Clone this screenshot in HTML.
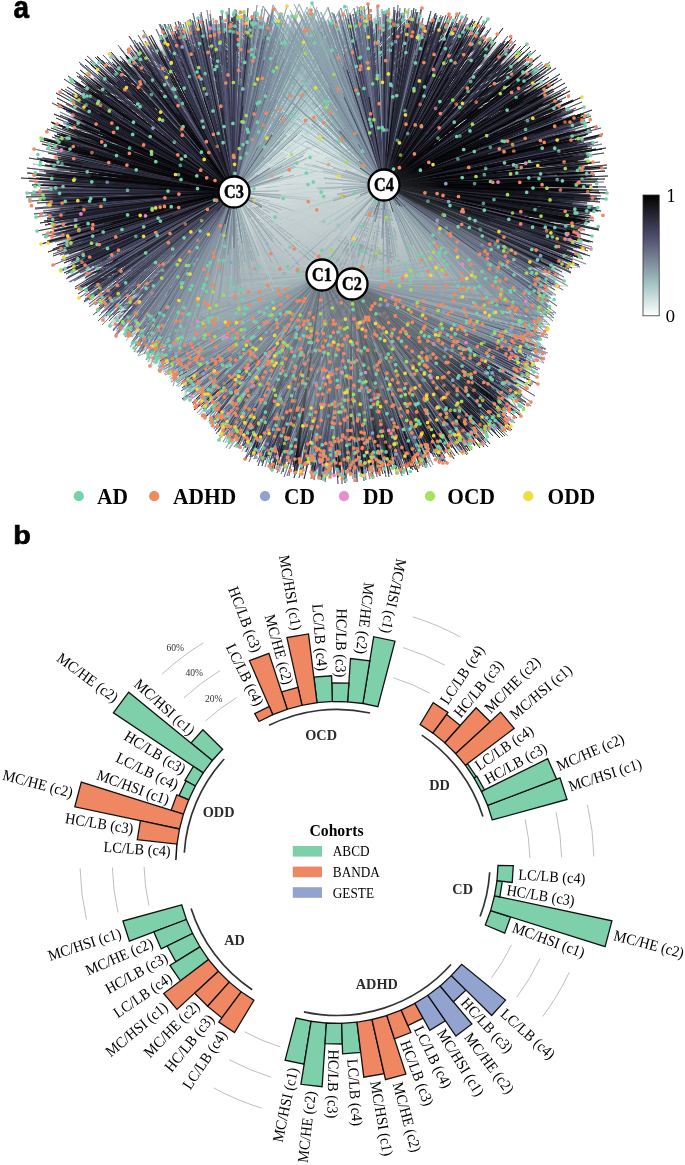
<!DOCTYPE html>
<html lang="en"><head><meta charset="utf-8"><title>Figure</title>
<style>
html,body{margin:0;padding:0;background:#fff;}
svg{display:block;}
text{font-family:"Liberation Serif",serif;fill:#000;}
.pan{font-family:"Liberation Sans",sans-serif;font-weight:bold;font-size:27px;}
.hub{font-weight:bold;font-size:18px;text-anchor:middle;}
.leg{font-weight:bold;font-size:23.2px;}
.cb{font-family:"DejaVu Serif",serif;font-size:16px;}
.gl{font-weight:bold;font-size:14.3px;text-anchor:middle;fill:#2b2b2b;}
.bl{font-size:15.4px;}
.pl{font-size:9.6px;fill:#333;text-anchor:middle;}
.lt{font-weight:bold;font-size:15.7px;text-anchor:middle;}
.li{font-size:15.6px;}
</style></head><body>
<svg width="685" height="1165" viewBox="0 0 685 1165">
<rect width="685" height="1165" fill="#fff"/>
<g id="panel-a">
<defs><path id="e0" stroke="#f6f9f9" d="M322 275l198-2zl126 113zl-77-13zl-3-4zl-188 56zl-96 150zl-182-11zl-125 85zl-185-11zl-15 146zl210 76zl-178-22zl72 14zl20 54zl16 108zl66 153zM352 284l73-17zl159 46zl-228 29zl-163 24zl-157-47zl-126 82zl-101 67zl-74-71zl92 112zl-56 102zl-208 39zl-151-6zl-30 95zl167-60zl200 11zl-108 41zl-138 54zl196 13zl-265 8zl-178 93zl-45 133zl195-35zl-218-9zM234 192l305 72zl243 18zl191-77zl22 174zl249-68zl226-71zl307 145zl14 175zl21 146zl211 42zl314-9zl313 66zl243-94zl303 148zl215-112zl279-53zl307 102zl323 11zl7 203zl201-57zl205 49zl315-27zl286 86zl235-87zl245-53zl314 105zl215 1zl11 207zl-8 256zl58 102zl21 189zl222 9zl326-118zl286 96zl12 236zl35 152zl365-1zl15 218zl282-72zl-2 163zl25 209zM384 185l-177 100zl-213 181zl-152 110zl-168-10zl-116 100zl-163 76zl-148 107zl-110 108zl-172 126zl67 118zl-76 97zl-98 103zl-216 94zl-169 97zl-170 137zl-231 168zl-221 119zl-196 207zl-241 153zl-306-6zl-194 72zl-229 152zl93 171zl-173 90zl-206 198zl-245 116zl-253-102zl-210 83zl-244 157zl-258 146zl-249 131zl-190-34zl-260 123zl-212-38zl-270 116zl-240 154zl-265 144zl-196 79zl-211 201zl-190 141zl-272 118zl-243 114zl-197 187zl-225 173zl-283 25zl-228 144zl-288 128zl-180 138zl-207 173zl-201 90z"/><path id="e1" stroke="#e5eeee" d="M322 275l-176-34zl-110-12zl90 141zl-3-52zl-74 51zl-101-14zl-203 42zl24 85zl6-17zl-66-56zl-44 97zl167 56zl110-23zl-62 140zl133 147zl201 96zl108 90zl221 45zl-15 75zl5 164zl12-43zl-220-20zl-15 139zl18 194zl164 111zl-26 74zl113 100zl91 172zl-128 101zl-15 73zl164 30zl13-54zl115 110zl-37 159zl-66 19zl62 150zl149 100zl6 109zl181 74zl160 66zl-140 35zl207 56zl143-2zl-202 4zl211 79zl-68-32zl-5 194zl-35-48zl73 66zl-9-38zl-71 120zl16 134zl13 134zl-120 118zl-4 61zl-94 154zl-226 26zl207 28zl-2 54zl74-18zl-100 140zl79 141zl38 69zl193 148zl-174 73zl-38 146zl75 135zl226 26zl34 29zl61 54zl164 148zl-219 43zl-212 27zl-203 41zl-127 98zl-215 14zl-65 44zl-80-32zl-75 138zl169 3zl183 18zl-56 53zl44 111zl-48 60zl33 83zl-94 135zl-63 126zl-97 108zl190 14zM352 284l-102 51zl177 41zl160 127zl180 62zl30-46zl74-15zl7 94zl80 104zl56-3zl-152 79zl11 96zl-43 39zl-43 96zl139 94zl-234-24zl73-29zl-53 164zl-185 32zl16-28zl-110 155zl-100 95zl-74 174zl142-15zl-167 56zl19 55zl-233 34zl202 31zl-90 121zl-115 80zl-165 79zl54-36zl-209 36zl8 18zl-125 126zl-181 74zl-143 105zl10 89zl-169 17zl-129 158zl87-20zl41 51zl-133 85zl-141 85zl-249 34zl59 79zl-158 98zl-215 61zl58 42zl207-10zl-58-36zl-186-34zl-62 98zl-226 38zl196-37zl187 71zl-83 32zl-171 64zl219-11zl-116 95zl108 8zl-178 83zl-23 47zl-112 45zl13 33zl-169-9zl-164 24zl64-44zl-77 68zM234 192l-6 247zl212-104zl182-90zl1 176zl228-168zl225-122zl94 66zl223-178zl213-139zl248-91zl-11 219zl89 68zl337-52zl-7 162zl298-123zl1 191zl52 96zl212-110zl158-70zl98-130zl24 137zl234-104zl-7 170zl169-117zl28 227zl162-84zl29 138zl82 75zl10 123zl7 185zl205-152zl185-76zl-5 242zl-5 204zl188-94zl-22 225zl185-67zl0 142zl7 210zl126-58zl21 180zl217-112zl293-128zl79 45zl142-47zl-11 238zl-12 234zl-7 218zl-23 210zl213-87zl-3 151zl136-67zl-12 223zl298 81zl245-142zl-23 222zl-6 168zl0 131zl52 103zl263-112zl309 43zl336-60zl213-92zl170-72zl2 229zl20 161zl263-2zl207-142zl178-111zl-23 184zl247 47zl163 13zl-14 192zl30 114zl150-36zl-5 209zl90-14zl350 19zl11 260zl182-137zM384 185l-164-33zl-155 79zl-206 76zl-261-74zl108 144zl-104 13zl-153-84zl-206-105zl99 156zl-216-97zl-253-59zl-128 34zl-162 93zl-146 99zl-61 75zl-132 76zl78 147zl-111 54zl-316 80zl126 168zl-191-96zl-206-32zl-233-123zl-212 160zl-180-44zl-244 164zl-197 162zl-288-31zl-235-109zl-246-95zl-192-73zl-117-90zl-173-89zl-153-122zl-188 130zl142 200zl-84 83zl-174 103zl-151-27zl-177 129zl-272-67zl-214-161zl-338-36zl-50 78zl20 75zl50 93zl-284 43zl-180 135zl-268-111zl-215 166zl-122-61zl105 146zl-121 89zl-265-33zl-115 61zl-106 77zl-236-103zl-182-91zl-127 80zl-190-133zl-320-62zl20 92zl-163 48zl-265-33zl-219-92zl-135 6zl-233 169zl-248 150zl-246 135zl-199 102zl-216-96zl-90 26zl117 187z"/><path id="e2" stroke="#d3e3e3" d="M322 275l-197 59zl103-8zl-93-11zl-73 75zl-43 92zl-182 8zl-20-8zl-181 44zl184 3zl-190 21zl176 59zl-60 127zl-9 103zl-60-17zl158 75zl144 29zl-64 27zl186 134zl-72-15zl-185 70zl204 100zl-68 65zl-135 97zl87 179zl-67 117zl220 10zl116 113zl-15 2zM352 284l95 179zl6 90zl-14 93zl-34 155zl-40 136zl-214 59zl189 1zl-125 46zl179-10zl-125 104zl-141 143zl-136 98zl-227 8zl42 34zl-78 55zM234 192l-11 143zl-16 181zl129-118zl26 109zl17 111zl188-162zl-11 140zl96 50zl94-111zl-43 199zl129-146zl25-98zl73 34zl162-97zl127-137zl112-116zM384 185l147 173zl22 86zl-156-138zl78 128zl43 104zl-123-156zl-145-90zl142 190zl-138-62z"/><path id="e3" stroke="#c2d8d8" d="M322 275l-2 25zl-90 20zl99 169zl207 50zl-2 83zl-12 26zl-106 53zl189 57zl-78 149zl-36 13zl129 58zl-3 57zl-46 132zl-1 31zl167-21zl-144 92zl-106 63zl21 32zl-177 33zl-12 42zl-62-1zl44 125zl5 37zl-138 107zM352 284l228-17zl-102 90zl8-5zl76-14zl195-26zl-200 70zl103-1zl-77 142zl-69 167zl-82 83zl38 70zl-93 131zl-16 17zl53 47zl-195 55zl-135 110zl129-45zM234 192l-20 159zl99-166zl-111 109zl-21 161zl-34 196zl-47 166zl130-177zl100-97zl90-125zl110-67zl91-34zl-40 184zl116-166zl178-182zl-23 195zl148-183zl175-151zl-17 131zl127-99zl164-181zl-37 200zl115-167zl111-113zl-41 164zl25 85zl137-157zl119-117zl125-165zM384 185l-136-113zl-102-48zl123 207zl-130-98zl-141-139zl-87-50zl-108-25zl-168-154zl20 84zl-152-119zl-131-93zl124 217z"/><path id="e4" stroke="#b1cdcd" d="M322 275l-61 5zl-204 56zl42 65zl209 69zl-84 15zl-29 192zl216 86zl-9 190zl126 51zl-94 148zl-137 102zl-146 75zl41 54zl-32 47zl-7 75zl225 53zl-123 38zM352 284l-163 103zl-7 186zl-45 172zl-84 112zl113-11zl-145 30zl-117 82zl11 97zl38 189zl65 91zl70 140zl169 130zl-77 148zl124 48zM234 192l114-160zl96-133zl107-112zl88-84zl-20 129zl-58 190zl132-131zl126-139zl145-132zl-31 176zl120-175zl-43 185zl-38 167zl104-163zl81-148zl-39 154zl106-127zl117-161zM384 185l-143-168zl127 147zl-114-101zl110 162zl-154-129zl-100-70zl-65 41zl73 85zl-143-151zl-149-159z"/><path id="e5" stroke="#a2c0c2" d="M322 275l103 27zl-199 48zl-169 41zl-110 36zl179 61zl-167 62zl105 14zl-183 70zl-73 139zl70 188zl-184 77zl150 116zM352 284l-108 128zl100 62zl1 168zl119 6zl-45 64zl38 98zl-186 39zl-139 89zl120-5zl112 6zl-42 151zM234 192l-63 174zl-10 119zl76-106zl145-147zl-64 173zl109-91zl-69 164zl-41 183zl89-171zl125-176zl74-138zl74-155zl89-175zl91-171zl88-116zl-30 149zl127-149zl84-96zM384 185l141 163zl-81-151zl-135-105zl-102-162zl-95-139zl-114-156zl-120-125zl-152-157zl-115-97zl-83-124zl-92-122zl-78-81zl-112-146zl-127-159z"/><path id="e6" stroke="#97b1b6" d="M322 275l-149 66zl-16 66zl-68 171zl-21 105zl20 93zl-128 43zl162 35zl-43 46zl-187 71zM352 284l105 15zl-10 96zl61 9zl87 163zl-175 48zl46 148zl89 141zl-85 160zl42 8zM234 192l-27 93zl-119 121zl53 35zl70-32zl-3-172zl93-124zl69-105zl77-68zM384 185l-96-170zl27-142zl-84-75zl148 149zl129 132zl-74-161zl-100-141z"/><path id="e7" stroke="#8ba1ab" d="M322 275l-84 158zl-177 75zl-66 155zl160 24zl186 161zl-97 168zl171 106zl-148 58zl-123 98zl-175 59zl-53 62zl-184 71zM352 284l-128 124zl170 87zl99 49zl54 67zl84 166zl29 114zl-121 78zl-70 108zl-152 30zl-141 99zl193 16zl-30 173zl-128 91zM234 192l-50 180zl47-150zl-54 143zl-6 237zl145 275zl21-68zl-48 162zl-60 182zM384 185l138 154zl-65-57zl-106 157zl-77-119zl-105-144zl-103-170zl141 141zl159 121zl-109 167z"/><path id="e8" stroke="#8092a0" d="M322 275l-164 96zl162 66zl146 53zl127 124zl-6 81zl207 33zM352 284l-134 89zl93 60zl93 159zl-155 104zl101 146zl104-2zl37 109zl-17 157zM234 192l-89 158zl-90 128zl40-156zl-27 117zl67-76zl38 167zl-51 45zl62-19zl-93 159zl43-132zl32-89zM384 185l-48-148z"/><path id="e9" stroke="#758395" d="M322 275l13 187zl-171 78zl196 110zl177 88zM352 284l43 101zl-140 134zM234 192l-83 132zl14 144zl17 34zM384 185l19-171zl139 117zl-55-135z"/><path id="e10" stroke="#6a738a" d="M234 192l-15 212zl174 115zM384 185l25 228z"/><path id="e11" stroke="#5f647f" d="M234 192l19 228zl4 146zM384 185l19 164z"/><path id="e12" stroke="#f6f9f9" d="M322 275l217-1zl-69 44zl-3 116zl-119 121zl8 168zl-180 69zl49 158zl-6 183zl160-45zl-215-17zl-242 13zl-180-43zl-141-29zl9-35zl207 110zl-128 51zl148 23zl-101-42zl13 69zl190 32zl144-22zM352 284l-181 82zl-120 11zl76-54zl50 12zl-134 49zl-50 92zl130-49zl-212 65zl-6 61zl5 51zl-230-2zl139 79zl91-47zl-19-83zl-37 131zl-23 42zl-75 28zl-186 71zl-61 129zl-62 38zM234 192l-6 196zl13 255zl90 77zl286-65zl251-37zl271-5zl282 62zl195 63zl8 243zl184 43zl351-34zl309 107zl305 96zl210-99zl277 53zl264-16zl276 73zl189-52zl15 163zl96 77zl12 248zl19 147zl17 187zl15 241zl52 212zl-11 193zl9 169zl41 128zl314 106zl247 58zl237-35zl19 153zl185-63zl251 78zl29 204zl358-60zl336-42zl273-38zl22 219zl149 32zM384 185l51 108zl-183 132zl-191 93zl-220 189zl-238-1zl-153 144zl-169 40zl-236 132zl111 147zl-207 133zl-258 156zl-146 105zl-153 64zl-290 68zl-154 122zl-138 90zl-209-40zl-185 198zl-177 169zl-12 84zl-229-55zl-267 121zl-189 91zl-211 73zl-194 153zl-255-73zl-318 89zl-226 155zl-235 148zl-203 160zl-258 149zl-160 36zl-306 86zl-229 106zl-176 86zl-204 181zl-314-14zl-156 19zl-289-2zl-248-46zl-183 129zl-255-42zl-252 9zl-274 117zl-182 98zl-244 126zl-240 169zl-218-13zl-278 31zl-256-98zl-296 102zl-201 70z"/><path id="e13" stroke="#e5eeee" d="M322 275l-104 65zl-103 129zl-1 169zl193 67zl-176 85zl-104 98zl84-4zl-31 159zl145 164zl-192 72zl-29 1zl-50 184zl-22 140zl-91-26zl68 116zl221 83zl-5 116zl148 108zl-124 56zl-32 18zl-166 56zl51-18zl-41 134zl-159 29zl154 145zl-119-16zl-172 11zl96 124zl-218 1zl-27 93zl97-42zl-5 68zl-69-2zl-148 31zl-197 47zl6-7zl-206 61zl62 145zl120 17zl181 42zl177 15zl-179 45zl-4 192zl-110 47zl-50-12zl-136 28zl161 9zl111 40zl-88 48zl-101 107zl6 170zl-177 64zl-134-11zl-149-20zl192 109zl-14 159zl142 158zl69 38zl-137-21zl-49 187zl-101-25zl181 157zl114-39zl-136 116zl-200-1zl-161 69zl32-42zl-139 0zl37 96zl-188 77zM352 284l-107 153zl60-23zl-35 42zl188 85zl-124 104zl-248 20zl-5 59zl37 19zl132 19zl-47 54zl13-7zl-118-36zl-269 1zl-78 9zl-72 60zl-67 102zl12 56zl-144 2zl58-46zl-28 121zl61 105zl-144 63zl157-62zl-80 181zl14 158zl-16-8zl-224 33zl67 49zl10 57zl-63 150zl-168 34zl-234 42zl17 163zl-165 47zl136 65zl-138 90zl-68 84zl112-27zl-198 71zl-31 114zl-15 63zl-82 153zl-166 19zl-242 20zl-260-6zl-76 137zl-87 183zl-182 57zl-209 53zl92 55zl9 75zl-126 61zl-152-28zl-126 164zl-45-58zl-149 3zl186 14zl-151 30zl-134 133zl-119 52zl-15 112zl9 125zl39 21zl-137-5zl-195 21zl-71 163zl115 156zl-88 32zl-20-25zl49 161zl-153-9zl124 155zl3 154zl-88 22zl181 34zl192 79zM234 192l-29 170zl-10 216zl6 172zl19 127zl-12 185zl-28 190zl72 83zl-6 250zl319 7zl-16 184zl261-119zl-11 232zl-7 148zl57 94zl19 264zl171-77zl170-37zl150 27zl0 176zl300-131zl-26 174zl-19 219zl218-128zl181-142zl-18 204zl290 14zl245-132zl-11 235zl-24 167zl323-113zl218-10zl-6 218zl107-37zl18 153zl23 130zl-37 196zl-1 157zl66 76zl158-100zl2 162zl-30 182zl178 9zl116-29zl-12 231zl-6 221zl-4 210zl101 48zl100 71zl3 172zl351-69zl7 140zl13 119zl-30 188zl-2 165zl218-129zl-13 196zl203-177zl209-74zl206-90zl-3 170zl-11 222zl-6 224zl232-128zl323-32zl-22 210zl-1 190zl108-2zl286-14zl153-114zl13 133zl196-171zl277-126zl117 28zl200-141zl356-70zl63 75zl-19 228zl218-115zl207-89zl170-166zl11 130zl275-147zl-23 157zl67 60zl331-82zl21 170zl-3 142zl153-42zl-20 228zM384 185l24 98zl-183-98zl112 241zl-220-78zl-163-42zl-230-97zl140 182zl97 137zl-182-44zl-197 130zl105 146zl-113 33zl-139-2zl-160-31zl159 173zl-128-55zl-154-16zl114 149zl-275 129zl-262-75zl-279-82zl-179-78zl-120-28zl-180 101zl-158-55zl-59 76zl-182 91zl-212 179zl-271 57zl142 173zl132 208zl11 79zl-310 96zl-71 52zl-174-73zl-287-42zl-123 4zl-184 219zl-131-50zl-303 28zl-210 148zl-102 25zl-137 114zl128 183zl-268-126zl-248 141zl-271 116zl76 149zl-180-87zl-208 108zl-255-123zl47 113zl93 175zl-203 164zl-219 146zl-204 74z"/><path id="e14" stroke="#d3e3e3" d="M322 275l-23 141zl-196 45zl34 101zl123 69zl-193 49zl-165 18zl17 67zl136 40zl-204 30zl180 135zl45 152zl158 40zl-128 50zl208 64zl-53 63zl-34-5zl-152-7zl-172 68zM352 284l41 107zl-143 67zl-63 120zl-53 116zl-181 80zl5 10zl-114 61zl-44 174zl186 77zl-121 57zl-157-8zl-33 115zl158-19zl153-16zl-134 138zl179 26zl69-34zl-172 52zl61 0zl5 30zl189 10zl-16 178zl-194 56zl8 33zl92 54zl-17 4zl-90 82zM234 192l-56 195zl-16 182zl27 88zl-28 149zl77 46zl-34 171zl-48 172zl147-137zl123-113zl54 62zl178-146zl-21 190zl-41 212zl95-142zl136-170zl0 130zl143-149zl100-98zl84-3zl-7 138zl-18 215zl-23 145zl103-81zl111 16zl181-130zl144-143zl144-161zl13 120zM384 185l127 187zl-125-79zl-169-132zl-120-87zl58 97zl-154-158zl-156-113zl-116-13zl-139-103zl118 141zl155 189zl-133-59z"/><path id="e15" stroke="#c2d8d8" d="M322 275l-160 89zl8 62zl98 142zl-24 29zl-94 25zl-91 66zl-159 38zl121-23zl152 32zl-64 94zl-136 28zl29 83zl77 12zl168-8zl67 8zl6 24zl28 183zl200 41zl83 56zl-101 113zl28 193zl141 176zl5-4zl-63 2zl-161 45zl67 92zl14 185zl-94 10zl-48 64zM352 284l-10 21zl97 13zl149-22zl-196 47zl16 38zl132 57zl-161 41zl-112 24zl-124 105zl127-23zl-113 1zl7 188zl-24 42zl-147 110zl-176 66zl82 73zl-139 108zl129 64zl-115 129zl-171-3zl-159 38zl-217 27zl-32 49zl-142 55zM234 192l-37 207zl125-112zl-44 195zl107-15zl119-97zl146-175zl-7 139zl-4 132zl154-172zl92-12zl95-139zl-24 146zl-35 181zl93-67zl-49 171zl134-178zl-47 179zl145-152zl113-164zl119-103zl88 14zM384 185l-133-141zl131 157zl-171-167zl90 122zl52 92zl-144-100zl-82-99zl-56 55zl-134-148zl-160-122zl-152-166zl-126-110zl-130-74zl134 200zl-144-97zl-150-172zl-131-124zl140 212zl-83 1z"/><path id="e16" stroke="#b1cdcd" d="M322 275l179 155zl209 83zl88 164zl-35 21zl-12 128zl98 68zl86 134zl-52 122zl-55 120zl25 68zl-58 130zl113 99zl161-13zl28 40zl-79 155zl-60 188zl82-15zl159 44zl-136 18zl-12 134zl-86 151zl-36 20zl-84 29zl-110 143zl-75 24zl-202 47zl67 135zl166-9zl-107 145zl-75 163zl-37 22zl-152 92zl216 39zl-197 43zM352 284l-170 106zl-133 23zl113 138zl135 19zl-20 124zl-104 42zl-190 44zl-118 24zl-58 70zl60 99zl-114 3zl-204 15zl-181 71zl14-5zl116 25zl118 32zl-74 58zl56 91zl203-5zl-144 128zl168 4zl27 3zl-198 53zl10 124zl133-14zl42 5zl-200 62zl-73 56zl74 177zl80 76zl-150 112zM234 192l100-178zl-50 209zl83-182zl131-122zl124-131zl84-110zl95-105zl-36 141zl-52 187zl130-162zl134-144zl95-116zl82-121zl125-151zl82-164zl-48 178zl-50 197zl4 112zl-75 167zl-72 173zl-51 180zl133-165zl-26 155zl162-172zl82-138zM384 185l-108-85zl-106-50zl137 142zl-92-82zl-120-144zl-170-148zl144 184zl-140-166zl-176-132zl148 178zl-49 55zl-120-151zl162 164zl-117-93zl-96-49zl140 135zl164 150zl101 116zl-145-138z"/><path id="e17" stroke="#a2c0c2" d="M322 275l-104 95zl126 15zl-29 56zl-109 65zl159 47zl-114 72zl-133 126zl-133 87zl58 96zl-43 150zl24 65zl74 124zl213 45zl-13 51zl41 106zl-142 26zl-121 121zl107 44zl-4 54zl-73 101zl105 4zl202 122zM352 284l-196 78zl-58 133zl6 48zl-73 83zl-146 63zl207-8zl-205 59zl-208 57zl127 20zl128 4zl26 22zl188 23zl144-15zl155 15zl114 20zl96 42zl-31 49zl-80 94zl-132 143zl-102 57zl-18 139zl-208 55zl16 47zl92 91zl106 2zl161 33zl157 0zl-163 68zl55 151zM234 192l-25 146zl-53 181zl-39 144zl135-174zl131-166zl-36 139zl110-170zl85-64zl149-181zl-27 122zl-53 177zl136-175zl-67 151zl96-69zl106-116zl-67 164zl-39 181zl83-74zl128-175zl107-139zl108-102zl-30 131zl85-142zl-131 128zl131-171zl87-133zM384 185l-126-165zl150 163zl-147-138zl175 91zl-5-140zl42 84zl142 147zl-104-143zl-79-100zl89 110zl-129-174zl-93-126zl-90-126zl-87-39zl-103-72zl-53 55zl-101-73zl-82-55zl-125-91zl-131-169zl-73 13zl-112-120z"/><path id="e18" stroke="#97b1b6" d="M322 275l166-13zl-28 142zl-89 74zl205 41zl-142 53zl8 61zl-133 32zl-76 76zl-126 122zl139 106zl-157 81zl21 74zl199 66zl-24 184zl-20 54zl-63 30zl-54 121zl47 174zl-176 40zl27 144zl-8 171zl-172 65zl-11 204zl-28 64zl141 71zl-53 69zl-186 51zl84 188zl-39 53zl-187 66zl-60 91zl49 121zM352 284l106-7zl-148 70zl175 37zl135 138zl191 36zl-20 58zl-6 53zl14 163zl81 10zl-150 79zl-137 65zl-156 31zl37 85zl4 153zl-122 70zl-150 41zl113 158zl159 34zl0 186zl160 114zM234 192l95-167zl80-141zl119-178zl87-145zl67-57zl66-82zl-71 121zl70-28zl-79 141zl54-154zl19 81zl73-180zl33 71zl70-161zl-49 151zl-65 174zl-44 157zl-65 159zl91-160zl-68 154zl-55 167zl-62 161zl-73 63zM384 185l-123-152zl151 177zl-12-131zl-76-108zl-85-95zl-101-157zl48 72zl129 133zl118 113zl143 179zl136 157zl81 88zl-10 63zl-63-75zl36 72zl98 100zl136 123zl-114-158zl-96-97zl-93-153zl-39-106zl-75-38zl-87-80zl-75-108z"/><path id="e19" stroke="#8ba1ab" d="M322 275l-78 99zl-78 137zl-138 115zl-108 119zl-77 68zl-113 99zl-12 66zl40 195zl184 151zl-108 101zl194 118zl-20 128zl135 67zl-53 183zl-173 70zl-54 80zl-110 123zl-151 83zl-114 45zl-38 70zl27 83zl88 51zl-109 117zl87 171zl195 27zl172 47zl-165 79zl-67 65zl-160 84zl-133 62zM352 284l197 18zl158 52zl190 56zl192 14zl-50 69zl-37 98zl186 34zl-89 46zl-159 96zl-59 161zl-57 84zl186 34zl-17 178zl-132 103zl-105 95zl143 105zl-22 184zl-141 118zl44 62zl-100 134zl-124 76zl-6 160zl21 60zl-67 47zl146 111zl-67 65zl35 62zl156 47zl-178 90zl116 131zl159 59zl119 159zl149 88zM234 192l69-119zl64-48zl-28 155zl-54 140zl25-80zl67-156zl-6 108zl145 173zl-38 123zl-11 109zl-15 113zl-41 126zl11-164zl-67 163zl62-176zl70-71zl59-7zl15-1zl197 163zM384 185l-110-170zl-70-134zl-77-174zl98 114zl-68-60zl139 155zl-66-103zl-130 261zl161 142zl10 281zl-74-26zl-77-87zl-74-136zl-87-132zl66 83zl-65-74zl115 105zl109 66zl-97-156zl-133 260zl-60-111zl-58-5zl127 133zl-77 189zl-63-147zl-127-157zl-131 247zl-65-135zl149 76zl-68-131zl127 158z"/><path id="e20" stroke="#8092a0" d="M322 275l164 84zl-122 80zl-91 54zl30 191zl-32 67zl115 126zl-164 92zl-17 179zl-39 175zl-142 60zl-156 76zl-33 189zl-61 100zl95 69zl0 104zl219 83zl-30 101zl-46 87zl-103 94zl-111 152zl-90 136zl-136 79zl-37 88zl149 108zl124 95zl-32 107zl122 63zl-76 56zl-87 159zl-71 91zl-96 129zl-103 125zl-67 87zl149 168zM352 284l69 160zl175 102zl-96 82zl24 167zl-131 33zl-46 122zl29 68zl61 84zl79 6zl-121 68zl109 166zl-129 143zl-53 119zl77 119zl-152 120zl51 186zl164 109zl188 50zl-35 86zl-15 185zl89 12zl-131 104zl71 156zl151 126zl91 107zl-123 61zl-29 143zl-48 181zl-103 130zl37 126zl-19 160zl118 55zl-1 140zM234 192l40-177zl47-172zl-61 130zl58-89zl-74 179zl49-164zl-57 140zl64-66zl-40 11zl261 120zl-37-170zl50-138zl40-155zl23 37zl-4-130zl-51 125zl-33 86zl56 3zl-74 176zl-102 123zl54-74zl-33 122zl54-58zl-124 110zl3 44zl-66 90zl-99 149zl7-158zl70 181zM384 185l146 160zl120 126zl143 136zl-24-93zl-3-130zl153 155zl112 84zl-64-103zl142 139zl188 78zl139 150zl35 48zl-36-144zl-72-72zl39-128zl-34-146zl-146 199zl108 103zl176 94zl-71-131zl83 102zl154 128zl149 89zl14-174zl-52-173zl-114 181zl154 129zl155 100zl32 55z"/><path id="e21" stroke="#758395" d="M322 275l-60 85zl27 113zl-109 102zl108 160zl-16 183zl-126 78zl137 46zl26 150zl-70 129zl-73 99zl24 189zl169 145zl79 169zl59 94zl57 90zl113 83zl194 26zl-50 117zl-103 79zl-78 164zl-118 119zl61 114zl-100 148zl-39 176zl-137 68zl-129 96zl10 171zl-157 97zl14 187zl-103 84zl166 47zl-99 167zl172 41zl54 183zl-94 141zl-89 107zl75 97zl32 165zl121 162zl-53 70zl-45 157zl-65 64zl167 142zl168 137zl178 39zl16 203zl-140 84zl109 192zM352 284l147 12zl85 122zl-8 82zl137 69zl-171 89zl9 149zl-129 136zl-66 99zl-84 163zl-125 70zl-160 80zl111 152zl145 7zl56 125zl-98 162zl47 67zl31 68zl-14 187zl-54 175zl168 67zl-81 72zl-67 150zl-37 169zl177 60zl61 29zl87 88zl121 57zl-180 80zl16 92zl-30 93zl-124 146zl20 68zl13 72zl180 36zl-80 75zl49 57zl-114 156zl-116 142zl57 162zl15 157zl179 82zl126 28zl-82 82zl46 110zl41 166zl50 192zl-123 117zl34 84zl-130 128zl192 33zl-58 190zM234 192l-81 124zl-72 136zl-87 151zl29-134zl-40 109zl52-130zl12 83zl-78 139zl34-162zl-69 71zl-87 146zl-68 131zl-69 98zl19-160zl-16-97zl-34 168zl-92 156zl-76 148zl-119 110zl-96 164zl20 51zl-22 112zl24-42zl49-99zl-41 108zl-147 100zl-75 136zl-122 129zl-127 93zl32-46zl-80 145zl26-174zl-80 153zl28-183zl14-162zl27-174zl48-119zl-126 134zM384 185l155 89zl-156 254zl-43 219zl31 67zl138 135zl140 45zl97 71zl153 130zl124 84zl-42-10zl113 57zl144 97zl-53-135zl180 82zl44 49zl-50-102zl-15-126zl-41-116zl-45-96zl133 105zl-42-95zl162 109zl130 88zl-20-175zl138 141zl149 133zl157 123z"/><path id="e22" stroke="#6a738a" d="M322 275l186 145zl-80 177zl125 188zl3 135zl-88 93zl-10 152zl-49 174zl189 149zl185 69zl-41 153zl145 164zl-74 115zl-102 88zl-109 109zl30 195zM352 284l96 104zl-129 127zl191 74zl42 182zl-30 131zl93 111zl-132 129zl-99 136zl-55 180zl196 51zl55 121zl122 27zl-124 126zl-117 132zM234 192l-45 116zl192 276zl97 182zl30-151zl34-175zl4-67zl-2-163zl-6-64zl-56 77zl86 267zl27-3zl62 253zl-3-171zl-70-121zl-92 128zl-151 111zl22-179zl-36-54zM384 185l27 275zl-36-153zl144 111zl87 64zl184 101zl-17 20zl144-113zl-20-142zl78-133zl-118 214z"/><path id="e23" stroke="#5f647f" d="M322 275l182 102zl150 93zl0 104zl-8 155zl116 162zl-50 190zl-84 146zl173 156zl-16 158zl-2 163zl-125 100zl72 136zl189 156zl-28 145zl-76 142zl-20 155zM352 284l59 176zl-44 102zl110 48zl141 62zl83 91zl-55 141zl-41 119zl10 186zl135 58zl-62 169zl56 141zl-35 174zl5 173zl21 114zM234 192l27-158zl-20-155zl-94 136zl-25-164zl-104 131zl-62 86zl-41-145zl26-12zl-72-167zl-156-13zl-85 141zl-25-154zl30-158zl26-152zl-151 94zl-73-110zl-70-130zl-28 85zl15-125zl-85 64zl37 276zl-65 101zl-104 144zl-104 13zM384 185l136-138zl-21 195zl220-3zl105 69zl-42-148zl146-132zl-7-142zl-97 253zl0-172zl125 53zl164 104z"/><path id="e24" stroke="#545574" d="M322 275l-16 173zl-103 138zl-98 157zl-36 181zl-21 113zl-47 186zl-127 132zl-108 93zM352 284l-171 107zl94 70zl-25 171zl-59 183zl-105 132zl-85 163zl188 74zl-110 128zl32 77zl150 61zl130 57zl115 68zl68 83zl159 64zl-79 178zl86 104zM234 192l0-161zl-56-112zl-142 63zl4-166zl-72-86zl-23 69zl-192-53zl-96-121zl-89 116zl11-171zl-69-109zl-148-88zl-16-94zl-86-147zl-100 150zl-122-108zl-115-40zl17-66zl5-145zl-89-39zl-23-171zl-100 83zl-35-135zM384 185l179 105zl0-67zl-17-53zl0-104zl27-166zl-2-88zl21-124zl-8-40zl172 102zl-2-129zl29-10zl158 116zl175-39zl0-29zl131 71zl144 97zl161 126z"/><path id="e25" stroke="#494965" d="M322 275l37 198zl-92 102zl-62 165zl-133 123zl-28 170zl-15 123zl-36 150zl136 81zl-15 142zM352 284l-37 147zl100 52zl-35 162zl-88 167zl-25 178zl1 116zl-54 179zl105 131zl-109 139zl29 145zl40 168zl191 65zl164 108zl151 118zM234 192l-82-127zl-118-105zl11-55zl-72-61zl-53 54zl-9-125zl-146-38zl-59-129zl-140 42zl-116 121zl-119 40zl2-179zl4-175zl-162-40zl-9-133zl-45 10zl31-119zl-80-148zM384 185l92-149zl-20-125zl-27-46zl23-159zl118 72zl17-170zl-1-111zl53-135z"/><path id="e26" stroke="#3d3d55" d="M322 275l5 185zl22 186zl50 166zl-11 190zl50 160zl29 191zl58 190zl-86 129zl116 181zM352 284l-96 122zl125 76zl97 148zl105 43zl156 114zl132 92zl35 175zl19 169zl104 132zl-165 104zl-24 190zM234 192l-155 106zl-42-172zl-1-58zl-81-142zl-111 125zl-177-52zl-150-52zl-63-43zl-58-133zl-133 18zl-170-69zl-201-28zM384 185l-9-103zl117 77zl88-155zl99-150zl-43-27zl21-95zl167-42zl112 8zl110-93zl-12-163zl53-82zl104-155zl106-137zl-19-2zl30-113zl99-111zl144 69zl115-128zl139-124zl91-148z"/><path id="e27" stroke="#323246" d="M322 275l63 193zl153 161zl104 172zl-61 172zl44 114zl-59 121zM352 284l94 150zl-75 176zl93 162zl-21 165zl147 114zl-102 171zM234 192l-143 30zl-140 104zl-61-81zl-141-112zl-21-156zl-145 34zl17-114zl-160-28zl-36-94zl-101-90zl-178-26zl-146 95zM384 185l4-158zl212-47zl47-138zl197 52zl-22-112zl181 46zl138-11zl17-148zl53-116zl66 5zl189 14zl7 4zl180-91zl124-125z"/><path id="e28" stroke="#272736" d="M322 275l188 92zl-25 151zl140 158zl-67 178zM352 284l60 132zl94 169zl134 159zl-36 170zl155 130zl122 149zl49 188zM234 192l-110 17zl-71-134zl-134-99zl-136-71zl-108-50zl-4-23zl-149 101zl-7-135zl-158-109zl-51-104zl-148-100zl-33-102zl-122-116zl-164-43zl-32-160zM384 185l144-40zl133-28zl94-126zl96 37zl146 92zl31-123zl170-44zl-27-119z"/><path id="e29" stroke="#1c1c27" d="M352 284l116 164zl-47 179zl152 130zl107 133zl161 106zM234 192l-159 97zl-109-49zl-161-77zM384 185l10-92zl134 28zl167-117zl189 17zl216 8zl60-68zl21-66zl204-31zl45-113zl74-81zl144-104zl112-94zl56-75z"/><path id="e30" stroke="#111117" d="M352 284l-58 194zl114 141zM234 192l-77-8zl-100-134zl-198-14zM384 185l206-30zl80-153zl35-60zl103-141zl-14-97z"/><path id="e31" stroke="#060608" d="M322 275l171 106zM384 185l96-113z"/><path id="e32" stroke="#f6f9f9" d="M322 275l-125 95zl195 96zl132 98zl-71 28zl-96 120zl-64 134zl-161 77zl24 147zl-51-11zl-138-30zl-114 57zl110 79zl-51 93zl-107 4zl-68 78zl-44 70zl7 93zl11 49zM352 284l96 6zl-110 122zl-158 17zl-121 154zl-141-23zl-50 84zl93-50zl-122 23zl-249-52zl-180-27zl178 62zl74 91zl201-16zl87-43zl-141 29zl146 1zl-52 93zl94 86zl-106 133zl113 158zl19 112zl-138 136zM234 192l26 175zl316-87zl17 242zl302 56zl-19 189zl277-70zl8 249zl260-46zl-5 224zl191 62zl284 36zl223-24zl245 32zl256 26zl223-77zl-15 248zl19 228zl274 28zl299 113zl9 238zl23 237zl187 58zl217-58zl277 40zl18 226zl19 236zl24 189zl43 120zl20 157zl58 100zl255 78zl166-44zl313-4zl316-39zl204 59zl39 269zl10 243zl16 170zl294 99zl262-23zl-4 239zl28 169zM384 185l-217 147zl-195 123zl-305 83zl-281 85zl-130 104zl-327-51zl-240 157zl-189 151zl-145 108zl-193-44zl-276-2zl94 160zl-275 133zl-94 108zl84 124zl-227 108zl-221 128zl-220 128zl-144 123zl-203 174zl-196 82zl-193 24zl-290 39zl-127 44zl-265 133zl-311 83zl-198 118zl-54 84zl-169-25zl-218 127zl-209-14zl123 203zl-302 77zl-191 132zl-190 140zl-95 83zl-171 75zl-220 84zl-239 154zl-230 135zl-199 117zl-306 37zl-184 80zl-164-27zl-153 96zl-285 131zl-295 24zl-212 111zl95 171zl-199 143zl-218 177zl-301 118zl-296 27zl-232 141zl-161 48zl22 98zl-246 157z"/><path id="e33" stroke="#e5eeee" d="M322 275l-49-11zl165 28zl87-4zl-35 118zl43 2zl-33 169zl-116-38zl-74 92zl81 74zl-48 18zl181 92zl-94-20zl119-5zl1-15zl196 85zl211-11zl-49-36zl-174 79zl-90 103zl-117-37zl135-16zl-52 87zl79 184zl107 77zl4 75zl-170 79zl-205 54zl-157-12zl185 129zl-218 7zl188 63zl-99 57zl192 119zl175-33zl206 18zl-11-1zl52 18zl-120 1zl-22-7zl-201-5zl47 123zl-167 16zl165 67zl225 39zl38 27zl33 203zl14 138zl10 53zl-20-22zl35 39zl-63-19zl219 52zl-135-13zl145 131zl34 65zl209-1zl-121 39zl-96 82zl112 124zl-155 20zl157 13zl-174-17zl-122-10zl-213 46zl-197 4zl227-12zl-209 26zl62 86zl149 17zl-146 12zl30 53zl132 45zl234 0zl-129 47zl106 101zl200 51zl60 77zl200 16zl123 125zM352 284l87-22zl73 18zl7 189zl-33 8zl-167 103zl-190 80zl-17 153zl-199 36zl80-25zl158-29zl-245-1zl-139 56zl-32 74zl138 99zl37 136zl-238 32zl-222 63zl-196-47zl-231-13zl-100 120zl-124 40zl-220 53zl31 20zl-220 58zl-126 82zl70-36zl17 48zl-235 45zl-37 7zl-19 172zl-136 112zl173 80zl-138 110zl46 90zl-22 193zl198 41zl129-57zl156-15zl192-4zl62 22zl158-9zl-108 59zl167 11zl-75-4zl-119 65zl-47 68zl69 29zl192 1zl-108 39zl199-25zl30-45zl-148 110zl22-36zl-130-13zl-144-13zl47 3zl-103 127zl-240 37zl5-38zl25 130zl-215 69zl129 86zl-46 53zl-132 80zl-156 108zl-203-28zl94-13zl-88 68zl-182 83zl194 10zl-59 127zl-245 2zl-30 93zl-167 114zl-107 154zl-186-27zl-4 48zl43-20zM234 192l-16 178zl-17 217zl4 214zl7 175zl168-136zl252-113zl-19 190zl126 3zl12 162zl-3 218zl68 78zl-25 220zl2 151zl194-30zl148 46zl352-1zl15 182zl130-90zl364-56zl242-115zl-21 187zl209-152zl160-100zl-16 224zl47 96zl98 49zl117 45zl-31 202zl-3 149zl255-129zl102 41zl-20 202zl-15 217zl-18 234zl1 235zl232-120zl-12 175zl151-41zl250-78zl-1 184zl-14 221zl77 82zl-6 197zl10 151zl13 200zl176-103zl272-138zl-23 182zl1 185zl148 47zl221-71zl-9 179zl137-86zl-16 230zl97 48zl-6 231zl83 47zl115 43zl211-96zl9 133zl197-75zl-15 196zl3 158zl39 118zl-15 177zl223-113zl182 55zl8 218zl-6 148zl-24 189zl-5 196zl303 48zl12 139zl137-40zl197-125zl234-174zl22 155zl-11 244zl315 53zl19 119zl120 41zl87 54zl232 52zl98-98zl-10 159zl213-155zl73 85zM384 185l73 114zl-161-38zl-123 95zl113 175zl27 93zl-265-117zl-215 115zl-253 138zl-295 119zl-175 106zl-211-114zl-185-82zl-240 135zl36 100zl-263 86zl95 119zl-268-98zl-325 61zl-260-86zl-260-69zl59 117zl-243 134zl-65 86zl-251-124zl-199-38zl-142-42zl-222-160zl136 182zl-181 74zl-198-91zl-189-102zl-206 98zl82 136zl-73 89zl-205-91zl-208 182zl-203-64zl69 150zl-173 128zl49 109zl-133 5zl-240 138zl-283-54zl-267 125zl-161 12zl-163 55zl-212-119zl-124 81zl-264-124zl157 173zl-286 71zl-261-67zl-82 68zl51 120zl-207-54zl-129 35zl-146-37zl-122 20zl-290-107zl-236 163zl-291-72zl93 126zl87 135zl-205-119zl-226 155zl-41 66zl84 116zl-265 131zl-142 82zl-239-150zl-126-10zl90 126zl-133 41zl-270-51zl-255-82zl-160-133zl123 173zl-215 108zl-283 119zl-150-88zl-227-60zl121 157z"/><path id="e34" stroke="#d3e3e3" d="M322 275l21 45zl110-16zl199 52zl50 56zl-172 91zl205 87zl0 205zl-25 27zl-73 101zl-155 41zl54 57zl18 91zl-90 123zl-29 32zl-47 21zl-31 64zl0 171zl80 124zl-102 0zl-135 107zl71 159zl196 44zl-152 61zl158 72zl115-25zl72 43zl-97 143zl214 26zM352 284l159 25zl159 88zl-148 116zl-17 90zl73-18zl-204 78zl-134 92zl-206 76zl-71 173zl-96 94zl154-6zl1 30zl-40 44zl30 136zl156 101zl183 36zl76-50zl116 167zl-34 52zl-140 114zl181 33zl-140 107zl-60 10zl-204 64zl137-14zl181 54zl-104 52zl-240 19zl-78 95zl-129 94zl160 3zl-80 3zl196 26zl35 152zl153 9zl51 36zl114-31zl-33 165zl-74 37zM234 192l144-171zl145-128zl-14 177zl-1 127zl154-130zl174-126zl-32 201zl-51 208zl-43 187zl137-130zl55 76zl-1 144zl194-148zl119-138zl-17 135zM384 185l-156-133zl-150-107zl-127-34zl-181-164zl121 188zl-148-134zl82 119zl-128-80zl-166-87zl-56 55zl-129-74zl-186-156zl-102-19zl-136-149zl-85 45zl-123-78z"/><path id="e35" stroke="#c2d8d8" d="M322 275l-98 36zl33 190zl-12 119zl-174 42zl-128 26zl-31 11zl17-13zl-48 61zl44 172zl56 33zl76-25zl-143 3zl-78 163zl-173 58zl45 189zl-121 54zl208 71zl118 135zl-160 31zl-144 74zl-16 62zl210 89zl-178 79zl-116 2zl145 144zl197 95zl-17 126zl142-18zM352 284l-199 79zl156 136zl-162 48zl60 79zl-85 13zl-75 155zl-69 5zl-10 24zl-67 60zl172 17zl-24 11zl11 34zl70 37zl160 46zl-177 81zl167-17zl140 11zl166 35zl-115 66zl51 59zl39 29zl-88 42zl-47 82zM234 192l34 93zl-45 195zl56 58zl78-27zl118-137zl-31 204zl-50 195zl131-94zl157-160zl120-65zl-27 162zl114-162zl142-152zl107-56zl128-168zl107-114zl9 119zl109-99zl122-112zl-4 124zl-44 202zl-16 112zl78-189zM384 185l127 124zl92 127zl-122-76zl-129-108zl-156-57zl-143-122zl-108-90zl-77 41zl-134-112zl-119-112zl84 119z"/><path id="e36" stroke="#b1cdcd" d="M322 275l13 99zl198 77zl-174 87zl-99 145zl-199 26zl-146 59zl-7 166zl-165 39zl30 74zl90 108zl-2 50zl210 88zl-136 97zl213 87zl219 30zl-186 60zl-62 157zl-72 124zl1 152zl101 66zl80 135zl-192 61zl-33 79zl148 64zl40 40zl-98 154zM352 284l100 111zl44 170zl59-6zl-91 52zl-28 38zl141 123zl-47 40zl-26 38zl12 28zl109 97zl-67-3zl-168 106zl10 34zl-42 135zl-174 83zl-66 121zl-126 18zl-121 135zl-109 22zl148 64zl-63 130zl-174 65zl108 86zl-17 185zl-92 15zl127-8zl-134 148zl-17 60zl37 83zl-47 42zM234 192l-63 190zl132-157zl104-114zl87-101zl120-172zl101-62zl-23 142zl129-110zl84-120zl-24 165zl-24-182zl-72 170zl-41 179zl94-150zl116-177zl119-80zl178-170zl137-162zl90-141zl93-140zM384 185l-75 15zl136 167zl-86 5zl-156-171zl-116-157zl-95-55zl-77-27zl17 84zl-109-114zl-81-90zl-105 6zl-171-161zl-96-51zl-124-70zl-76-141zl20-65zl-91 0zl83 121zl-121-156z"/><path id="e37" stroke="#a2c0c2" d="M322 275l-113 76zl80 21zl232 10zl157 29zl133 95zl124 99zl187 129zl-170 62zl228 50zl-138 43zl24 70zl197 20zl-51 177zl-100 10zl176 10zl-91 79zl-75 50zl-112 106zl47 53zl-39 187zl118 116zl-66 72zl135 60zl-90 80zl-186 60zl-70 172zM352 284l164-6zl-99 35zl-124 155zl13 148zl38 29zl-61 150zl182 9zl1 51zl-154 47zl-117 143zl-129 48zl10 116zl-1 46zl-109 158zl20 88zl25 62zl19 117zl178-4zl177 19zl154 121zl-185 48zl115 84zl-92 12zl-156 58zl-2 95zl-105 154zl-78 51zl109 149zl-21 46zl145 151zM234 192l77-178zl94-184zl81-96zl69 27zl127-182zl76-175zl-96 91zl91-9zl74-138zl9 114zl82-86zl84-160zl87-101zl98-180zl75-45zM384 185l-121-125zl-123-151zl-116-168zl-48 48zl-60 40zl142 141zl133 160zl162 169zl-135-147zl-123-150zl-139-157zl137 139zl75 95zl-67-14zl-153-164zl33 78zl-62 21z"/><path id="e38" stroke="#97b1b6" d="M322 275l-99 133zl184 148zl-131 99zl91 42zl71 99zl-69 181zl36 99zl4 60zl-66 79zl-162 79zl224 22zl-18 180zl-10 131zl-65 47zl-65 97zl-67 108zl-64 39zl86 100zl-31 84zl222 78zl95 162zl-96 70zl-75 108zl-19 148zl-48 104zl122 59zl56 181zl-168 70zl-56 124zl156 32zl9 64zl94 82zl-108 149zM352 284l-147 78zl173 64zl91 130zl40 103zl-42 110zl-42 119zl159 48zl13 51zl-102 74zl-99 144zl-28 169zl-103 92zl164 25zl111 116zl-23 163zl-164 108zl-43 158zl183 44zl79-5zl165 61zl-50 66zl-14 125zl52 95zl-99 48zl-139 108zl-47 60zl35 29zl103 151zl-107 153zl-105 96zl64 51zM234 192l73-185zl8-133zl56-171zl-50 162zl-14 103zl28 66zl-6 93zl61-151zl76-53zl59-4zl54-156zl-30 128zl-92 160zl72-88zl76-168zl3 87zM384 185l-63-105zl147 159zl-133-156zl-110-176zl-111-168zl132 124zl-27-106zl-116-138zl77 123zl171 94zl149 153zl-108-153zl-81-98zl147 181zl94 122zl-123-167zl-68-59zl-63 21z"/><path id="e39" stroke="#8ba1ab" d="M322 275l-63 43zl-107 107zl38 72zl-147 86zl142 74zl-178 67zl66 188zl-39 59zl90 108zl-125 60zl101 192zl72 191zl97 58zl-169 78zl-106 121zl-72 48zl-87 152zl-4 203zl-62 42zl-67 163zl-75 117zl217 69zl165 127zl-133 71zl-129 49zl-101 133zl-99 69zl12 148zl-16 151zl142 111zl14 100zl-45 103zl33 81zl-111 90zl45 166zl185 83zl-69 36zl104 186zl-181 76zM352 284l-37 81zl199 14zl-200 41zl179 74zl27 177zl14 54zl-74 88zl-93 84zl-35 143zl-76 60zl-8 186zl159 45zl-79 127zl57 114zl42 180zl32 136zl4 185zl-104 124zl34 76zl-102 115zl54 71zl174 57zl18 108zl118 14zl182 88zl116 8zl2 57zl32 77zl-67 51zl-160 101zl63-9zl-134 142zM234 192l83-146zl-35 134zl-26 112zl-68 152zl65-102zl56-125zl71-107zl2 168zl5 88zl-50 126zl11 151zl-116 113zl82-152zl63-46zl87-167zl-94 150zl107-184zl58-129zl234 109zl24-117zl65-104zl-84 156zl-57 166zl-63 165zl29-186zl-81 166zl67-6zl-69 139zl76-83zM384 185l-106 235zl132 93zl28 178zl-65-94zl142 151zl-68-150zl-67-143zl-64-108zl80 109zl-73-151zl145 127zl-96-147zl-85-120zl-109 276zl130 125zl144 98zl-75-140zl164 153zl16 54zl-194 195zl-146-163zl142 142zl-54-62zl136 103zl-67-155zl138 106zl-62-109zl74 101zl-39 23zl120 122zl-53-144zl103 65zl-72-114z"/><path id="e40" stroke="#8092a0" d="M322 275l-132 71zl-146 111zl-109 53zl-87 108zl-39 71zl-69 153zl-19 117zl-100 105zl-140 73zl63 162zl75 148zl122 112zl-131 98zl-16 175zl-81 57zl-113 104zl-60 70zl-79 50zl15 194zl-96 173zl160 100zl-111 139zl-106 107zl-120 27zl145 107zl41 158zl-41 172zl-126 117zl50 75zl-100 79zl-141 73zl-114 72zl196 47zl218 58zl-127 74zl-35 185zl0 182zM352 284l-53 132zl3 171zl-158 108zl-156 72zl82 129zl-120 94zl148 84zl-101 132zl157 120zl70 68zl47 39zl-187 91zl188 67zl61 163zl-158 92zl74 174zl-136 142zl-88 121zl41 68zl101 133zl-162 116zl-16 74zl-72 142zl4 71zl6 78zl49 189zl177 63zl65 153zl-181 71zl-101 162zl63 165zl-131 98zl49 99zl184 45zl-120 120zl72 174zl9 76zl119 134zl-189 49zl-127 99zM234 192l44-156zl-155 76zl-115 125zl13-164zl-57 126zl14-120zl-19 90zl-125 119zl10-173zl45-96zl27-86zl-59 173zl55-62zl-36 110zl63 233zl53-186zl62 201zl-68 166zl-90 131zl57-99zl-153 21zl-54 109zl-31 95zl-36-163zl36-165zl56-38zl74-148zl-40 203zl59-143zl-45 160zl-51 83zl-35 121zl-84 151zM384 185l25-177zl124 103zl-50 18zl-7-88zl150 137zl-73-98zl89 85zl-60-118zl120 149zl-48-160zl156 130zl145 118zl-68-157zl32 62zl-28-105zl-55-124zl-243 163zl-72-182zl108 102z"/><path id="e41" stroke="#758395" d="M322 275l24 103zl-151 91zl-93 136zl-107 106zl218 63zl36 132zl-111 93zl-1 97zl54 199zl182 101zl-88 162zl109 116zl76 157zl-132 90zl-64 147zl-26 131zl20 209zl-141 84zl173 37zl-123 71zl50 82zl-70 70zl-31 96zl-47 119zl102 57zl64 83zl-126 115zl-119 93zl-5 91zl79 198zl8 193zl-155 68zl-143 83zl-104 74zl42 153zl176 120zl-132 119zl210 40zl-93 73zl-49 135zl-32 97zl141 180zM352 284l-183 93zl105 78zl30 117zl-38 92zl129 16zl84 43zl-170 86zl51 88zl126 61zl170 55zl130 112zl169 68zl69 72zl142 63zl-144 138zl-130 100zl-55 92zl91 11zl-119 92zl-123 150zl-85 120zl131 50zl-13 89zl168 58zl54 178zl-127 87zl128 31zl-90 179zl-141 127zl145 144zl119 123zl182 16zl102 81zl-63 83zl-3 93zl-52 102zl185 35zl123 46zl134 139zl116 17zl169 40zl-102 137zl160 20zl-15 82zl-136 89zl54 179zl-123 155zl46 127zl-116 142zl-157 84zl48 71zl110 26zM234 192l-3 68zl24-55zl-13 69zl-40-147zl138 122zl-81 126zl-106 144zl-102 145zl-175 54zl-92 152zl39-170zl39-134zl-166 73zl48-55zl-76 142zl-62 153zl-74 162zl13-152zl-90 161zl36-163zl-39 84zl-8-154zl43-129zl42-32zl-12 79zl-34 98zl-85 153zl41-121zl-91 128zl27-157zl-36 104zl-77 147zl-141 112zl35-104zl-80 134zl-90 147zl-93 148zl2-160zl-65-88zl-123 120zl-58 135zl-92-118zl-11 81zl-9 75zl-65 121zl51-87zl-83 162zM384 185l165 117zl-15-163zl-37-31zl158 155zl-14-153zl-52-134zl-48-126zl146 111zl38 63zl-40-163zl163 119zl99 77zl-8-145zl201 69zl138 114zl-55 279zl133 118zl-141 126zl169 108zl152 114zl-132 214zl101 85zl104 81zl30 53zl78 125z"/><path id="e42" stroke="#6a738a" d="M322 275l73 151zl189 55zl-70 144zl-135 83zl-104 141zl100 66zl-36 129zl-46 118zl-114 126zl143 167zl147 60zl99 142zM352 284l3 181zl140 83zl83 126zl111 92zl-123 135zl-90 162zl64 106zl-17 161zl95 110zl156 125zl68 140zl27 183zl-110 120zl-93 137zl-69 178zl-167 63zl169 112zM234 192l121 204zl261 215zl20-180zl-78 114zl9-147zl-97 107zl-42-80zl-63 91zl19-3zl-23 83zl-128 63zl-114 87zl21-137zl-37 32zl-94 97zl-115 124zl14-156zl-121 109zl-129-125zl238 100zl-64 76zM384 185l-20-170zl163 73zl55-145zl119 69zl-34-22zl-86 241zl-136 223zl-88 161zl197 16zl-18-107zl-10-155zl-125 92zl-31-110z"/><path id="e43" stroke="#5f647f" d="M322 275l173 57zl-95 119zl-137 113zl-33 159zl202 75zl-145 108zM352 284l80 170zl131 57zl-160 100zl115 56zl-22 159zl-55 179zl93 170zl168 110zl19 105zl146 50zl6 134zl50 97zl166 63zl66 115zl-6 138zl35 141zl41 109zl-49 181zl30 88zl63 171zl11 106zl114 139zl-81 184zl127 72zl76 92zM234 192l24-172zl-64-145zl-59 169zl-86 107zl-43 78zl-73-141zl-29-146zl-112-110zl72 241zl-94 72zl-40-144zl-43 73zl-42-148zl16-114zl-25 187zl-70 77zl-116 69zl-64-157zl9-125zl-127 90zl27-85zl10-178zl-145 104zM384 185l190 70zl34 50zl46 28zl-10-114zl95 42zl30-173zl24-155zl153 143zl97 40zl101 74zl-38-131zl42-148zl-19-169zl165 87zl123-117z"/><path id="e44" stroke="#545574" d="M322 275l103 140zl-94 107zl56 161zl12 182zl-117 143zl-87 129zl-81 155zl-99 151zl-4 165zl-122 85zl-108 103zl-49 189zl-98 122zM352 284l91 153zl-49 155zl-18 175zl93 144zl-30 196zl-136 80zl-115 161zl53 176zl96 71zl133 147zl92 64zl-49 124zl25 193zl-1 173zl78 110zl156 146zl-44 135zM234 192l-27-34zl-49 76zl23-81zl3-145zl-100 111zl-178-9zl23-174zl-2-175zl-117 119zl-46-169zl-77 122zl-59 114zl-69-168zl-76 85zl-63 121zl-15 36zl-141-80zl-172-40zl-188-43zl-103-109zl-8 77zl-13-115zl-21-168zl-144-25zl13-52zl29-99zl19-100zl-158-8zl14-51zl-2-173zl16-119zl-74 135zl-135 124zl-127 55zl12-140zl-18-1zl-169 62zl-107 136zl-7-129zl-103 135zl5-136zM384 185l202 70zl150 58zl126 70zl21-70zl16-177zl46-149zl152 39zl218-41zl125-3zl-3-148zl-4-168zl20-105zl-25 23zl-8-165zl180 92zl37-161zl53-169zl-16-134zl155 96zl92-132zl-28-159zl76-139zl178 76zl5-177z"/><path id="e45" stroke="#494965" d="M322 275l138 84zl-83 157zl-91 135zl34 192zl-71 151zl-81 122zl-107 153zl-98 131zl-115 121zl96 68zl-83 127zl51 204zl-43 120zl-45 184zM352 284l132 144zl154 43zl75 181zl41 94zl4 123zl-91 178zl142 86zl119 141zl155 79zl180 73zl153 73zl47 156zl45 126zl77 131zl99 145zl6 178zl-143 137zM234 192l-7-94zl-156-34zl-191 19zl-75-117zl-172 26zl-109 117zl-138-87zl-135-113zl-140 90zl-44 53zl-125-80zl-12-181zl-117 142zl-114 109zl-41-98zl31-153zl31-85zl-128-130zl-72-76zl-18-167zl20-81zl-192 43zl-108 59zl-181 73zl-105 43zl-158-110zM384 185l123 96zl16-126zl207 14zl152 63zl78-4zl122 66zl107-80zl-4-123zl106 63zl-15-141zl54 40zl127 87zl156 74zl48-161zl1-141zl-39-6zl145-40zl62-150zl-42-78zl28-23zl6-164zl-7-101zl-14-132zl21-177zl140-133zl96-156zl197 56zl190-84zl8-18zl214 45zl149 112zl3-35z"/><path id="e46" stroke="#3d3d55" d="M322 275l8 155zl-91 163zl-120 126zl-8 198zl5 182zl128 181zl-51 134zl74 105zl196 37zl16 164zl-26 190zl190 49zl-69 181zM352 284l-76 133zl-53 160zl68 132zl-4 157zl176 91zl173 71zl-25 129zl150 126zl20 170zl81 95zl148 144zl-23 180zl110 74zl-57 150zl97 78zl-4 158zl-38 196zl76 85zl56 115zl-32 175zl130 65zl-64 162zl180 98zM234 192l-32-24zl-84-146zl-41 86zl-162 2zl-74-168zl-56-144zl-25 99zl-9-89zl-176 35zl-158-120zl-72-134zl-67-32zl-14-65zl-94 75zl-70-168zl-105-80zl-135-97zl-194-51zl-82-138zl11-178zl-127 82zl-88 105zl-132 70zl-41 31zl-156 26zl-167-4zl-52 15zl10-154zl-122-130zl-55 7zl-91-131zl-154 60zM384 185l79-156zl173 47zl170 100zl167 37zl83-147zl27-80zl12-77zl118-128zl60-5zl156 22zl66 39zl-21-81zl-9-153zl91 46zl104-166zl-11-69zl176-31zl106-135zl15-159zl127-119zl-42-146zl42 59zl142-74zl57-135zl-4-131zl113-71zl39-146zl153 1z"/><path id="e47" stroke="#323246" d="M322 275l113 129zl183 121zl111 100zl66 161zl174 147zl3 200zl29 194zl3 177zl-170 72zM352 284l-60 126zl112 103zl115 155zl24 176zl91 179zl166 88zl59 134zl-129 101zl126 89zl94 108zl117 62zl-36 163zl117 61zl109 164zl-63 161zl136 133zM234 192l-34 16zl-115-124zl-9-137zl-159-10zl-34-35zl-126 93zl-160-111zl-19-141zl-194-27zl15-30zl-117-72zl-161 76zl-80-50zl-166 62zl-130-46zl-69 37zl-55 108zl-36 18zl2-143zl-109 35zl-124 117zl-125 129zl-23-117zl-59-170zl-132-41zl-147 75zl-110-108zM384 185l198 72zl55-166zl32-83zl9-146zl-33-50zl30-104zl110-39zl75-159zl78 50zl-29-14zl60-133zl-10-137zl68-159zl158-62zl193 63zl179-72zl143-49zl189 65zl195 50zl89-81zl163 13zl14-174zl210-41zl45-66zl59-67zl171-82zl144-94zl106 51zl144 101zl162 13z"/><path id="e48" stroke="#272736" d="M322 275l-17 182zl-118 141zl-102 130zl-73 168zl-59 151zl-125 132zl-73 136zM352 284l4 148zl88 176zl-2 177zl-153 97zl129 119zl90 123zl8 164zl153 147zl90 113zl108 97zl67 169zl-140 97zl-97 151zl-116 152zl102 117zM234 192l-43 28zl-152-67zl-8-105zl-203 3zl-125 103zl-83-92zl-156 28zl-197-34zl-82-90zl-79-136zl-16-64zl-39-109zl-80-116zl-53-71zl-110-113zl-94-144zl-69-48zl-57-159zl-28 4zl-174 17zl-40-148zl-81 40zl-69-20zl-35-27zl-183-21zl-145 83zl-126-51zl-27-79zl-79-141zM384 185l169-10zl206 71zl37-176zl148-30zl38-144zl104-72zl112 18zl52-172zl57-145zl-17 22zl-16-150zl150 47zl212 25zl35-139zl95 39zl188 39zl67-168zl113 81zl5-99zl182-17zl206 28zl16-118zl118 4zl143 4zl123-117zl211 15zl26-147zl171 105zl182-71zl-28-102zl130 84zl61-162z"/><path id="e49" stroke="#1c1c27" d="M322 275l33 199zl150 123zl40 167zl-7 198zl150 147zl-106 134zl152 153zl189 151zl124 161zM352 284l100 147zl67 163zl-107 157zl162 127zl62 173zl-44 181zl123 162zl-124 137zl129 86zl75 163zl74 179zl-40 158zl128 119zl46 160zM234 192l-90-109zl-56-171zl-68-17zl-73 3zl-158-106zl-87-14zl-174-77zl-108-135zl-170 26zl-20 30zl-147-87zl-94-14zl-167-45zl-55 21zl-98-53zl-146-79zl-36 74zl-70-88zl-6 2zl-124 20zl-150 33zM384 185l207-13zl78-161zl135 7zl171-40zl101-30zl29-56zl173-10zl174-107zl69-2zl119 77zl1-34zl112-112zl115 20zl90-82zl161-90zl42-138zl151-41zl30-177zl193-21z"/><path id="e50" stroke="#111117" d="M322 275l47 159zl94 161zl101 183zl104 184zl144 148zM352 284l135 145zl-13 173zl48 146zl160 137zl61 163zl-29 189zl131 160zM234 192l-117-110zl-53-7zl-84-99zl-18 50zl-125-49zl-9 24zl-111-133zl-119-100zl-47-52zl-106-103zl-136-67zl-70-93zl-182 23zl-78-70zl-137-102zl-105-87zl-122-112zl-85-15zl-33-86zl-144-106zl-89-123zl-141-18zl-23-71zl-157 24zl-15-14zl-106 42zl-182 6zl-124-97zM384 185l181-95zl137-111zl92-108zl49-157zl146 5zl65-171zl156-48zl178-84zl125-62zl208-12zl148-48zl208 0zl204-21zl197-69zl73 43zl121-144zl157-57zl72-112zl58-16zl186-20zl26-166zl179-54zl157-61zl59-115z"/><path id="e51" stroke="#060608" d="M322 275l-60 183zl-29 190zl185 76zl32 160zl54 175zl-4 189zl107 179zl170 147zl75 191zl177 110zM352 284l137 146zl173 121zl99 127zl144 80zl165 105zl123 161zl112 145zl92 159zl98 139zl120 141zl99 142zl77 152zl51 162zl73 160zl28 186zl41 162zl118 167zM234 192l-46-152zl-69-100zl-91 64zl-107-136zl-144-1zl-122-4zl-158-8zl-1-34zl-169 58zl-175-50zl-27-13zl-186 32zl-180 26zl-185 49zl-93-117zl-118-133zl-11-72zl-160-1zl-114-6zl-96-115zl-121-128zl-155-92zl-36-40zM384 185l47-158zl77-155zl158-96zl159-82zl113-33zl127-63zl115-84zl166-28zl51-62zl209 57zl203-29zl73-162zl154-2zl-10-44zl91 26zl130-92zl103-82zl76 9zl152-53zl101-158zl135-131zl133-76zl49-18zl140-90zl39-95zl108-143zl71 54zl198-65zl57-40zl106-44zl176-84zl139 26zl149-121zl199 64zl190-29zl153-12zl113-105zl215 6zl30-97zl28-104zl112-16zl139-86zl143-24zl70-152zl213-4z"/><path id="e52" stroke="#f6f9f9" d="M322 275l-7 90zl33 121zl89 3zl44 145zl21 61zl205 46zl-127 65zl99 81zl-14 130zl-148 75zl-131 102zl-229 2zl-158-6zl-113-65zl-139 97zl122 65zM352 284l-155-35zl-156-25zl31 105zl6 44zl89 27zl-142 121zl-69 126zl194-27zl7 28zl67 120zl-162 103zl-95-55zl-97 88zl-159 34zl-258-17zl-132 78zl-16 91zl-170 91zl-107 74zM234 192l282 86zl297 31zl20 186zl368-43zl229-95zl-11 228zl347-72zl38 144zl176 46zl51 89zl89 76zl306-55zl193-14zl18 187zl269 70zl296 118zl111 66zl306 15zl317-49zl166 14zl222 6zl24 161zl17 159zl295-88zl94 76zl224 44zl17 254zl188-14zl259-56zl321-68zl315 71zl309 73zl312 3zl40 120zl301-58zl271 101zl32 155zl32 136zl309 114zl172-38zl-9 226zl285 46zM384 185l-206 202zl-289 36zl-182-17zl-145 107zl-251 142zl-78 90zl-178 162zl-228 121zl-239 165zl-222 143zl-192 157zl-248 97zl-204 143zl-190 116zl-183 38zl-240 156zl-202 188zl-166 42zl-270 119zl-257-4zl-189 52zl-82 82zl-276 100zl-336 48zl-299 108zl-226 182zl-232 152zl-323-59zl103 163zl-143 115zl-168 153zl-261 127zl-243-80zl-167 26zl-171 197zl-199 155zl-131 88zl-209 143zl-340-14zl-144 17zl-246 171zl-290-37zl-331 43zl-241 56zl-213-36zl-234-104zl-198 98zl-191 38zl-215 181zl-204 151zl-191 115zl-157 122zl-217 158zl-213 24zl-263 5zl-195 6zl-107 97zl-244 104zl-291 92zl-221 182zl-173 242zl-243 155zl-182 117zl-254 61zl-264 137zl-207 91zl-217 22zl-266-51zl-215 179zl-320 70zl-209 192zl-208 102zl-154 89zl-184 45zl-221 138zl-209 72zl-210 182zl-249 161zl-234 158zl-219 148z"/><path id="e53" stroke="#e5eeee" d="M322 275l135 24zl-13-75zl-13 35zl-189 52zl83 36zl-32-25zl-39 125zl-126 90zl-113 63zl-217 36zl-13-29zl-233 29zl-238 26zl114 52zl-17 40zl145 65zl143-31zl-7 152zl-44 102zl201 65zl194-21zl-35 67zl199 30zl-15 22zl-13 48zl-247 12zl-7 107zl189 54zl151-5zl218 32zl-137-16zl-161-22zl100 77zl-20 45zl-111 134zl-107 74zl-82 33zl-170 70zl186-6zl-109 98zl-53 174zl-23 128zl-86 157zl4 158zl-103-47zl-216 38zl-123 8zl-55-12zl-132-18zl-44 67zl-104 85zl222-27zl40 82zl-110 110zl-174-23zl-65 161zl-3 125zl55 71zl-180 57zl98 149zl153 17zl98-44zl219 19zl75 100zl-208 26zl83 164zl21-24zl157 72zl-168 62zl-132 67zl-31 128zl52 131zl42 45zl-155-37zl-14 144zl-2 58zl-196 9zl61-51zl124-19zl189 68zl37 143zM352 284l38 75zl-198 32zl-112 68zl-110 168zl-16-48zl-48 143zl-77 122zl-188 90zl-41-46zl82 7zl9-55zl-133-47zl-221 39zl120 100zl-207 26zl-114 0zl-238 20zl-8 177zl166 26zl-49 108zl-195 75zl-97 87zl-138 38zl-33-13zl140 79zl-158 17zl173 32zl26 24zl-189 20zl-107 59zl-88 48zl-161 89zl-197-9zl176 9zl22 9zl31 33zl-148 90zl159 140zl97 33zl-18 24zl65 60zl49 65zl116-27zl-252 4zl-71 71zl-235 26zl-202 13zl-61 75zl-128-27zl-156 106zl-94 18zl41 142zl-120 123zl-93-28zl-7 46zl-141 130zl4 20zl-119 98zl2 156zl-193 75zl137-14zl187-3zl218-12zl-87 137zl-86 115zl-92 57zl62-46zl149 33zl-101 82zl63 171zl147 101zl-221-26zl19 44zl-162 56zl-96 63zl165 46zl-37 66zl-107 38zl-68 1zl105 103zl-29-3zl-31-38zl194-6zl-244 42zl165-37zl-172-25zl-216 40zl-74 133zM234 192l-16 148zl-11 216zl9 142zl242-162zl4 169zl154-165zl102 44zl194 38zl49 97zl-21 136zl-4 185zl228-105zl10 120zl28 111zl17 234zl245-101zl190-139zl294-47zl34 128zl-37 221zl201-80zl162-115zl234-164zl266-136zl2 157zl250-141zl302-71zl126-10zl-21 221zl-2 186zl-8 191zl22 186zl-26 219zl300-72zl134-78zl210-140zl24 139zl101 29zl47 109zl12 201zl30 140zl205-129zl-8 233zl5 184zl249 19zl-1 151zl37 260zl181-83zl25 142zl-2 242zl24 122zl41 104zl40 104zl241-131zl253-76zl-10 189zl-17 225zl-47 190zl228-140zl-35 164zl229-125zl17 173zl249-144zl-29 202zl125 20zl5 178zl253-148zl21 128zl-9 241zl-9 177zl-23 235zl94 48zl-18 190zl171 43zl231-133zl-16 157zl-26 209zl265-144zl-21 192zl30 124zl37 106zl-10 222zl103 47zl44 121zl-3 174zl17 143zl-2 212zl50 107zl6 137zl24 164zl293-31zl1 224zl248-123zl304-117zM384 185l-231 178zl-169 74zl-137-3zl-223 141zl-260 128zl-192-97zl-94 65zl-237 108zl-154 64zl122 142zl-187 64zl-178 52zl-159 56zl-238-92zl-30 57zl-156 70zl-250-145zl-126-38zl-291 85zl-193 85zl-140-56zl63 133zl-179 53zl-48 91zl-226-39zl-223 68zl-90 91zl-266 75zl-275 126zl-256-60zl-180-95zl-246-127zl-306-9zl-211-129zl-204-29zl-210 121zl47 94zl-158-22zl87 122zl127 239zl-147 104zl-228-107zl-113 79zl-130 58zl90 124zl73 157zl-221-38zl-209 122zl-214 156zl-285-65zl-267 149zl-257-80zl-230-99zl-271 146zl-107 18zl-219-41zl-119-34zl-221 85zl122 191zl-222-86zl-134 75zl125 161zl-281 133zl-297-129zl103 195zl-87 87zl-208 97zl-125 48zl-272 59zl-299-120zl-202 22zl128 213zl31 93zl94 127zl-275-133zl-159 82zl-82 72zl-176-89zl-213-101zl-63 61zl-227 169zl-211-133zl57 104z"/><path id="e54" stroke="#d3e3e3" d="M322 275l-144 16zl-155 57zl-54 10zl-151 107zl-56 110zl-76 79zl-86 17zl2-6zl-37 69zl-151 80zl29 184zl-6-8zl-102 150zl-144 8zl-32-8zl-183 26zl-4 134zl-97 0zl-33-7zl155 62zl46 117zl59 30zl-153 76zl41-9zl-165 30zl151-6zl191 42zl-220 26zl-99-2zM352 284l78 151zl89-14zl-187 72zl165-30zl-132 103zl-187 6zl177-2zl11 16zl119-23zl42-24zl-89-10zl-207 55zl-83 112zl-184-2zl-126-12zl-180 12zl163-28zl-40 125zl9 30zM234 192l233-175zl165-115zl93 33zl-35 202zl147-156zl-19 157zl6 116zl155-140zl167-177zl-26 198zl-21 174zl-30 130zl1 147zl137-110zl-47 171zl-38 198zl-3 162zl43 90zl-13 190zl-14 172zl-38 200zl38 95zl62 59zM384 185l89 142zl-92-1zl75 95zl-125-73zl-132-86zl-101-9zl-168-137zl123 146zl-31 69zl-97 42zl-94 10zl-163-108zl145 162zl-112 29zl-109-62zl-176-85zl-190-141zl-178-131z"/><path id="e55" stroke="#c2d8d8" d="M322 275l-117 142zl211 11zl25 68zl96 109zl-145 28zl188 58zl49 104zl0 24zl47 57zl31 44zl37 65zl-58 57zl183 82zl43 36zl67 94zl-94 155zl153 114zl58 70zl-87 91zl-33 106zl-85 75zl-39 51zl0 55zl-157 75zl-30 17zl-70 124zl-115 106zl-53 41zl-112 64zl113 42zM352 284l159-17zl170-11zl-161 90zl194 18zl-129 140zl-92 121zl-97 54zl216 2zl72 30zl187 39zl-152 5zl-205 54zl-58 110zl149 52zl-124 1zl-71 14zl-139 82zl-105 99zl170 32zl84-23zl143 10zl-99 144zl-186 0zl11 149zl-16 23zl-20 61zl-161 18zl135-24zl-138 145zM234 192l-40 200zl120-184zl-41 173zl-12 121zl152-173zl80-103zl131-145zl-38 200zl-44 146zl124-148zl37 72zl110-138zl-37 168zl107-64zl100-109zl-8 153zl-33 204zl-23 177zl136-139zl148-136zl109-123zl11 121zl-56 178zl-12 162zl-59 183zl119-133zM384 185l-121-139zl-169-161zl138 186zl-188-156zl-184-141zl122 136zl-110-17zl-89-139zl-109-31zl-102-142zl135 185zl-155-123z"/><path id="e56" stroke="#b1cdcd" d="M322 275l183 121zl-135 40zl-149 105zl56-9zl201 27zl208 35zl35 60zl135 172zl128-7zl201 129zl5 127zl61 42zl-109 91zl15 72zl-100 151zl-165 59zl-134 122zl37 88zl-26 170zl-172 46zl-36 101zl-35 168zl-137 27zl-58 41zl89 45zl17 130zl-146 52zl-206 56zl-175 56zl-33 89zl-184 45zl-137 12zl-85 4zM352 284l96 155zl-113 8zl148 102zl-134 37zl169 75zl178 12zl139 9zl-174 27zl-181 29zl-131 106zl-166 88zl-111 131zl-105 80zl-88 66zl-226 47zl-147 88zl19 28zl-14 18zl-47 80zl89 81zl-191 60zl5 134zl-218 68zl195 44zl116 97zl142 112zM234 192l39 72zl92-154zl113-38zl-23 176zl98-141zl-26 155zl79-132zl99-24zl-52 156zl73-94zl82-4zl-31 100zl116-173zl-63 166zl77-182zl85-127zl116-175zl-50 190zl94-172zl65 38zl127-172zl77-33zM384 185l64 105zl121 163zl160 174zl-137-157zl-82-166zl-108-130zl-155-161zl-143-137zl154 166zl-94-118zl-138-133z"/><path id="e57" stroke="#a2c0c2" d="M322 275l39 158zl-151 89zl16 103zl118 179zl-96 108zl183 98zl-45 30zl-78 50zl-75 89zl-72 57zl211 63zl-142 50zl152 122zl65 128zl-71 110zl-38 37zl222 88zl-157 56zl85 160zM352 284l-129 124zl39 21zl-6 76zl20 30zl-109 120zl-79 125zl-153 131zl-87 124zl134 21zl202 34zl-200 61zl106 31zl-189 88zl-62 39zl151-30zl-26 66zl-111 118zl180 79zl-172 82zl50 19zl-142 97zl-168 98zl115 3zl52-7zl-128 147zl30 68zl83 33zM234 192l-108 128zl149-152zl-18 136zl-108 149zl81-158zl73-169zl132-150zl77-158zl83-182zl80-133zl-54 157zl-57 180zl85-81zl-58 158zl104-161zl-31 137zl87-154zl107-158zl-52 183zl96-126zM384 185l-89-73zl131 99zl-83-149zl-112-101zl-114-125zl14 65zl117 151zl-98-27zl-92-142zl53 88zl-80-25zl110 131zl-103-99zl-149-173zl-85-97zl148 179zl-135-118zl116 129zl-88-23zl-128-172z"/><path id="e58" stroke="#97b1b6" d="M322 275l86 8zl92 185zl-41 150zl191 16zl-36 145zl86 127zl-141 80zl226 32zl-13 105zl-41 136zl-135 72zl8 62zl-33 73zl80 184zl72 189zl104 153zl-67 140zl-126 117zl-74 25zl-38 117zl211 53zl-71 90zl49 126zl-80 135zl-139 80zl-48 37zl-77 38zl-64 170zl-164 53zl-170 54zl36 187zl0 102zM352 284l-94 21zl-175 57zl46 87zl-31 173zl14 91zl-94 47zl169 67zl-94 85zl45 139zl-85 111zl-97 131zl180 34zl-103 37zl-161 107zl-127 132zl-125 23zl-6 127zl115 155zl-78 158zl86 84zl-117 150zl-14 194zl-99 148zl35 119zl-74 61zl105 51zl7 87zl116 20zl54-1zl-93 123zM234 192l112-183zl68-85zl65-181zl74-115zl-4 115zl79-154zl3 97zl-65 174zl-64 149zl54-131zl-124 134zl-55 166zl42-97zl-60 185zl-38 150zl47-99zl80-86zl65-188zl-41 142zl82-149zl116-179zl74-158zl-82 134zl-64 150zM384 185l-130-173zl-82-78zl105 96zl102 120zl-40-155zl-68-145zl-49 42zl151 177zl-100-113zl-70-105zl-103-165zl-119-160zl-83-156zl156 124zl-86-67zl-146-113zl-73-61zl160 132z"/><path id="e59" stroke="#8ba1ab" d="M322 275l-140 115zl-37 87zl74 179zl-104 101zl-104 58zl-10 199zl199 84zl-97 152zl-122 113zl212 47zl-140 73zl160 121zl-112 45zl-25 154zl-158 38zl-12 144zl-78 40zl82 106zl-5 136zl-92 54zl57 190zl-41 80zl34 194zl175 153zl114 175zl-111 152zl-156 80zl169 148zl-15 99zl-71 141zl65 161zl32 158zl21 81zl45 105zl-82 48zl154 57zM352 284l95 22zl169 43zl154 83zl-133 120zl-99 73zl174 41zl-118 62zl181 38zl-204 70zl151 46zl47 38zl185 31zl-67 84zl144 123zl17 157zl131 37zl-154 63zl-178 66zl-165 54zl201 9zl-89 174zl115 98zl-98 69zl22 122zl63-6zl152 23zl-42 106zl114 90zM234 192l61-80zl54-177zl-63 163zl-53 163zl40-34zl11-167zl69-125zl114-151zl-29 110zl-73 160zl-52 118zl-48 111zl-71 170zl80-112zl7 80zl87-167zl58-82zl-89 147zl-58 101zl10-182zM384 185l74 92zl-190 207zl-94-164zl156 153zl-56-177zl160 113zl-119-176zl-103-143zl127 144zl-66-113zl-109-129zl-131-153zl105 140zl-70-126zl144 108zl132 116zl126 122zl-76-131zl-79-112zl-63-94zl82 99zl34-168zl153 134zl-69-112zl-124-167zl36-159zl26 70zl-58-107zl-132-166zl-33-154zl-52-91z"/><path id="e60" stroke="#8092a0" d="M322 275l89 185zl129 95zl-142 57zl46 74zl171 132zl-145 72zl-80 160zl-1 182zl-93 108zl-53 93zl-80 164zl65 144zl-83 101zl-75 153zl-71 76zl85 54zl39 85zl-6 155zl187 32zl-7 140zl-76 165zl-105 48zl-95 135zl107 147zl74 164zl195 133zl112 82zl-22 102zl15 141zl-106 132zl55 139zl-155 80zl-97 96zl-104 87zl179 42zl49 123zl-69 157zl-44 79zl71 175zl-173 80zl-64 81zl144 99zl-130 89zM352 284l79 40zl192 75zl-86 101zl-10 73zl33 108zl51 65zl175 7zl24 190zl174 48zl-22 110zl-147 120zl37 86zl-38 162zl-81 168zl-63 180zl148 126zl-150 109zl-34 125zl77 138zl178 55zl88 107zl-192 55zM234 192l58-8zl44 228zl-84 66zl29-148zl-45 115zl22-162zl-70 121zl27-22zl60-133zl-115 126zl-25-168zl-71 132zl51-115zl47-172zl54-56zl42-160zl-77 149zl-85 163zM384 185l-27-179zl-58-147zl-67-175zl-71-125zl137 156zl-67-97zl194 81zl-30-58zl13 55zl29-100zl-65-50zl95 76zl-61-168zl83 87zl-63-56zl52 76zl52 65zl21 50zl-79 179zl-60-134zl133 117zl126 108zl82 59zl172 110z"/><path id="e61" stroke="#758395" d="M322 275l21 104zl23 195zl-129 90zl-15 181zl-157 91zl-37 111zl-3 106zl61 80zl-80 166zl140 58zl16 94zl203 133zl139 175zl204 51zl-47 151zl150 175zl41 94zl76 159zl88 117zl20 97zl-141 94zl28 201zl-118 47zl-159 87zl148 158zl136 130zl-90 82zl-132 74zl-102 87zl-97 94zl93 174zl43 161zl-56 130zl-19 162zl-112 63zl92 69zl-165 84zl201 80zl-107 119zl206 99zl-38 147zl66 172zl-91 91zl-49 186zl-56 72zl-86 104zl80 201zl183 67zM352 284l-60 90zl183 78zl3 92zl-124 158zl-21 85zl175 95zl48 68zl-11 169zl138 112zl-83 78zl-159 65zl27 68zl41 82zl-170 89zl137 47zl-52 131zl-22 93zl-179 68zl-123 132zl-90 148zl-37 157zl-144 82zl176 34zl177 91zl-10 200zl175 80zl160 53zl61 46zl-99 136zl-7 122zl174 101zl3 189zl154 142zl-172 65zl-42 163zl-77 137zl-117 55zl-122 118zl11 131zl-165 98zl-61 88zl-192 69zl-92 148zl-161 93zl-124 145zl174 43zl-176 72zl139 67zl40 120zl-134 66zl66 93zl81 181zl-118 107zl137 133zl-179 77zl82 76zl-5 157zl93 155zl58 118zl156 68zl-93 117zl-94 120zl-100 163zl65 137zl89 29zl-21 179zl-144 110zM234 192l29-146zl-127 91zl22 27zl-12 86zl-90 149zl-93 138zl41-157zl-26 94zl31-183zl189 267zl32-127zl-132 63zl-106 125zl-81 161zl-82 145zl22-176zl-30 94zl68 266zl-109 74zl-24 96zl35-176zl-108 142zl-48 91zl-72 114zl-92 140zl4-170zl38 22zl-28 93zl43 11zl-1-169zl-71 78zl-58 124zl-76 148zl28-173zl25 41zl31 229zl23-164zl-47 124zl-87 142zl15-129zl-43 110zM384 185l-36-145zl-22-147zl-38-176zl167 113zl-55-114zl115 61zl-41-84zl-29-138zl158 124zl154 133zl-48-136zl59 67zl146 125zl129 96zl152 141zl156 127zl-15-149zl148 133zl-37-160zl-56-104zl69 83zl-21-139zl106 82zl105 85zl-13-155zl-34-168zl-152 169zl-43-151zl-43-132zl157 102zl80 72zl-54-162zl82 68z"/><path id="e62" stroke="#6a738a" d="M322 275l13 162zl103 169zl19 148zl-94 164zl-52 162zl-90 132zl-15 176zl151 93zl12 166zl139 158zM352 284l109 58zl140 45zl-45 151zl102 89zl73 119zl171 120zl151 65zl117 100zl26 158zl-42 116zl55 128zl99 33zl129 60zl-65 159zl113 154zl-129 152zM234 192l131 240zl-3-91zl33-109zl-5-169zl7 121zl33-97zl-54 86zl-95 109zl-84 105zl22-157zl-91 145zl19-57zl-152-26zl-135 114zl-35 62zl-122 111zl-101-103zl-8 80zl-132 109zl20-55zl19-131zl-97 126zl27-134zM384 185l-166 189zl151 129zl129 52zl-19-138zl140 21zl-31-90zl-22 159zl-32-68zl67-51zl154 113zl-12-92zl90 82zl-9-68zl162 93zl208 62z"/><path id="e63" stroke="#5f647f" d="M322 275l-55 132zl64 106zl40 183zl-93 82zl-63 114zl4 180zl-10 153zl-127 85zl71 151zl-110 98zl34 188zl-35 161zl-98 76zM352 284l179 118zl-17 167zl38 107zl-114 86zl-57 178zl-50 174zl-35 139zl179 68zl-169 116zl-75 155zl-148 131zl-139 134zl80 116zl22 176zl-118 163zl159 61zM234 192l-14-74zl-129 119zl-19 33zl156 121zl-113 79zl-126-9zl21-115zl18-51zl8-49zl-111 120zl-103 99zl-6-145zl-114 122zl-105 0zl-118-118zl-34 73zl-116-58zl-95 145zl6-33zl-80 136zl1-166zl-152 71zl154 236zM384 185l145 59zl1-172zl-4-157zl95-94zl34-173zl-33-153zl157 100zl-43-117zl26 53zl-10-110zl164 102zl-107 215zl-14-163zl26 274zl168 101zl7-83zl-17-158zl118 92zl173 79z"/><path id="e64" stroke="#545574" d="M322 275l130 120zl-42 130zl73 130zl-63 166zl-18 166zl96 173zl-67 88zl-72 157zl-93 121zl37 154zl-98 68zl-149 101zl-45 190zl23 200zl42 165zl198 115zl-86 167zM352 284l-153 115zl43 129zl-78 182zl-74 171zl75 104zl-95 168zl126 55zl119 36zl-149 115zl57 106zl-38 183zl111 148zl108 50zl26 189zl64 79zM234 192l-61 74zl-136 80zl-120 124zl-191-8zl18-93zl-186 41zl7-153zl-194 7zl-176 41zl-26-156zl-24-169zl-103 28zl1-64zl-103 83zl-157 18zl41-69zl-70-101zl-23 27zl-43-148zl-57 50zl-91 144zl-157 96zM384 185l18-129zl180 29zl-19-115zl20-159zl132-145zl173 90zl-18-124zl149 120zl42-137zl120-114zl11-36zl127 45zl166-123zl164 113zl83-171zl189-15zl168 131zl189 41zl-6-136z"/><path id="e65" stroke="#494965" d="M322 275l-98 133zl72 179zl-18 179zl129 179zl-9 167zl54 196zl-22 186zl-26 170zl56 140zl13 173zl78 190zl178 98zl50 190zl81 164zl7 140zl30 194zM352 284l-18 192zl102 82zl190 67zl94 79zl155 79zl8 133zl116 170zl15 180zl133 132zl-167 100zl-125 146zl170 91zl67 58zl83 148zl112 84zl85 167zl17 164zM234 192l-33-151zl-178 56zl-15 45zl-96-157zl-33 31zl9-52zl-177-23zl-142-89zl-126-76zl-66 88zl-84-57zl-163-10zl-22-113zl-173 78zl-160 89zl-56-131zl-140 112zl-34-150zl-3-114zl-170 63zl-1-56zl-112 82zl-136-118zl-184 27zl-173-87zl-33 25zM384 185l78-98zl28-133zl167-118zl26-169zl-14-108zl196 8zl76-173zl28-139zl117-97zl179-76zl9-150zl85 34zl74 51zl161-76zl155-59zl172 60zl70 64zl164 62zl167-100z"/><path id="e66" stroke="#3d3d55" d="M322 275l15 125zl150 109zl112 140zl-30 187zl-81 128zl186 64zl-75 164zl142 117zl89 155zl-2 201zM352 284l-40 174zl65 127zl77 175zl-83 179zl164 73zl101 51zl-48 181zl184 83zl-114 145zl149 90zl172 83zl61 161zM234 192l-82-129zl-6-151zl-82-117zl-155-130zl-127-98zl-87-33zl-153 47zl-91-117zl-54 2zl-148 88zl-77-119zl-103-96zl-131 40zl-78 40zl-71-160zl-189 33zl-128 121zl-169-103zl-28-70zl-129 114zl-5-184zl-19 51zl-180 38zl-87-132zl21-81zl-62-98zl-47 8zl-142 106zl-183 10zl-97 73zl-99-98zl20-84zl-52-142zl-122 19zl-145-26zM384 185l-14-92zl17-131zl174-71zl113-65zl20-30zl16-172zl10-161zl83-138zl-31-171zl173 121zl161 74zl62-170zl119-34zl181-45zl102 37zl21-166zl57-81zl6-82zl16-160zl148 88zl23-153zl76-162zl205-56zl156 120zl173 101zl57-142z"/><path id="e67" stroke="#323246" d="M322 275l10 192zl-94 143zl-11 188zl160 142zl-77 153zl-77 173zl144 170zl-117 125zl-23 182zM352 284l28 120zl-8 166zl-131 118zl-75 130zl76 149zl-93 170zl-56 190zl148 118zl156 122zl107 65zl124 73zM234 192l-149 86zl-91 110zl-128 121zl-165 43zl-44 54zl-80-104zl-32-51zl-105 135zl-142 11zl-30-51zl-176-88zl-84-144zl-33-158zl-22 0zl-97-125zl-21-75zl-30-133zl15-156zl-204 9zl11-6zl-31 20zl-154 81zl-128 124zl-36-45zl-83 61zl-200 0zl-128 24zl-110 120zl-190 21zl-36-147zl-69 82zl-56-74zl-85-150zl-66-103zM384 185l182-14zl75-132zl207 64zl189 75zl202 24zl223 5zl-14-166zl-16-69zl151-26zl113-89zl100 13zl127-143zl117-84zl117-51zl197 43zl49-125zl66-158zl48 6zl201 45zl95-116zl206-39zl118-123z"/><path id="e68" stroke="#272736" d="M322 275l61 199zl120 146zl-39 191zl18 173zl-40 175zl113 140zl169 142zl-3 190zl-14 181zM352 284l119 137zl144 142zl-1 175zl165 87zl4 181zl169 109zl132 127zl70 157zl155 114zl73 146zl73 151zl32 161zl128 127zM234 192l-174 3zl-38-164zl-60-112zl-166-31zl-33-105zl-131 78zl-43-11zl-115 71zl-106-67zl-54-68zl-63 18zl-124-34zl-171-84zl-152-16zl-16-46zl-172-9zl-10-7zl-58-22zl21 28zl-72-93zl-73-54zl-62-96zl-73-38zl-5-8zl-71 7zl-172 25zl-200 22zl-9-169zl-178-50zM384 185l209-23zl166-49zl64-164zl72 15zl152-135zl66-135zl100 47zl149-31zl188 77zl82-113zl130-138zl93-152zl205 33zl106-139zl210-42zl133-78zl131 34zl54 23zl71-159zl127 47zl201-65zl156-111zl71-128zl73-162zl147 55zl163-67zl143 75zl17-135zl79-153zl155-91zl161 86z"/><path id="e69" stroke="#1c1c27" d="M322 275l17 198zl143 159zl-60 191zl109 136zl15 171zl-62 166zM352 284l169 113zl-74 136zl28 158zl-4 162zl113 95zl33 171zl27 186zl9 189zl-40 189zM234 192l-157-54zl-205-34zl-167-43zl-159-91zl-197 11zl-156-40zl-27-60zl-138-100zl-180-57zl-72-38zl-31-102zl-60-20zl-96-134zl-139 111zl-44-55zl7-129zl-28-98zl-105-49zl-67-3zl-59-10zl-106-135zl-148-87zl-63-108zl-67 50zM384 185l142-108zl150-11zl139-84zl10-93zl165 31zl201-27zl178-84zl125-42zl96-125zl189-73zl-2-12zl91-92zl95 14zl49-148zl111-92zl202-32zl104-132zl162-76zl187-5zl140-4zl63-80zl83-63zl145-111zl208-12zl217-50zl92-68zl178 53zl-14-31z"/><path id="e70" stroke="#111117" d="M322 275l-39 197zM352 284l142 141zl-7 199zl149 128zl68 175zl40 170zM234 192l-27-28zl-135-67zl-71 72zl-77-19zl-136-113zl-51 56zl-24-80zl-117-30zl-121 2zl-48 10zl-52 1zl-102 2zl-136 86zl-109-111zl-95-68zl-176-52zM384 185l160-8zl12-112zl54-149zl104-94zl123-31zl173 18zl163-59zl24 2zl184-27zl139-107zl144-58zl165 4zl163 3zl101-25zl127-119zl73-27z"/><path id="e71" stroke="#060608" d="M322 275l93 177zl60 176zl47 195zl18 194zl33 182zM352 284l-17 183zl99 144zl3 183zl12 182zl144 99zl61 175zl-8 196zl97 157zl-79 172zl109 131zl60 183zl-14 190zl102 175zl147 138zl72 172zl-48 195zl40 185zM234 192l-116-52zl-148 37zl-59-27zl-161-18zl-149 66zl-162 44zl-193-32zl-2-174zl-143 40zl-80 53zl-173-103zl-119-35zl-116-111zl-137 13zl-134 96zl-140-44zl-91 49zl-114-144zl-142 82zl-62-126zl-103-92zl-175-44zl-182-69zl-80 51zl-105-143zl-129-17zl-14-34zl-68-20zl-176-33zl-159 6zM384 185l40-12zl99-61zl96-110zl145-111zl196-69zl207 1zl109-58zl185-27zl182-27zl91-95zl135-12zl104 27zl187 72zl51-50zl189-3zl51-118zl198 35zl78-14zl37-83zl90-59zl103-107zl205 12zl179 6zl117-120zl82-121zl73 8zl215-18zl163-65zl84-40zl10-64zl106-82zl198-15zl200 22z"/><path id="e72" stroke="#f6f9f9" d="M322 275l-106-33zl205 104zl-160 53zl-131 53zl153 47zl172 72zl-93 144zl-256-1zl93 55zl-100-4zl-202 39zl10 80zl-242-6zl-166-14zl173 19zl-24 88zl-43 37zl-155-68zl10-16zl-222-23zl1 24zl-110 131zl-163-39zM352 284l-22 146zl116-18zl-208 36zl-69 152zl-284-19zl-81 88zl-153 99zl-63 64zl-11 131zl176-18zl-84 71zl-3-49zl-116 42zl-174-51zl43-20zl196 14zl-226-33zl-4-27zl-133 116zl-97 78zl-214 58zM234 192l244-100zl288 7zl297 1zl313 27zl303-62zl9 212zl364-5zl26 223zl323-17zl74 90zl259-65zl15 162zl-5 245zl283 62zl321-17zl241 19zl12 238zl258-72zl224-56zl90 74zl249 70zl265-68zl24 203zl21 191zl207-88zl314 113zl30 158zl230 47zl43 110zl297-75zl365-25zl346 66zl125 52zl17 174zl294 62zl280-75zl324-32zl205-8zl244 85zl348-22zM384 185l-211 81zl-258 135zl-180 169zl-159 31zl-211 156zl-236 177zl-261 138zl-318-41zl-147 88zl-241-30zl-187 66zl-252 151zl-150 123zl-162 128zl-201 182zl-213-106zl-193 143zl-151 101zl-176 101zl-236 114zl-221 168zl-254 138zl-172 140zl-241 75zl-256 132zl139 189zl-190 116zl-219 78zl-167 138zl-145 95zl-277 73zl-276-69zl-221 79zl-171 188zl-246 98zl-181 107zl-170 136zl-243-43zl-179 117zl-299 14zl-165 169zl65 132zl-185 98zl-166-39zl34 113zl-126 117zl-155-22zl-201 52zl-245 160zl-159 90zl-227 154zl-176 12zl-229 122zl-267-23zl-334 20zl-208 131zl-146 107zl-218 99zl-198 169zl-188 157zl-259 107zl-247 160zl-208 172zl-203 140zl-218 170zl-277 100zl-133 134zl-223 115zl-184 118zl-235 71zl60 132zl-190 156zl-276-33zl-268 146zl-186 126zl120 224zl-351-21zl-184 129zl-246 167zl70 135zl-257 38zl-232 144zl-187 133zl-191 164zl-235 170zl-189 183zl-261-10zl-185 128zl92 147z"/><path id="e73" stroke="#e5eeee" d="M322 275l113 18zl-118 79zl205 111zl198 84zl-69 82zl-2 187zl-28 79zl-216 12zl-88 71zl-63 93zl-114 11zl-135 116zl158 6zl-77 102zl-52 55zl46 47zl5-50zl-60 171zl2-50zl-174-38zl-10 53zl-129 105zl82 150zl-68 103zl207 69zl176-15zl34 66zl185 24zl-20 183zl67 95zl-89 44zl-25 150zl-45 5zl-116 88zl100 164zl140 38zl-79 148zl-134 70zl56 167zl157-14zl-111 112zl77 37zl131-7zl-104-64zl-236 26zl191 120zl-103-26zl-148-7zl-165 64zl-173 11zl124 117zl177 21zl89 186zl19 164zl153 162zl13 98zl190 12zl-211 37zl96 150zl63 18zl-63 134zl83 121zl124-4zl-12 115zl-75 95zl-125 113zl144 60zl-146 1zl-99-42zl-119-12zl-152 67zl-15 19zl73-11zM352 284l168-11zl182 64zl-3 104zl-185 48zl58-26zl112 66zl201 37zl54-13zl-11-8zl-59-8zl-211 46zl119-35zl-106 67zl-156 113zl-150 91zl-22 85zl-95 171zl-28 41zl132-52zl161 34zl-20-43zl-209-24zl-194 50zl169 57zl-165 98zl-167 104zl110 96zl-118 94zl-78 2zl187 4zl0 65zl36 152zl-40 122zl-97 154zl-79 165zl59 165zl-80 108zl-93 50zl-162-27zl-68 144zl-183 82zl-18-21zl-23 129zl234-20zl-125 47zl115 171zl-47 75zl48-45zl-145 113zl-71 144zl-71-6zl-17 93zl147 12zl-101 35zl60-39zl-81 14zl-56-33zl79 38zl-55-17zl117 97zl0 44zl114-40zl-51-32zl-57 100zl-45 10zl-58-73zM234 192l-29 225zl-3 161zl8 235zl25 126zl14 134zl268-133zl13 138zl108-34zl-15 228zl11 216zl0 154zl244-123zl208-167zl265-91zl32 109zl19 157zl250 40zl4 178zl22 162zl-8 216zl-5 165zl-12 188zl3 144zl-26 230zl-8 174zl149-59zl-12 192zl23 129zl133 13zl39 144zl8 247zl2 212zl255-161zl91 69zl223-164zl-18 169zl166-40zl270-82zl197-89zl283-83zl-18 225zl-17 231zl-20 184zl-6 238zl-19 232zl177-102zl226-137zl1 174zl170-112zl19 140zl3 254zl-2 215zl313-50zl351 34zl132 17zl140-58zl-30 223zl316 33zl166-125zl63 88zl-14 170zl-17 237zl46 103zl16 140zl-14 171zl9 193zl221-123zl208-175zl32 97zl271-151zl161-51zl39 112zl-11 186zl206 39zl-23 173zl157-90zl1 242zl-9 235zl242-75zl-16 211zl42 85zl2 187zl62 80zl-8 212zl28 123zl-18 195zl-6 210zl-20 237zl-10 239zl-23 191zl9 209zl172-96zl274-132zM384 185l-283 80zl-111 79zl-199-95zl-188-105zl-275-42zl-234 73zl-248-32zl-75 61zl50 106zl-187 214zl-232-120zl-184 134zl-225-101zl-257-136zl-195 216zl-242 159zl-291 73zl-282 70zl-308-99zl-110-27zl-217 131zl-209 180zl-179-61zl-217-25zl-201-97zl-230-109zl-185 161zl-150 64zl-197 146zl-131 4zl118 160zl-299-29zl-339 29zl-271-66zl-193 93zl-22 73zl-291-73zl-160 72zl-241-49zl-248-133zl-175-2zl83 147zl-201-102zl-176-91zl-103 93zl-186 111zl-198 118zl-222-69zl-219 174zl-131 93zl-281-78zl-166 118zl-253 71zl-223-103zl-90 63zl-220-81zl-162 51zl-151-49zl55 106zl-88 66zl-279-118zl-177 139zl-223 70zl-227-107zl-249 126zl-170 75zl-193 117zl-163-134zl27 80zl-276 141zl111 186zl-60 84z"/><path id="e74" stroke="#d3e3e3" d="M322 275l-5 51zl-54 16zl-76 0zl-93 162zl-182 74zl189-30zl37 37zl46 135zl-92 127zl-16 134zl145 77zl-25 5zl-127 53zl-17 89zl143 163zl-44-13zl142 125zl-14 148zl162 94zl9 134zl26 5zl-97-8zl76 119zl7 56zl-130 110zM352 284l153 64zl-133 136zl-202 82zl-44-2zl121 67zl-139-10zl-29-16zl-7-26zl-184-4zl-124 78zl-148 2zl-172-6zl-22-15zl-20 44zl129 35zl14 156zl-109 101zl-55-12zl138 128zl122-17zl190 1zl-19 40zM234 192l141-110zl-43 182zl-3 137zl-4 159zl-36 180zl-10 167zl-52 178zl18 110zl136-115zl100 11zl-45 170zl38 79zl135-95zl-32 171zl22 102zl150-111zl14 108zl-34 173zl-34 212zl127-71zl-30 202zl111-22zl-25 197zl85-125zl-23 235zl12 95zM384 185l143 194zl52 79zl-140-114zl-163-79zl109 161zl-132-87zl-191-151zl-146-60zl116 163zl-135-99zl116 217zl123 213zl131 238zl97 159zl110 137zl-184-159z"/><path id="e75" stroke="#c2d8d8" d="M322 275l103 162zl113-7zl147 163zl-77 133zl13 176zl201 127zl-138 97zl28 151zl-131 50zl172 145zl131 74zl-69 145zl-7 134zl49 64zl-48 21zl-122 15zl12 127zl-45 7zl114-25zl-28 12zl48 117zl146 151zl90 120zl49 53zM352 284l203-2zl-110 157zl179 60zl-154 119zl-41 142zl121 11zl20-15zl-218 47zl114 37zl45-15zl46 150zl-141-9zl185 44zl-68 108zl-21 44zl-81 146zl-97 36zl-176 32zl-124 132zl-134 19zl-95 35zl-128 130zl-36 61zl173 42zl121 44zl-10 45zl142 38zl153 58zl47 89zM234 192l135-170zl-30 162zl175-184zl-13 125zl92-73zl-38 164zl106-37zl107-124zl-22 133zl-27 165zl-41 170zl-57 182zl90-87zl97-142zl-19 128zl156-131zl130-186zl117-173zl126-158zl40 65zl2 134zl-50 146zl141-90zl162-123zl60 56zl-18 181zl-49 155zl-32 173zl106-61zM384 185l-129-91zl-155-162zl-52 56zl-167-137zl83 104zl144 148zl-153-164zl108 110zl-133-66zl-140-131zl102 120zl-99-80zl111 100zl-145-129z"/><path id="e76" stroke="#b1cdcd" d="M322 275l-145 64zl196-13zl54 176zl92 153zl-107 7zl203 41zl-3 50zl161 46zl-159 97zl173 56zl68 79zl211 42zl-87-1zl-42 20zl-56 14zl-59 183zl-161 25zl-62 66zl78 177zl89 152zl69 79zl11 169zl-93 164zl-111 74zl-100 137zl-17 91zl179 97zM352 284l0 99zl14 91zl68-20zl153-3zl-90 147zl50 33zl-51 173zl-9 52zl38 17zl-82 46zl124-1zl23-5zl52 97zl-41 188zl91-2zl22 28zl-18 100zl188 55zl-12 82zl-13 16zl10 73zl-131 124zl68-27zl-48 32zl82 9zl110 33zl-77 36zl133-25zl80 87zl-183 67zl96 158zl129 146zl119 8zl-145 40zl-188 52zl162-11zl170 42zl-86 50zM234 192l4 98zl102-133zl76-143zl-22 121zl-25 165zl89-137zl-12 141zl-23 121zl-54 174zl-7 115zl123-132zl75-75zl-41 157zM384 185l55 77zl-173-154zl148 161zl57 85zl-118-120zl-98-123zl-123-79zl-145-70zl-104-44zl152 181zl-99-108zl-101-92zl158 174zl-93-119zl-149-176zl86 113zl-121-146zl-113-84zl-125-95z"/><path id="e77" stroke="#a2c0c2" d="M322 275l30 108zl-105 123zl85 110zl-32 35zl-81 25zl40 125zl-7 178zl228 32zl11 67zl-7 177zl-137 65zl214 91zl136 100zl-86 51zl-171 49zl-109 117zl146 129zl-28 57zl170 13zl53 85zl-75 30zl-153 89zl-90 138zM352 284l99 86zl42-15zl53 27zl-103 66zl-155 129zl-113 9zl-223 49zl171 56zl19 95zl-93 175zl-26 66zl34 142zl161-3zl92 103zl-159 91zl-25 118zl-108 155zl0 172zl111 62zl-98 56zl-165 32zl73 51zl32 17zl52-14zM234 192l84-134zl128-154zl-2 103zl-44 154zl92-128zl-2 113zl-42 150zl5 101zl-61 188zl58-176zl72-118zl-53 167zl130-149zl-50 142zl-56 191zl75-147zl-41 132zl104-178zl26 82zl83-162zl-40 134zl94-185zl87-180zl130-182zl-39 157zl72-51zM384 185l164 107zl-106-149zl48 74zl140 143zl-19-159zl44 85zl-134-142zl-100-131zl-81-147zl-43-49zl-128-150zl162 105zl-126-162zl-68-120zl163 144zl-131-160zl84 107zl-106-160zl-102-112zl-96-112z"/><path id="e78" stroke="#97b1b6" d="M322 275l-82 77zl102 81zl19 178zl189 124zl104 178zl8 94zl-162 81zl191 43zl-66 103zl97 129zl-17 77zl-149 64zl-66 106zl-184 81zl-69 24zl-61 38zl-17 166zl13 102zl-49 35zl-99 34zl-4 91zl-32 166zl-156 87zl-28 199zM352 284l154 139zl4 92zl-165 48zl130-8zl-90 19zl129 38zl-86 17zl-110 151zl193 43zl190 27zl158 69zl91 18zl-183 75zl-118 151zl163-5zl150 107zl71 61zl43 57zl2 159zl-89 51zl-124 151zl-79 46zl45-19zl-164 113zl-42 125zl161 28zl-51 60zl-65 142zl-94 156zl7 51zl-162 58zl26 132zl-79 177zl-167 44zl59-19zl49 93zM234 192l-43 158zl-102 144zl64-2zl-37 143zl-86 162zl79-109zl-24 128zl66-151zl25-171zl-44 173zl67-146zl-44 134zl70-158zl64-74zl-34 122zl82-66zl-66 179zl72-69zl72-40zl-85 159zM384 185l-109-78zl-37-179zl59 65zl36 79zl155 146zl117 124zl115 101zl152 142zl-67-163zl-122-154zl-84-122zl-71-102zl-71-147zl-61-169zl110 84zl-34-166zl-74-46zl-80-154zl-35 50zl-82-50zl122 136zl-123-165zl-71-66zl-136-155zl-37-157zl-30 48zl163 143z"/><path id="e79" stroke="#8ba1ab" d="M322 275l52 172zl-117 62zl-169 43zl-50 61zl-156 69zl-24 70zl112 138zl37 103zl11 181zl-57 133zl-81 38zl93 36zl-22 80zl20 166zl-64 142zl177 115zl12 71zl79 74zl-38 153zl-92 49zl-26 71zl-126 84zl225 40zl-21 173zl122 100zl-12 114zl-123 55zl144 148zl110 85zM352 284l57-6zl141 4zl10 88zl-192 87zl10 153zl166 76zl-127 143zl45 29zl56 118zl154 38zl128 123zl-112 149zl94 112zl-94 69zl10 60zl177 47zl119 23zl57 129zl-141 103zl66 14zl150 32zl30 112zl179 19zl-27 71zl130 1zl106 42zl-168 72zl-71 54zl55 30zl-2 65zl112 116zl167 86zl-159 50zl155 74zl189 3zl-23 84zl-120 129zl36 50zM234 192l-15 115zl-44 140zl-56 69zl-86 170zl67-161zl-47 140zl-71 161zl-40 109zl-76 175zl89-176zl63-82zl-83 161zl53-163zl24-169zl-40 133zl67-131zl-97 153zl47-177zl67-163zl-27 132zl-41 106zl-74 147zl159 258zl60-72zl97-151zl24-113zl-6 93zl75-115zl-55 130zM384 185l-119-158zl51 83zl-72-20zl-24 162zl134 125zl126 148zl-18-143zl41 70zl145 190zl-134-159zl-66-164zl86 131zl59 97zl-56-144zl-94-175zl163 137zl146 63zl-96-124zl151 135zl-68-79zl-66-153zl-59-160zl-59-153zl-35-160zl155 170zl-66-89zl-73-26z"/><path id="e80" stroke="#8092a0" d="M322 275l-131 75zl-99 60zl104 191zl168 121zl42 92zl-159 78zl234 38zl-107 136zl-123 108zl-85 61zl-102 112zl97 26zl-78 162zl-31 78zl-105 142zl-85 89zl-153 76zl-55 169zl51 146zl-48 167zl-128 103zl24 169zl-99 139zl30 98zl89 88zl-32 121zl39 200zl-12 160zl-118 66zl-137 88zl-2 116zl57 122zl-44 68zl-10 134zl-77 83zl5 85zl-94 144zl-66 136zl133 153zM352 284l-54 143zl191 40zl149 25zl178 61zl150 84zl46 75zl-107 124zl-40 190zl-84 165zl152 92zl61 166zl-142 75zl184 61zl30 64zl-41 73zl195 38zl82-6zl-154 84zl115 48zl-155 76zl63 176zl-67 159zl-185 72zl176-1zl-14 115zl45 44zl-62 157zl-159 72zl187 1zl-123 165zl-140 122zl44 47zM234 192l41-85zl-78 170zl63-73zl3 81zl-22 119zl40-183zl-93 127zl185 141zl47-178zl55-146zl-12 90zl-43 86zl-74 140zl-98 143zl-71 166zl44-48zl-69 171zl-108 139zl50-77zl41-38zl-68 155zl48 18zl52 184zl15 222zl-73 152zl-46 116zl54-119zl-76 150zM384 185l-17-168zl159 139zl136 172zl-18-150zl-188 168zl-1-145zl162 117zl119 109zl-63-94zl-89-166zl-149 198zl-70-96zl147 139zl-70-133zl172 128zl-70-135zl-59-27zl160 95zl-60-80zl114 100zl88 94zl-71-155zl10 226zl134 134zl-18 24zl-70-130zl55 79zl163 123zl152 144zl150 187zl53 65zl95 91zl115 126zl121 108zl128 122zl27-158z"/><path id="e81" stroke="#758395" d="M322 275l-21 145zl-79 59zl-17 121zl226 78zl-45 164zl154 37zl36 110zl-95 65zl91 175zl119 36zl-71 146zl18 153zl-52 92zl76 99zl-155 86zl19 95zl208 71zl-11 197zl-60 105zl-138 59zl131 155zl-137 93zl51 169zl-71 170zl-113 114zl-110 116zl2 172zl-117 119zl-134 88zl145 93zl-83 75zl101 165zl-136 95zl93 185zl-128 107zl39 196zl147 106zl-140 100zl-44 79zl-135 96zl149 143zl-111 101zl-83 56zl-29 136zl-6 92zM352 284l59 48zl-92 83zl-33 107zl168 75zl-44 167zl-31 160zl-155 115zl135 40zl112 135zl-131 99zl-25 155zl-43 144zl103 90zl-75 92zl49 62zl32 141zl-14 95zl162 26zl-120 114zl-109 146zl135 118zl50 115zl-62 95zl-17 125zl196 54zl51 66zl125 89zl154 37zl-13 90zl-155 108zl24 171zl-81 84zl91 153zl-69 169zl-193 74zl-145 97zl188 25zl-9 98zl-61 119zl-93 125zl-166 107zl133 17zl2 78zl14 102zl-54 82zl-14 99zl40 71zl91 18zM234 192l31-165zl36-148zl44-57zl-82 133zl25-86zl-78 161zl16-162zl-9 102zl-130 90zl-82 153zl-96 151zl38-149zl253 210zl48-55zl-13 48zl-26 79zl-95 153zl39-123zl-77 142zl38-158zl8 75zl-77 113zl-34 111zl38-153zl-10-140zl18-173zl-71 131zl-98 143zl-77 162zl-49 95zM384 185l143 131zl140 116zl-43-105zl150 108zl45 70zl96 96zl3-73zl-34-159zl160 100zl149 143zl27-95zl147 125zl22 63zl161 165zl-43-107zl-45 161zl4-165zl163 112zl11 188zl-51-172zl-18-151zl-20-94zl149 135zl126 87zl-42-165zl-44-122zl-32-146z"/><path id="e82" stroke="#6a738a" d="M322 275l56 131zl-39 161zl-109 112zl-106 111zl-104 147zl-98 106zl37 197zl26 153zl123 170zl184 130zl86 186zl-97 152zl-94 127zl67 130zM352 284l120 84zl169 66zl145 43zl95 34zl148 79zl155 53zl-24 161zl107 57zl160 84zl115 135zl109 30zl175 49zM234 192l-56 99zl-103-142zl19 165zl-75-108zl-106 71zl24 129zl-101 129zl-61 66zl-195-21zl-189 22zl-20 186zl184 206zl-56 84zl-59-98zl-101 132zl16 229zl-105 140zl-1-68zl8-175zM384 185l155 79zl73 59zl136 73zl-42-27zl-30-165zl181-63zl155 103zl5-133zl-26-141zl-25-169zl-14-168zl-41-72zl72 124zl-39-144zl175 89zl131-115zl-25-158z"/><path id="e83" stroke="#5f647f" d="M322 275l-44 145zl107 121zl-133 89zl-80 131zl76 167zl6 163zl-39 150zl-121 99zl-110 142zl-38 126zl4 195zl62 160zl-3 167zl209 131zl-45 177zl-126 103zM352 284l-40 178zl-29 147zl32 103zl180 54zl138 76zl1 195zl125 72zl86 138zl-35 177zl3 136zl145 65zl-140 138zl-101 81zl163 48zl144 149zl26 172zl55 176zl-177 91zl23 90zl176 36zM234 192l-81 128zl-17-141zl-19-168zl-107 122zl-59-140zl-170 78zl-153 97zl-78-114zl-44 65zl-126 87zl-110 116zl-88 119zl-33-160zl-103 64zl11-164zl-73 108zl-57 84zl-64-67zl-62 104zl-127 94zl-16-168zl-124 106zl227 205zM384 185l26-119zl-45-172zl163 113zl68-121zl46-170zl115 40zl30-144zl-31 0zl3-148zl-7-113zl162 96zl157 86zl46-164zl51-147z"/><path id="e84" stroke="#545574" d="M322 275l39 147zl-21 182zl91 114zl-45 137zl180 116zl-38 189zl-39 106zl-4 191zl200 78zl167 56zl63 181zl6 185zl13 169zl-111 129zl-83 142zl150 155zl120 103zM352 284l-107 79zl68 133zl-28 135zl162 110zl164 68zl-57 174zl178 94zl18 97zl28 130zl-11 134zl95 72zl-102 138zl-1 140zl-21 100zl120 97zl-2 174zl116 120zl10 154zM234 192l12-113zl-66-104zl-42-168zl-18-171zl1-140zl-17-144zl-32-120zl-4-136zl1-119zl-126 118zl-18-161zl-60-87zl-124 112zl-14-25zl-48 101zl-38-151zl-125-98zl-132-44zl-125 108zl-46 72zl-6 72zl-138 121zl-67 46zl-14-176zl-80 103zl-132 74zM384 185l-4-90zl159 103zl59-145zl208-34zl174 89zl194 55zl127 60zl14-180zl-1-174zl-23-64zl144 107zl-13-79zl-23-179zl61-89zl28-163zl53-170zl197-71zl166 17zl-27-125zl107 93zl142 81zl80 29zl174-25zl-31-126zl178 79zl135 53z"/><path id="e85" stroke="#494965" d="M322 275l-98 127zl-116 107zl6 188zl-93 162zl-70 166zl-17 187zl-84 162zl205 82zl124 155zl-131 104zl-5 179zl24 105zl-110 93zM352 284l-30 169zl-23 172zl-149 125zl20 192zl99 19zl-119 152zl-41 181zl-57 166zl34 193zl105 139zl70 155zl66 114zl-34 183zl-123 152zl-98 169zl-14 103zl-128 152zl-137 118zl79 71zM234 192l-160 1zl-33-164zl-29 43zl-31-149zl-193-53zl-145 115zl-103 80zl-92 139zl-156 98zl-133 121zl-103 122zl-95 37zl-162-110zl-123 27zl-113 78zl-113 18zl-16-59zl-51 57zl21-17zl-134-80zl-110 58zl16-145zl-139 68zl-21 68zl-4-170zl0-164zl-54-170zl-19 87zl-3-78zl-91-162zl-141 123zl-58-158zl-78 124zl-75 44zl-130-80zM384 185l136 88zl181 55zl39-144zl41-154zl69-164zl67-133zl54-145zl35-151zl19-110zl165 50zl106-137zl1-94zl99 26zl167 84zl30-165zl135 39zl159-121z"/><path id="e86" stroke="#3d3d55" d="M322 275l26 183zl143 147zl-106 159zl124 118zl-50 176zl153 144zl-106 112zl-113 126zl-48 188zl-40 178zl51 175zl-78 161zl-24 182zl-123 81zM352 284l160 91zl18 146zl131 65zl67 139zl-73 182zl4 161zl94 93zl185 48zl80 126zl156 119zl1 157zl-33 151zl97 56zl165 67zl162 100zl66 108zl-84 110zl79 113zl-57 187zl114 51zl162 95zl-7 120zl-90 93zM234 192l-32-70zl-199 17zl-91-146zl37 26zl-107-11zl-69-131zl-76-135zl-83-130zl20-85zl-136 99zl-69 42zl20 7zl-86 57zl-132-55zl-20-106zl-54-36zl-107 104zl-6-120zl28-138zl-168 68zl-78-163zl-173 79zl7-43zl-137 95zl-130 90zl-136 64zl-34 64zl-47 70zl-61 63zl-140-25zl-184 40zl-150 110zl-16-90zl-37-65zM384 185l159 79zl142-98zl162-4zl150-58zl153 111zl46 7zl95-95zl163 78zl10-178zl61 34zl60-161zl9-118zl39-161zl89-166zl149-56zl194-9zl145 40zl193-10zl165-100zl-7-98zl68-122zl-30-147zl153 35zl3-169zl199-66zl47-118zl151 99zl-40-57zl63-148z"/><path id="e87" stroke="#323246" d="M322 275l-28 138zl-125 114zl-70 166zl5 150zl-14 130zl123 148zl141 121zl-56 176zl167 154zl205 80zl16 202zM352 284l37 193zl-40 184zl95 79zl55 128zl24 150zl73 156zl107 128zl162 99zl-81 155zl44 136zl32 179zM234 192l-38-33zl-160 40zl-162-98zl-27-143zl-169-12zl-123-8zl-146-27zl-8 15zl-36-161zl-102-66zl-162-44zl-54 47zl-57-153zl-144 83zl-66-157zl38-179zl-109 130zl-54-31zl-148 98zl14-184zl-193-54zl-26-105zl-113-2zl-177 59zl-183-44zl-61-65zl19-167zl-60-2zl-94-45zl-91-106zl-142 39zl-154-78zl-107 31zl-145-103zl-32-9zM384 185l75-115zl158-97zl216-23zl217-57zl173-56zl62-103zl132-57zl-3 13zl183-7zl70 61zl14 38zl187 87zl150 41zl210 26zl16-92zl222 14zl51-171zl133-89zl64 38zl-16-100zl76-88zl185 14zl163 93zl-22-62zl54-139zl208 5zl181 42zl207 57zl153-77zl114-76zl13-172zl84-167zl166-32zl214-3zl67-150zl154-84zl133 62z"/><path id="e88" stroke="#272736" d="M322 275l-24 186zl28 186zl-53 170zl131 159zl187 153zl-16 188zl-67 153zM352 284l-124 130zl-41 189zl91 153zl53 148zl145 138zl100 141zl111 151zl17 178zl-43 130zl-6 196zl-35 157zl138 143zl3 194zl2 183zl95 103zl120 112zl-4 163zl-4 167zM234 192l-22-137zl16-172zl-125-104zl-101 74zl-170-113zl-46 75zl-98-145zl-132-36zl-13-50zl-35 22zl-97 44zl-182-89zl1-67zl-51-109zl-90-14zl-206-14zl2-158zl-177-68zl-135-90zl-164-56zl-13-139zl-77-135zl-106-105zl-114 36zl-77-114zl-143 106zM384 185l41-70zl28-148zl73-171zl12-108zl-41-1zl18-47zl178-106zl6-11zl118 32zl131-141zl124-144zl186 19zl19-114zl187 50zl100-71zl142-121zl111-78zl74-49zl116-114zl124 35zl25-59zl180 18zl154-13zl164 112zl201 41zl152 13zl165-78zl177 23zl41-157zl198-83zl162-8zl67-116zl188 60z"/><path id="e89" stroke="#1c1c27" d="M322 275l126 164zl56 197zl45 187zl87 192zl123 187zM352 284l106 152zl63 154zl50 140zl9 185zl64 119zl137 136zl132 91zl90 156zl141 115zl141 97zl123 153zl113 149zl109 113zM234 192l-181 64zl-190 6zl3-22zl-192-1zl-57-121zl-105-51zl-140 61zl-133 77zl-112-8zl-113-16zl-37-114zl-58-28zl-45-12zl-81-73zl-52-131zl-207-24zl-142-86zl-29 11zl-137 80zl-134 20zl-172 58zl28-68zl-122 27zl-179 20zl-194-14zl-77-116zl-17-51zl-72-69zl-93-66zM384 185l141-93zl99-158zl105-42zl92-39zl163 34zl27-27zl87-61zl159 21zl43-93zl181-63zl98-124zl130-69zl31 22zl-3-149zl195 55zl207-69zl200-78zl172 0zl215 23zl182-88zl108-144zl218-17zl165-101zl47-163zl134-13zl126-72zl118-84zl157-14zl173 18zl160-86zl32-146zl97 65zl11-44zl-10-49zl108-32zl35-56zl15-51zl105-8zl199 37z"/><path id="e90" stroke="#111117" d="M322 275l175 95zl104 170zl91 195zl12 202zM352 284l123 59zl106 136zl17 157zl4 141zl-42 154zl21 153zM234 192l-35-161zl-31-171zl-56-85zl-151-97zl-123-93zl-177 13zl-138 63zl-176-51zl-158-96zl-195-7zl-166-116zl-167-105zl-112 59zl-181 57zl-152-32zM384 185l43-64zl147 38zl84-112zl-27-165zl181-40zl148-116zl141-107zl87 25zl206 10zl219-51zl108-65zl144-105zl165-20zl154 42zl164 3zl47-68zl198-62zl119-99zl53-105zl113-4zl117-118zl146-132z"/><path id="e91" stroke="#060608" d="M322 275l75 198zl145 160zl61 189zl134 144zl-48 194zM352 284l27 173zl38 182zl132 98zl138 160zl95 134zl17 174zl68 182zl-24 187zl91 129zl19 183zl69 174zl-11 168zl161 111zl-4 172zl117 149zl27 161zl63 161zl144 117zl10 192zl94 132zl125 153zM234 192l-135 37zl-133-46zl-7-60zl-123-140zl-182 13zl-96-102zl-149 42zl-92 57zl-115 64zl-181 9zl-71 2zl-169 61zl-150-40zl-165-83zl-77 37zl-171-84zl-207-19zl-80-106zl-81-106zl-166-71zl-146 20zM384 185l164-64zl31-75zl118-29zl168 25zl198-88zl79-88zl154-128zl65-24zl142-88zl44 18zl104-123zl91-102zl204-24zl217 26zl146-91zl100-134zl168-40zl143-141zl194 62zl203 15zl76-36zl201-18zl122-80zl79-118zl191 48zl204-37zl206 37zl183-46zl170 54zl20-39zl43 22zl128-147zl195-3zl16-37zl219-18zl92 35zl113 5zl170-101zl160 14zl87-24zl128-116zl169-96zl200 15z"/><path id="e92" stroke="#f6f9f9" d="M322 275l-15 160zl-93 141zl147 109zl156 37zM352 284l-166 86zl-114 20zl-46 179zl-191 36zl-79-42zM234 192l6 180zl214-5zl177-34zl164 31zl0 186zl44 263zl319-57zM384 185l-232 140zl-228 134zl-332 2zl-227 174zl-190 133zl-329-58zl-253 90zl-259 42zl-215 166zl-306-102zl-175 25zl-249 156zl-258 66zl-264 43zl-230 110zl-199-9zl-171 123z"/><path id="e93" stroke="#e5eeee" d="M322 275l-153 102zl67 28zl180 93zl193 9zl91 139zl86 6zl202-45zl208 47zl-154 4zl-97-36zl208 42zl103 128zl-108 46zl23 131zl2-9zl117 75zl-107 45zl-172 22zl178 135zl-69 64zl189 43zl35 182zl-90 129zl-60 40zl-239 28zl43 42zl143 85zl10 62zM352 284l-46-9zl-94 45zl38 47zl-96 10zl30 140zl-119 59zl159-12zl-236 52zl-124 139zl24 9zl29 21zl33 9zl-127 143zl-176 43zl12 36zl98 33zl-50-27zl-201 70zM234 192l276-114zl75 54zl-10 227zl7 147zl233 10zl176-176zl273-96zl60 84zl234-91zl43 88zl203-89zl-10 151zl256-98zl-12 177zl4 192zl-7 196zl-17 202zl23 127zl-5 247zl354-28zl281-122zl2 212zl68 65zl50 93zl141-75zl144-58zl-22 214zM384 185l-207 154zl120 192zl-318 94zl113 142zl134 175zl-338 14zl-132-44zl71 98zl-244 82zl-182-113zl-186 162zl-219-102zl-165 64zl-207-152zl-104 86zl-294-124z"/><path id="e94" stroke="#d3e3e3" d="M322 275l-153 25zl-28 1zl-18-4zl-7 29zl-100 92zl200 24zl-5 10zl-46 2zl-38 24zl-58 31zM352 284l11 44zl168-26zl22 50zl94 90zl33 153zl-42 170zl-1 74zl-101 81zl28 61zl52-15zl-28-15zM234 192l-38 173zl-45 206zl-45 209zl94 48zl109-79zl102-45zl-22 206zl108-85zl13 113zl-47 180zl-24 147zM384 185l-176-123zl-134-87zl91 145zl-103 10z"/><path id="e95" stroke="#c2d8d8" d="M322 275l146 168zl-157 27zl36 53zl2 29zl76 96zl-100 7zl23 26zl-85 14zl102 175zl-46 110zl-151 61zl2 157zl-161-20zl-92-1zM352 284l196 8zl41 90zl-168 88zl154 37zl121 46zl47 28zl36 5zl-157 44zl20 181zl-4 51zl44-15zl-180 69zl-9 34zM234 192l133-175zl136-160zl91-120zl-39 138zl176-168zl83-104zl-33 175zl129-117zl95-80zl31 88zl26 74zl153-155zl-32 176zl-25 156zl165-164zl-41 200zl105-61zl160-148zM384 185l-132-86zl141 179zl-162-116zl-65 37zl141 179zl-137-145zl145 177zl139 170zl43 94zl124 167z"/><path id="e96" stroke="#b1cdcd" d="M322 275l175 85zl-184 58zl-135 56zl17-11zl99 38zl-78 48zl135 148zl25 65zl-41 62zl-212 51zl-116 10zl-84 165zl81 68zl187 71zl-54 141zl194 96zl8 192zl-82 54zl-60 86zM352 284l187 47zl-82 87zl-4 141zl-152 35zl-71 87zl90-2zl-85 167zl107 171zl-35 59zl-49 26zl-18 162zl8 34zl5 139zl3 121zl-114 100zl-10 54zl-23 41zl65-21zl174-18zl-141 65zl-19 37zM234 192l-38 161zl-21 148zl-69 174zl114-145zl-47 199zl121-145zl-20 130zl-44 173zl50 62zl135-156zl87-170zl-36 176zl107-116zl135-133zl-49 197zl95-131zl101-172zl-49 206zM384 185l-126-127zl-109-140zl128 145zl-88-18zl137 166zl128 152zl154 88zl13 93zl128 119zl117 132zl-25 59zl128 139zl152 167zl-137-96zl-108-162z"/><path id="e97" stroke="#a2c0c2" d="M322 275l-72 60zl40 168zl112 16zl-102 20zl-5 152zl-125 80zl-108 47zl-41 26zl25 105zl92 31zl144 46zl-8 92zl-99 26zl204 110zl24 58zl13 60zl-62 73zl-182 51zl-6 63zl96-8zl71 60zl-189 49zl141 157zl31 133zl-25 73zM352 284l187-10zl-135 114zl-196 22zl16 39zl145-7zl62 177zl66 164zl-45 66zl-82 134zl-162 103zl-56 65zl15 68zl-76 101zl173 29zl151 33zl-167 93zl-140 38zl21 137zl13 152zl-37 177zl170 7zl-72 136zl-86 44zl111 171zM234 192l74-155zl-29 145zl82-157zl4 95zl96-170zl-39 148zl141-174zl113-167zl131-168zl3 111zl-58 164zl83-21zl77 6zM384 185l28 76zl-116-155zl-100-152zl-115-169zl119 132zl-89-62zl-111-116zl36 46zl-74-76z"/><path id="e98" stroke="#97b1b6" d="M322 275l10 133zl-42 69zl1 157zl196 35zl-73 79zl-99 152zl-132 63zl107 128zl-13 61zl6 86zl-17 84zl-50 147zl-84 109zl-163 53zl225 33zl-181 65zl24 66zl-91 6zl-57 146zl-104 29zl-93 174zl-47 77zl-184 67zM352 284l-134 56zl-98 94zl14 48zl183 30zl74 169zl36 179zl-130 29zl178 38zl-144 127zl77 41zl-124 126zl37 27zl-152 81zl-20 71zl-58 41zl109 24zl-105 27zl-114 18zl-78 172zl-118 39zl-158 42zl-157 89zl-29 70zl165 17zl-47 117zl135 29zl204 11zl117 69zM234 192l114-152zl57-160zl134-185zl87-112zl70-37zl-52 181zl-36-175zl66-62zl64-126zl-40 126zl68-112zl73-126zl10-138zl-39 136zl-21-168zl-77 167zl-93 156zl-72 167zM384 185l-16-178zl-83-154zl-83-50zl-84-144zl-64-158zl-80-21zl-9-167zl163 129zl-115-170zl144 189zl144 135z"/><path id="e99" stroke="#8ba1ab" d="M322 275l-7 85zl-27 164zl-82 89zl44 90zl122 55zl-23 125zl-42 136zl178 93zl188 78zl-52 143zl190 55zl-29 170zl184 46zl-87 55zl-101 115zl-152 104zl-139 52zl33 130zl-114 137zl-79 110zl-45 109zl-141 50zl-131 62zl196 12zl40 133zl52 189zl-124 36zl-58 77zl101 90zl77 98zM352 284l44 26zl-27 71zl149 33zl-76 74zl-30 65zl-23 159zl-118 144zl14 196zl-48 59zl30 37zl176-2zl53 34zl-52 67zl33 189zl-30 162zl-134 76zl-47 67zl178 62zl78 178zl-47 157zl177 101zl-133 104zl188 15zl81 31zl-54 79zl132 12zl119 99zl-8 61zl195 13zl57 148zl92 56zl-13 121zl147 27zl176 7zl-141 89zl103 144zl-121 50zM234 192l72-92zl-54 136zl-57 149zl-21-174zl62-25zl56-74zl69-154zl-46 153zl60-126zl-154 77zl-9 83zl-2-164zl-69 167zl82-127zl39-187zl23 73zl-28-138zl-53 89zl60 19zM384 185l-55-160zl-66-127zl1-158zl-93-153zl-66-141zl-74-99zl27 72zl-63-138zl-62-77zl154 176zl-104-172zl156 166zl-67-175zl-68 3zl64 170zl-82-105zl-84-171zl36-150zl-2-176zl37 65zl34 82zl80 105zl-111-180zl77 101zl-122-166zl-97-170zl-67-67zl87 107zl-90-181zl-119-126zl-76-151zl128 104zl71-132z"/><path id="e100" stroke="#8092a0" d="M322 275l-71 76zl-38 102zl219 62zl-130 67zl67 145zl-14 86zl-54 75zl179 151zl-136 89zl203 89zl188 156zl-70 104zl-76 118zl33 198zl88 184zl34 162zl118 138zl64 122zl85 47zl97 75zl-21 103zl-135 116zl-111 94zl88 100zl-164 62zl-9 119zl200 102zl-102 89zl-116 106zl-172 73zl151 53zl-141 74zl-120 121zl-173 76zl119 117zM352 284l81 51zl-135 125zl68 155zl-114 149zl137 42zl-105 163zl23 101zl152 75zl46 170zl118 12zl-50 185zl-92 131zl-107 93zl26 72zl135 64zl-123 117zl79 63zl137 74zl137 41zl125 97zl62 21zl-162 42zl39 110zl3 184zl44 155zl61 23zl-84 132zl16 108zl170 93zl-21 125zl156 118zl-102 78zl102 36zl101 159zl44 99zl-48 89zl114 10zl-138 140zl49 152zl-73 188zM234 192l31-167zl-84 174zl-76 179zl46-150zl-41-158zl-44 98zl74-155zl58-149zl19-167zl40-24zl-60 125zl57-126zl61-146zl-29 106zl-120 109zl16 68zl-48-129zl56-125zl-65 172zl-78 137zl-118 139zl-76 136zl52-74zl-34 38zM384 185l109 103zl41 81zl141 136zl143 106zl-44-30zl146 137zl-52-123zl159 135zl155 138zl156 122zl41 69zl141 131zl-41-157zl135 82zl-61-130zl157 100zl-68-114zl133 223zl-54-159zl12-116zl-77-172zl144 106zl133 145zl103 128zl-54-119z"/><path id="e101" stroke="#758395" d="M322 275l-104 99zl177 119zl94 58zl-41 182zl141 161zl113 171zl-127 121zl16 196zl-64 68zl93 194zl164 112zl-53 145zl-67 96zl-126 62zl170 149zl-115 79zl-10 145zl98 44zl-36 162zl-121 92zl-109 107zl-23 181zl52 80zl-67 97zl32 168zl-51 155zl7 138zl-153 91zl33 193zl-5 185zl-100 94zl134 34zl-91 68zl-53 104zl-67 106zl2 96zl-64 165zl-137 114zl4 136zl159 73zl150 166zl13 194zl128 42zl-129 74zl-108 54zl-105 94zM352 284l22 163zl73 153zl10 159zl58 155zl-122 67zl-3 77zl99 154zl174 52zl-13 83zl175 78zl123 12zl-49 92zl-2 142zl-45 130zl171 90zl-13 136zl-132 141zl-2 163zl-34 194zl-83 165zl-6 94zl120 166zl87 66zl-116 70zl-4 134zl16 126zl17 114zl-139 89zl141 97zl70 163zl177 78zl-43 179zl36 152zl-97 97zl174 91zl80 1zl88 134zl187 56zl70 42zl93 12zl-150 81zl-94 135zl146 42zl109 57zl-16 176zl-127 134zl-128 122zM234 192l-5 72zl-22 71zl52-57zl11 70zl-88 168zl-104 155zl41-147zl15-112zl46-14zl-67 124zl-163 59zl36-132zl34-164zl-88 123zl-130 84zl2 240zl-25 182zl-29 105zl-84 148zl35-177zl-41 125zl-67 140zl-141 85zl-86 156zl-141-79zl27-172zl-98 134zl-41 130zl-5-130zM384 185l-48-118zl121 96zl-50-171zl111-112zl11 195zl-58-66zl-15-167zl2-166zl-30-100zl107 108zl-47 10zl-50-38zl62 178zl126 80zl161 82zl174 81zl-12 40zl-52-162zl157 120zl-50-91zl31-168zl134 114zl-25-144zl157 142zl-43-109zl111 109zl-53-118zl-47 9zl-44-109zl159 50zl128 102zl52 51zl-44-120zl-49-165zl-58-95zl-13-150zl94 92zl161 115zl-6-154zl-45-165z"/><path id="e102" stroke="#6a738a" d="M322 275l-117 96zl-116 66zl19 129zl-17 126zl165 147zl-109 104zl137 180zl-132 112zl-22 188zl-105 154zl158 36zl146 106zM352 284l2 152zl186 63zl42 183zl-128 135zl62 143zl145 111zl32 89zl71 183zl-97 111zl-123 137zl105 163zl74 144zl186 67zl-116 148zl106 35zl-137 140zl88 126zl-13 175zl138 62zl22 180zl-51 125zl-27 111zM234 192l-87 101zl23-41zl-65 108zl-86 125zl36-108zl-117 137zl-72 59zl-135 105zl33-100zl15-106zl-114 130zl-86-110zl-98 132zM384 185l-161 223zl92-155zl147 70zl-22-152zl0 34zl-8-149zl73 74zl-29 14zl146 132zl126 90zl59 52zl-2 211zl-30-168zl3-161zl-33-137zl22-89z"/><path id="e103" stroke="#5f647f" d="M322 275l137 141zl48 204zl46 191zl-120 121zl73 119zl-41 152zl-108 114zl-40 175zl33 163zM352 284l-91 156zl100 129zl-28 173zl-66 141zl-81 167zl-133 152zl-66 169zl26 172zl-11 143zl-26 149zl-94 111zl115 122zl106 96zl-66 86zl50 100zl124 53zl127 63zl-31 121zl116 150zl3 125zM234 192l-25-171zl21-98zl-112 133zl10-121zl-168 87zl-3 57zl-37-153zl-12-123zl-125 126zl-111 111zl-56-166zl-75-168zl-62 65zl30-35zl-8-62zl35-162zl-133-13zl21-162zl-49-170zl1-180zl-109 100zl-55-126zl-86 66zl-89-157zl24-17zl-67 15zl-38 186zM384 185l44 45zl26-161zl157 109zl85-161zl138-94zl-25-178zl-13-123zl-29-173zl78 46z"/><path id="e104" stroke="#545574" d="M322 275l-84 173zl-13 188zl-55 162zl-116 120zl-91 153zl-96 160zl141 125zl-145 99zl19 140zl122 121zl197 110zl-102 163zl-96 129zl-1 145zl-5 188zl79 170zl150 116zl-52 117zl155 85zM352 284l-44 168zl-164 96zl118 63zl156 113zl47 186zl70 176zl155 120zl-65 192zl83 106zl123 105zl169 82zl38 147zl44 90zl-56 138zl-96 161zl86 71zl125 27zl105 92zl-68 193zl24 171zl168 107zl57 170zl39 131zl-13 167zM234 192l29-132zl24-134zl-28 45zl16-94zl-4-71zl-41-103zl-1-147zl4-77zl-49 67zl-158-84zl-175 30zl-41-171zl-137-80zl6 10zl-90-116zl22-87zl-25 84zl-20-163zl-71 17zl-89 144zl-51 109zl27-163zl-164-26zl8 51zl28-138zl-137-135zM384 185l-41-14zl60-162zl94-116zl37-142zl28-175zl143-121zl167 124zl168 110zl1-138zl-42 5z"/><path id="e105" stroke="#494965" d="M322 275l35 165zl-14 154zl-5 143zl-70 179zl197 81zl-47 146zl-61 116zl126 121zl-107 105zl205 50zl63 170zM352 284l31 164zl111 109zl75 109zl-27 198zl87 166zl41 173zl-33 100zl-137 136zl50 117zl133 96zl-64 159zl12 187zl133 99zl-25 167zl-107 115zl-97 106zl92 47zl-108 151zl90 107zl-70 165zM234 192l-109 142zl-67 14zl-132-55zl-88-8zl-138 91zl-89 99zl9-21zl-78 45zl-182-5zl-141 78zl-119 143zl-181 42zl-139 113zl-163 51zl-147-75zl-169-69zl-192-34zl-148 18zl-117-10zl-60 76zl-166 80zl-140 75zl-2-126zl-206-19zl-136-97zl18-163zl-33-180zl-86 21zl-18-31zl-24-178zl-70 44zl-133 112zl4-120zl-169-75zM384 185l53-132zl147-59zl-13-159zl153 84zl23-165zl33-144zl58-160zl27-127zl138-115zl65-4zl181 72zl132 132zl115-61zl-18-164zl204 66zl209 21zl124 27zl101-159zl10-148zl147-1z"/><path id="e106" stroke="#3d3d55" d="M322 275l-37 187zl-95 137zl-107 156zl98 186zl-89 153zl166 74zl189 103zl75 165zl93 180zl155 143zl-104 157zl-104 138zl99 164zl110 174zl-3 203zM352 284l21 154zl97 40zl155 89zl-32 141zl108 157zl-82 92zl12 197zl-17 164zl-124 125zl-65 178zl111 74zl-5 144zl183 112zl138 70zl84 123zM234 192l-18-17zl-111-95zl-110-119zl-121 138zl30-94zl-171 44zl-107-101zl-79-132zl-92 80zl-68-157zl-120 117zl-116 98zl-163 70zl-8-29zl-64-168zl-35-165zl-44-159zl-128-127zl32-156zl-160-62zl-112 87zl-188 12zl-168 68zl-109-112zl-207 1zl-173-35zl-181 62zl-146-107zl-179-17zl0-20zl11-78zM384 185l33-153zl153 36zl10-47zl138 14zl-6-91zl-19-87zl121 2zl84-97zl142 36zl88 78zl98-40zl165 129zl24-119zl-40-131zl24-82zl184 76zl71-13zl86-162zl81 2zl91 34zl171-61zl148-30zl149 48zl25-61zl88-115zl208-53zl113 17z"/><path id="e107" stroke="#323246" d="M322 275l96 173zl105 99zl147 145zl16 209zl-53 191zl145 180zl-49 141zl-71 144zM352 284l12 144zl16 182zl124 138zl-64 180zl12 185zl75 168zl-68 156zl-13 151zl83 146zl-46 185zl102 108zl-120 156zl76 79zl-20 166zM234 192l-186-13zl-94 91zl-90 94zl-66-3zl-127-28zl-64-14zl-41-51zl-6-142zl-46-52zl-127-35zl22-62zl-135 67zl-159 95zl-133 78zl-108 75zl-3-2zl3-153zl-60-11zl-167-54zl-146 76zl-97-122zl-179 3zl-140 57zl-187 30zl-140-51zl-115 7zl18-169zl-152-96zl-152 50zl-141-86zl-126-130zl-3-164zl-10-46zl-72-89zl-38-134zl-163 55zl-157 56zl30-118zl-153 41zM384 185l118-126zl199 36zl164-119zl-8 24zl199 74zl56-67zl80 51zl29-162zl218-49zl103 12zl77-129zl184-33zl163 105zl48-47zl210 36zl162-113zl15-143zl72-116zl48-130zl138-134zl172 79zl151 87zl88-114zl79-158zl73-109zl15-156zl161-63zl157-81zl74-149zl-39-55zl29-149z"/><path id="e108" stroke="#272736" d="M322 275l70 200zl97 163zl-112 120zl90 164zl159 145zl158 127zl120 114zl45 183zl-44 142zM352 284l131 156zl93 174zl-12 192zl147 117zl84 114zl43 167zl158 119zl6 157zl66 171zl47 139zl68 126zl16 178zM234 192l-23-161zl-38-112zl-64-110zl-128-9zl-157 68zl-118 76zl-141 66zl-101 25zl-151-51zl-95-150zl-101-123zl-181-47zl-198-10zl10-55zl-173 79zl-127 48zl-135-72zl-160-13zl-149-81zl-86 29zl-61-152zl-32-98zl29-153zl-82 59zl-121-120zM384 185l181-77zl38-80zl137 33zl131 40zl158-123zl166 65zl-36-138zl50-155zl105-111zl125 37zl72 9zl81-161zl26-96zl38-7zl163-5zl97-88zl171-69zl95-135zl222 2zl56-142zl114 77zl18-172zl205 29zl125-136zl162 10zl187 16zl22-31zl163 93z"/><path id="e109" stroke="#1c1c27" d="M322 275l193 95zl102 173zl-73 158zl120 179zl155 112zl36 155zl165 142zM352 284l-36 160zl119 151zl-56 185zl150 137zl174 118zl144 115zl-23 174zl105 160zl-56 179zl126 129zM234 192l-168-47zl-30-115zl-177-58zl-6-178zl-161-75zl-188 7zl-128-125zl-20-19zl-79-62zl-30-102zl-108 124zl-122-74zl-38 2zl1-15zl-174-53zl-107-24zl-71-164zl-157-35zl-108 92zM384 185l57-31zl64 2zl93 27zl196 49zl183 65zl7-26zl198 61zl139 44zl117-142zl71-64zl189-42zl208-43zl23-66zl207-6zl34-108zl164-38zl77-145zl73-106zl56-83zl12-89zl2-174zl136 2zl58-57zl66-31zl26-94zl104-61z"/><path id="e110" stroke="#111117" d="M322 275l-55 169zl166 112zl49 181zM352 284l97 117zl124 148zl19 186zl98 101zl45 186zl58 138zl-170 115zl173 89zl59 177zM234 192l-197 39zl-178-35zl-195-13zl-91-37zl-49 5zl-15-134zl-93-87zl-72-152zl-155-15zl-120-121zl-183-3zl-139-9zl-118 74zl-183-64zl-156 30zl-126 0zl-168 36zl-41-161zl-53 12zl-68-95zl-34-62zl-94-32zl-51-128zM384 185l183 27zl202 6zl214-49zl153 26zl123-89zl196 73zl184-24zl182-3zl168 54zl181 47zl99-64zl80 54zl191-70zl207-56zl20-17zl172 77zl102 60zl181-75zl83-159z"/><path id="e111" stroke="#060608" d="M322 275l171 143zl170 132zl71 182zl136 148zl59 190zl158 113zl50 177zl16 202zl9 184zM352 284l143 123zl146 100zl-38 186zl26 178zl59 168zl50 189zl130 140zl114 168zl-62 157zl64 179zl78 159zl112 136zl45 188zl9 164zl165 134zl157 98zl56 191zl26 172zl123 137zl-105 164zl-5 183zM234 192l-122-7zl-186-39zl-63-138zl13-10zl-135 29zl-180 39zl-81-78zl-59 37zl-160-79zl-137-114zl-133-78zl-171-6zl-138-38zl-85-116zl-110-58zl-101-70zl-84-48zl-138-107zl-104 100zl-124 68zl-93-68zl-169-9zl-148-84zl0-123zl-155-20zl-160 16zM384 185l195 35zl184-27zl153-55zl205 37zl196-17zl101-65zl206 5zl95 6zl139-84zl223-17zl11-65zl140-15zl178-67zl73 20zl80-134zl139-9zl163-43zl104-52zl25-166zl199-18zl207 31zl135-81zl160 37zl204 33zl7-83zl218-18zl135-26zl170-94zl49-29zl55-1zl118 11zl201 33z"/><path id="e112" stroke="#e5eeee" d="M322 275l-24-17zl25 19zl12 33zl-5-7zl26-18zM352 284l-47 31zl-33-32zl-32 45zl-4-28zM234 192l47 86zM384 185l-52 74z"/><path id="e113" stroke="#d3e3e3" d="M322 275l2 18zl23 44zl-20 48zl73-11zl7 51zl-9 31zl26 57zM352 284l-50 36zl10-26zl-20 8zl23 20zl-105 28zM384 185l-67 54z"/><path id="e114" stroke="#c2d8d8" d="M322 275l-67 63zl-50-4zl23 55zl-71 44zl102 35zl-17 22zl-36 11zM352 284l28 15zl8 60zl1 98zM234 192l44 57zM384 185l-16 71zl-36-155z"/><path id="e115" stroke="#b1cdcd" d="M322 275l102 39zl-94 49zl27 39zl-112 130zl-8 48zl-40 46zl75 16zM352 284l-65 58zl-47 91zl4 56zl-30 55zl1 131zl3 74zl53 10zM234 192l20 97zl-21 82zl44 70zM384 185l-65 38zl-48 51zl-25 27z"/><path id="e116" stroke="#a2c0c2" d="M322 275l-64 24zl162 28zl32 54zl-62 26zl-123 140zl-63 184zl1 116zl-111 38zl-31 49zl24 59zl170 20zl-89 61zl-44 150zl77 31zl-24 97zl45 41zM352 284l168 68zl-106 70zl-111 55zl-39 94zl-91 107zl7 54zl56 23zl-15 50zl86 21zM234 192l5 100zl-56 175zl26-77zM384 185l-75 22zl-32-130zl-21-103zl-19-161zl-21 67zl165 78zl62 86z"/><path id="e117" stroke="#97b1b6" d="M322 275l68 84zl-137 112zl-133 112zl-84 86zl-79 129zl130 71zl128-15zl151 76zl-72 104zl-94 87zl-81 127zl-115 122zl-120 116zl-45 69zl-44 85zl-132 65zl-102 49zl-109 33zl172 121zM352 284l-151 33zl-117 84zl-71 141zl-128 75zl68 1zl-20 66zl-79 28zl-82 113zl-71 127zl-131 113zl-54 142zl-99 55zl-167 108zl108 25zl-22 183zl-83 166zM234 192l21-181zl-47 139zl-33 137zl5 93zl-69 158zl-58 165zl-11 117zM384 185l26 73zl-86-119zl-43-30zl50 108zl138 131zl-68-142z"/><path id="e118" stroke="#8ba1ab" d="M322 275l-123 51zl-66 96zl-18 152zl-158 99zl31 177zl-111 59zl-46 70zl-20 93zl203 89zl7 172zl85 30zl-34 122zl-147 53zl81 195zl-123 81zl179 35zl-126 103zl-105 119zl-93 113zl-105 52zl-42 145zl-128 66zl-118 48zl-98 156zM352 284l10 52zl83 9zl66 16zl84-20zl-122 49zl-157 46zl147 2zl-99 65zl-140 41zl-82 78zl-36 63zl85 8zl84-7zl-130 83zl10 92zl68-12zl12 93zl158 72zl16 65zl143 47zl-148 121zl-66 105zl-18 118zl123 8zl43 156zl172 36zl-106 144zl26 54zl-17 89zl79 14zl187 90zM234 192l2 100zl-89 118zl83-185zl-77 167zl-55-156zl68-128zl-12 93zl-8 110zl34-20zl69-151zl61-69zl53-125zl38 71zl68-62zl57-99zl-85 161zl-58 95zl62-30zl-60 175zl63-87zM384 185l77 90zl170 96zl-70-148zl158 126zl-74-168zl126 153zl160 168zl-6-179zl149 132zl-68-70zl-92-140zl-31-73zl147 89zl-65-120zl-92-83zl-80-151zl-85-181zl-57-117zl-19-164z"/><path id="e119" stroke="#8092a0" d="M322 275l-77 162zl-62 105zl129 64zl-127 61zl40 162zl-125 138zl215 47zl189 138zl-135 107zl44 205zl185 117zl-13 167zl19 153zl123 168zl-124 58zl-140 104zl-113 82zl-145 97zl-162 57zl134 39zl-59 67zl122 64zl-132 105zl-138 63zl-95 113zl-77 40zl-53 121zl-98 139zl190 123zl154 164zl-145 83zl199 139zl-154 96zl-27 109zM352 284l-101 150zl149 146zl-56 110zl-64 61zl24 64zl107-4zl-168 103zl103 86zl179 40zl-185 69zl-73 141zl-90 118zl-133 125zl68 27zl-10 157zl-191 68zl-56 109zl20 60zl61 20zl122 83zl183 42zl45 91zl71 49zl-40 169zl157 62zl-126 73zl132 148zl43 41zl70 9zl143 87zM234 192l-57 147zl-61 149zl16 76zl-90 150zl-105 132zl68-173zl48-169zl46-179zl-54 139zl50-159zl68-106zl57-133zl-32 84zl52-34zl37-84zl45-151zl45-1zl31-41zl-131 126zl-61 194zl-4 82zl-105-130zl46-111zl-29 116zl-73 128zM384 185l-58-121zl98 91zl129 106zl-54-163zl-51-17zl122 93zl92 98zl-38-134zl-72-61zl-55-109zl-52-163zl118 131zl-56-143zl-63-109zl-42-83zl146 95zl-46-171zl-69-141zl-103-92zl143 125zl-56-178zl-57-133zl97 79zl158 100zl-121-179zl-56-112z"/><path id="e120" stroke="#758395" d="M322 275l21 94zl218 94zl43 157zl-69 86zl-47 131zl35 164zl-47 183zl-51 97zl-88 103zl-92 113zl2 113zl-45 80zl-81 82zl-73 80zl-91 144zl-71 104zl-159 95zl185 113zl61 152zl-148 102zl181 135zl-60 107zl15 121zl-68 74zl80 65zl96 85zl-86 146zl-44 77zl-128 120zl-147 102zl-85 138zl123 164zl-181 73zl225 29zl-102 109zl28 122zl-61 66zl-47 157zl-61 78zM352 284l145 76zl153 112zl-130 93zl-17 129zl74 182zl-149 112zl-143 128zl-80 175zl-101 158zl105 49zl-108 140zl184 43zl-165 107zl52 51zl18 141zl10 80zl29 138zl-141 125zl187 37zl-63 165zl-126 111zl74 144zl-64 79zl44 77zl-111 111zl147 106zl4 102zl40 110zl-145 132zl176-1zl-71 75zl92 116zl-140 101zl-130 142zl-16 129zl-45 115zl154 22zl-30 148zl-56 161zl103 95zl49 68zl60 111zl32 177zl-169 88zl-28 148zl-105 129zl-120 100zl36 144zM234 192l-67 140zl23-187zl50-143zl28-161zl-60 176zl32-125zl38-108zl-94 157zl-125 122zl16-166zl-100 139zl46-51zl-60 114zl-64 132zl-98 154zl-61 91zl-68 120zl15-154zl-60 135zl48-149zl-11-171zl31-167zl-100 156zl-90 162zl44-167zl-96 128zl-31 71zl-92 159zl-109 126zM384 185l104 77zl-31-171zl48 67zl-44-148zl150 124zl164 122zl151 89zl159 114zl-43-8zl-43-164zl166 122zl151 143zl156 154zl154 133zl121 83zl87 76zl-63-153zl-51-140zl-48-38zl-43-57zl-65-118zl129 127zl156 114zl-55-132zl81-126zl-46-154zl89 84zl-50-171zl164 125zl-13-33zl54 66zl133 116zl-53-148zl152 116z"/><path id="e121" stroke="#6a738a" d="M322 275l-116 107zl181 148zl180 62zl178 111zl-14 183zl170 88zl-119 136zl-123 119zl-10 144zl-57 192zl-48 181zl135 112zl66 188zl175 160zl-108 145zM352 284l-93 143zl118 99zl157 50zl-24 163zl194 70zl77 35zl-41 195zl72 78zl-2 184zl-45 182zl40 179zl184 68zl38 166zM234 192l-101 135zl-2 44zl-116 139zl-130 116zl-91 68zl-79 145zl-35 91zl-79 115zl28 13zl-49 62zl-75 74zl-20 68zl-11 41zl42-129zM384 185l166-80zl15-108zl-25-158zl6-100zl4-123zl-25-126zl-20-179zl12-90zl49-109zl186 87z"/><path id="e122" stroke="#5f647f" d="M322 275l142 75zl116 153zl138 177zl-69 176zl-97 156zl-116 134zl-65 154zl9 195zl-106 75zl204 113zl-79 126zl50 168zM352 284l120 130zl-31 176zl53 119zl122 144zl124 51zl178 89zl173 94zl-98 82zl-103 131zl50 156zl48 168zl-115 124zM234 192l-174-80zl-179 50zl-109 145zl-29 46zl-36-164zl9-146zl24-154zl-164 90zl-7-179zl45-14zl-116-147zl-10 65zl-57-61zl-184 13zl-26-136zl-58 84zM384 185l-28-129zl171 97zl94-93zl-30-177zl187 69zl153 107zl45-160zl174 70zl136 93zl38-177zl41-160zl-25-175zl163 93zl62-139z"/><path id="e123" stroke="#545574" d="M322 275l115 122zl18 201zl91 192zl-103 132zl-93 169zl24 113zl-82 115zl34 171zl-2 123zl7 187zl-3 147zl-27 199zl9 199zl-133 113zl-95 135zl39 134zl-83 162zl113 85zl-104 128zl98 83zl8 131zM352 284l89 71zl107 122zl5 119zl74 184zl171 87zl-66 144zl85 101zl18 103zl119 91zl-106 146zl186 86zl159 73zl79 46zl-180 86zl-163 84zl70 69zl116 142zl-27 153zl78 110zM234 192l-11-45zl-87-148zl-26-130zl-198 25zl18-94zl-159-104zl-143 52zl-51-159zl-99-141zl-121-73zl-121 50zl16-155zl-191 0zl-102 129zl-15-153zl-122 109zl-79 99zl-147-56zl-78 69zl-62-147zl5-111zl-62-45zl-127 97zl-12 44zl6-104zl-45-154zl13-103zl12-107zl-149 107zl-107 135zl-54 67zM384 185l127 82zl147 8zl-10-127zl81 59zl-23-69zl189-16zl102-47zl-40-60zl-16-71zl-39-170zl95-125zl84-84zl44-155zl-21-110zl55 56zl-5-125zl-23-92zl-14-60zl218-17zl-9-83zl191-23zl28 60zl-33-149zl-33-150zl10-141zl-44-54z"/><path id="e124" stroke="#494965" d="M322 275l-111 147zl190 136zl33 186zl115 95zl-98 85zl-84 168zl-104 153zl140 175zl157 166zl23 129zl75 156zl137 70zl102 165zM352 284l-138 121zl11 152zl33 152zl89 139zl-75 189zl11 133zl58 176zl6 100zl-50 188zl-9 133zl32 109zl-48 128zl55 84zl95 68zl62 120zM234 192l-62-132zl-130 112zl-120 61zl-37 57zl-12-55zl-53-123zl-158 25zl-102 110zl-108 43zl-110 24zl-23-96zl-96 138zl-11 11zl26-47zl14-164zl-4-158zl-66-168zl-98-140zl-139-80zl-144 1zl-68 92zl-87 20zl-26-131zl-63 106zl4-173zl-82 154zl-33-133zl23-67zl-144-131zM384 185l68-149zl32-176zl169 14zl162 19zl32-84zl-30-89zl157 143zl-22-160zl-15-169zl144 81zl11-159zl179-61zl48-161zl180 49zl130-138zl-31-131zl76-165zl63-85zl69-165zl21-95z"/><path id="e125" stroke="#3d3d55" d="M322 275l-9 197zl100 124zl25 198zl-39 135zl47 187zl-162 86zl37 116zl188 31zl-79 86zl-36 144zM352 284l-56 160zl-99 140zl-98 150zl89 178zl142 136zl-71 182zl60 175zl185 93zl70 157zl83 129zl-40 150zl24 155zM234 192l-73 145zl-115 103zl-70-85zl-111 7zl-16 35zl-87-30zl-105 141zl-47 43zl-24-21zl-116-30zl-92-120zl-173-66zl-118-20zl12-160zl-24-171zl-12-46zl-4-161zl-19-32zl-174 63zl-59-21zl-167 86zl-97-149zl-29-90zl-47 25zl-66 83zl-154 29zl-103 66zl-134 60zl-14-176zl-13-141zl4-159zM384 185l-25-24zl175-78zl39-167zl-7-104zl116-129zl192-77zl177 52zl39-110zl106 33zl65-134zl114 75zl214 15zl160 63zl91-115zl127-19zl169-50zl-15-88zl-29-23zl72 16zl190-5zl22-113zl186-63zl76-10zl50 25zl81-103z"/><path id="e126" stroke="#323246" d="M322 275l-19 195zl-85 150zl182 139zl-44 183zl178 146zl162 100zl218 72zl165 157zM352 284l80 156zl89 120zl58 143zl168 118zl137 85zl88 164zl-32 143zl139 135zl-56 117zl92 98zl29 156zl-31 177zl155 135zl13 177zl27 157zl-84 158zl10 152zl111 167zl82 151zl24 188zl12 156zl-173 92zl-143 120zl113 100zM234 192l-167 57zl-141 62zl-147-96zl-155-59zl-152-92zl-74-152zl-10-38zl-104-67zl33-99zl-168-88zl-120 100zl-144-80zl-199 16zl-56 91zl-65-93zl-8-62zl-145 107zl-173 58zl-56 41zl-95-120zl-8-32zl-107-87zl-26 5zl-140-114zl-178 43zl-148-113zl-189 33zl-14-163zl-88-113zl-65-133zl-90 61zl-114-62zl-145 17zl-64-157zl-151-85zl-152 69zl-96-126zl-141-13zM384 185l78-67zl67 34zl137-139zl161-49zl200-43zl173-6zl178 87zl16-33zl103-42zl7-57zl112 1zl96-148zl90 69zl53-134zl148 43zl85-74zl19-120zl3-107zl146-61zl185 30zl104 19zl155 82z"/><path id="e127" stroke="#272736" d="M322 275l-7 188zl23 186zl110 127zl180 110zl-13 173zl216 109zl30 181zl127 174zl123 141zM352 284l-47 167zl11 180zl123 123zl43 138zl88 157zl-45 175zl147 84zl77 162zl-116 123zl120 139zM234 192l-37 59zl-100-152zl-107 87zl-67 43zl-133 111zl-190 45zl-148 85zl-29-85zl-77-143zl-39 23zl-92 40zl-28-173zl-167-37zl-76-38zl-2-22zl-50 53zl-134 36zl-25-9zl-149 73zl-73-157zl-40-41zl-152 66zl-94 54zl-133-112zl-75-29zl-187 49zl-122 52zl-157-56zl-170-10zl-170 22zM384 185l213 12zl2-88zl132-141zl211 27zl-36-166zl134 43zl47-174zl220-32zl188-37zl137 8zl178 43zl119-10zl-14 18zl157-130zl22-3zl202-28zl133-37zl142-124zl79-160zl197-43zl-12-58zl153-89zl148 8zl184-44zl105-38zl-14-157zl102-144zl182 75zl151-83zl100-26zl95-160zl206 16z"/><path id="e128" stroke="#1c1c27" d="M322 275l-47 163zl168 108zl65 132zM352 284l1 163zl151 153zl55 182zl78 137zl169 77zM234 192l-129-58zl-14-122zl-107-143zl-2-24zl-156 102zl-162 49zl-131-130zl-145 108zl-84 94zl-76-117zl-191 3zl-154-17zl-149-52zl-48-152zl-92-139zl-86 60zl-118 30zl-179-65zl-178-74zl-163-92zl-53-162zl-107-31zl-163-52zl-182-55zl-100-50zl-110 52zM384 185l64-57zl126-107zl185-47zl147-10zl64-135zl197-65zl105 7zl36-77zl183-40zl131 42zl173-69zl223-20zl158 15zl128-95zl147-90zl65-122zl215 44zl196 72zl17-27zl20-99zl215 45zl152-47zl123-116zl176 5zl149-9zl172 90zl184 80z"/><path id="e129" stroke="#111117" d="M322 275l47 185zl167 105zl134 145zM352 284l143 110zl151 141zl28 176zl0 185zl40 149zl-54 176zl-91 154zl37 190zl13 159zl82 173zl153 152zl79 135zl101 122zl-87 176zl144 107zl145 119zl21 167zM234 192l-200-7zl-213-14zl-92-120zl-155 15zl-165 9zl-133-2zl-165-82zl-3-152zl-143-127zl-171-17zl-28-70zl-150-50zl-68-29zl-120-58zl-121 69zl-167-29zM384 185l174 33zl205 27zl205 22zl218-36zl104-97zl8-63zl175-79zl2 20zl105 5zl171-10zl0 25zl153-88zl173-25zl189 64zl179 26zl117-140z"/><path id="e130" stroke="#060608" d="M322 275l144 129zl176 142zl-25 186zl41 160zl123 170zM352 284l118 125zl61 183zl152 123zl86 163zl71 155zl132 163zl-57 175zl54 160zl137 87zl35 174zl94 132zl96 152zl93 166zl85 132zl29 184zl141 123zl150 124zl-1 190zl152 125zl46 168zM234 192l-139 29zl-160-75zl-135-88zl-156-37zl-90-102zl-85-156zl-146-61zl-159-109zl-146-79zl-91-8zl-36-55zl-137-2zl-88-95zl-141 104zl-170 81zl-64-75zl-165 62zl-13 7zl-149-106zl-75-81zl-99-11zl-96 10zl-25-64zl-190-54zl-167-44zM384 185l200-19zl117-39zl222-37zl195 51zl147-123zl89-137zl17 14zl136-58zl183 39zl208-75zl164-2zl58-155zl54-65zl43-7zl155-17zl169 17zl224-9zl114-9zl90 35zl122-131zl191-54zl191 49zl200-26zl55-142zl93-54zl115-10zl151-47zl166 40zl176-111zl102-136zl189 72zl16-120zl200 39zl206-63zl187-38zl186-35zl146-138zl177-78zl181-102zl98-116z"/><path id="e131" stroke="#e5eeee" d="M322 275l45 29zM352 284l-43 26zl-29 15zM234 192l40 94zM384 185l-56 73zl-82 85z"/><path id="e132" stroke="#d3e3e3" d="M322 275l46 34zl-16 50zl-42-4zM352 284l1 62zl-79 20zM234 192l40 101zM384 185l-37 51zl-54 57z"/><path id="e133" stroke="#c2d8d8" d="M322 275l12 26zl-64 7zl31 16zl-49 69zl91 9zl-12 44zl-74 61zl81 45zl-77 47zM352 284l12-4zl4 57zl-78-27zl31 45zl-73 28zl-90 31zl-98 31zM234 192l29 82zM384 185l13 84z"/><path id="e134" stroke="#b1cdcd" d="M322 275l44 100zl-1 73zl57 58zl-64 54zl68 56zl40 66zl17 64zl16 4zl69 30zl-44 38zM352 284l29 43zl-1 39zl-71 4zl-4 92zl24 58zl1 5zl71 57zM384 185l145 97z"/><path id="e135" stroke="#a2c0c2" d="M322 275l-139 92zl-84 70zl-37 41zl-127 78zl-110 38zl-119 113zl-52 92zl-12 179zl-53 20zl-104 142zl-45 27zl-83 73zM352 284l85 23zl32 8zl168 48zl-119 35zl-62 62zl90 8zl2 47zl16 64zl57 23zl-91 109zl172 113zl20 77zM234 192l75 8zl28-111zl19 86zM384 185l-11 72zl-57 40zl-49 36zl97 134z"/><path id="e136" stroke="#97b1b6" d="M322 275l-94 164zl-37 46zl59 104zl-72 99zl-152 90zl-49 134zl-44 63zl-105 48zl-146 107zl-63 59zl30 57zl-146 107zl-79 36zl-92 41zl126 167zl95 100zM352 284l-99 59zl10 48zl-161 44zl-151 93zl-53 59zl-137 36zl40 32zl-144 48zl-110 126zl-3 56zl180 80zl59 143zM234 192l-81 171zl-63 172zl76-45zl-6 107zl-49 148zl-35 151zl-54 133zl-26-92zl-13 58zl-87 139zM384 185l132 69zl-60-105zl7-153zl-77-173zl20-159zl-83-144zl-78-62z"/><path id="e137" stroke="#8ba1ab" d="M322 275l212 73zl-118 125zl64 64zl-47 91zl-120 100zl2 130zl47 148zl-86 129zl-94 114zl-107 72zl104 100zl-38 93zl-63 59zl87 138zl-88 47zl-94 138zl-99 155zl-118 105zl178 73zl-40 65zl-33 139zl-156 71zl-71 60zM352 284l41 174zl-108 28zl-79 144zl-104 83zl43 96zl156 152zl88 170zl-35 107zl-157 56zl123 11zl153 89zl-56 103zl-94 37zl60 99zl44 115zl-178 79zl110 29zl-25 86zl-13 62zl-152 120zl14 116zl-134 139zl-66 48zl122 113zl-100 115zl79 21zl2 149zl-103 126zl120 8zl-59 95zl54 17zM234 192l7-175zl72-102zl-34 127zl18 69zl69-158zl-1 94zl-78 127zl86-165zl74-73zl69-36zl-91 146zl60-163zl73-176zl44 21zl-60 158zl-14 83zl25 64zl1 82zl61-26zl-32 91zl35 54zl-108 130zl31-55zl-49 136zl74-172zl-68 170zl-55-167zl-96 150zM384 185l-76-148zl-76-145zl-73-171zl-85-174zl-69-89zl-77-162zl43 82zl-103-92zl166 140zl-51 14zl-89-144zl-61-14zl-2 54zl-76-148zl10 75zl-59-110zl-96-149zl-77-157zl-63-173zl76 107zl-63-126z"/><path id="e138" stroke="#8092a0" d="M322 275l189 34zl189 97zl-94 113zl159 162zl12 142zl0 189zl-53 145zl-33 129zl-60 156zl57 186zl-103 145zl-93 98zl-43 76zl-62 130zl-9 186zl9 99zl-96 91zl119 150zl207 37zl60 149zl124 121zl-108 99zl-111 99zl-1 123zl-84 63zl-135 88zl-94 160zl-81 140zl-102 152zl-22 80zl40 98zl113 30zl67 118zl-83 95zl-7 186zl-76 108zl110 96zl-163 84zl-77 162zl-160 90zl-111 62zl-99 103zl72 93zl35 143zl-4 88zM352 284l-147 133zl123 147zl-105 46zl-99 172zl-74 93zl-70 86zl77 68zl-123 153zl-116 76zl33 159zl65 147zl-48 171zl83 90zl-70 153zl115 5zl-118 50zl63 46zl-46 125zl-95 152zl106 91zl-69 69zl-72 67zl112 102zl88 29zl-112 95zl-18 86zl-94 97zl37 95zl-45 137zl-173 75zl-94 161zl115 22zl-12 99zM234 192l-79 145zl37-171zl62-161zl2-141zl18-177zl-65 167zl20-105zl0 57zl-95 160zl50-120zl-48 111zl1-183zl47-106zl-64 144zl-63 144zl-16 111zl10-135zl23-166zl-71 141zl47 3zl-100 160zl46-146zl53-78zl39 50zM384 185l145 140zl-23 44zl-23-54zl143 144zl-92-169zl-23-175zl122 137zl87 105zl-55-98zl135 110zl160 116zl138 80zl-63-163zl100 125zl84 72zl164 120zl99 99zl163 130zl-73-175zl142 156zl-75-68zl-23-142zl-22-168zl140 141zl-28-137zl-58-157zl161 147zl145 123z"/><path id="e139" stroke="#758395" d="M322 275l71 116zl-79 65zl106 174zl76 179zl-12 132zl102 102zl210 71zl-109 78zl-124 128zl-20 101zl79 102zl-115 82zl-96 91zl-102 94zl-69 144zl174 132zl-103 165zl-56 81zl-26 111zl7 194zl81 65zl-63 140zl-150 86zl-64 178zl-159 92zl143 167zl-113 73zl138 95zl102 183zl-108 154zl134 60zM352 284l-64 97zl168 73zl-69 116zl-156 81zl-65 109zl-32 162zl35 83zl14 136zl0 182zl-130 133zl-21 185zl1 178zl140 141zl103 138zl103 10zl135 23zl86 151zl-66 175zl31 91zl-97 119zl-162 81zl148 40zl87 31zl67 78zl89 141zl-176 83zl122 25zl-19 163zl-33 116zl80 70zl180 50zl-65 144zl-116 161zl134 21zl-159 108zl50 126zl-100 69zl-105 86zl-97 108zl120 107zl-107 168zl-112 137zl106 77zM234 192l-19 67zl-4 57zl46 6zl-103 121zl-128 95zl38-152zl-56 119zl-5-168zl-73 169zl50-132zl36-171zl49-16zl34-145zl-71 134zl-27-182zl-80 163zl-26-139zl-118 144zl-14 80zl-76 163zl45-126zl29-96zl-84 129zl-49 110zl48-26zl-75 123zl12-69zl38-127zl37-91zl-70 144zl-37 126zl42-169zM384 185l169 136zl84 81zl-50-90zl162 112zl170 133zl-55-73zl-39-15zl-54-94zl202 79zl-51-134zl157 109zl115 111zl-46-55zl-47-74zl97 54zl-34-172zl-38-109z"/><path id="e140" stroke="#6a738a" d="M322 275l46 125zl-58 96zl158 132zl-112 141zl146 113zl-77 163zM352 284l-154 88zl117 154zl151 83zl-37 143zl52 69zl72 166zl-1 135zl190 75zl71 73zl-150 84zl53 155zl-92 125zM234 192l-74 119zl-80 124zl30-151zl-38-163zl-6 63zl-12-127zl-108 139zl5-77zl-77-128zl-117 118zl-10-129zl-138 109zl-81 131zl-132 133zl4-67zl-35 83zl-3-80zM384 185l33 16zl170 130zl161 114zl-33-166zl-41-92zl103 75zl-9-147z"/><path id="e141" stroke="#5f647f" d="M322 275l63 178zl-129 130zl-9 167zl169 88zl-60 130zl0 145zl44 165zl36 125zl13 139zl-73 187zl-85 109zl-153 87zM352 284l128 120zl165 67zl171 118zl-126 124zl-36 174zl-80 158zl-53 122zl-116 118zl-95 178zl-9 165zl-55 103zM234 192l0-114zl-69 110zl-39-150zl10-63zl-73 61zl-159 39zl-118-36zl-200-43zl-55 86zl-44-168zl-10 29zl-121 139zl-95 122zl17-116zl-3-154zl27-129zl-68 65zM384 185l155 105zl40-132zl106 26zl75-103zl-6-121zl45-91zl153-115zl80 72zl131 94zl-33-119zl-24-132zl-24-167zl-16-137zl-22-161zl86-24zl151 56zl40-111zl141 117zl105 85zl125 99zl130-68zl167 80z"/><path id="e142" stroke="#545574" d="M322 275l48 157zl65 161zl99 178zl-2 170zl88 181zl187 143zl-139 88zl118 174zl189 151zl4 123zl103 114zl-3 174zM352 284l-32 178zl-161 97zl41 127zl52 141zl31 167zl-100 138zl53 161zl163 73zl47 148zl126 81zl-37 151zl-11 155zl82 115zl164 87zl-116 102zl86 117zl101 103zl-94 143zM234 192l-42-104zl-68-134zl-120 112zl-104 121zl-102 150zl-72-137zl-159-104zl-51-120zl-163 2zl-3-129zl-177-60zl-62-145zl-55-143zl17-73zl-129 3zl-85 94zl-94 161zl-17-149zl-152 15zl-194-4zl4-160zl-83-134zl-38-12zl-31-81zl-58 90zl-182 45zM384 185l-6-164zl169 83zl-24-3zl133 69zl160 59zl73-157zl154 99zl6-124zl-41-119zl164 116zl58-168zl-23-130zl67 34zl-33 35zl87-162zl106-78zl-1 39zl163 64z"/><path id="e143" stroke="#494965" d="M322 275l96 78zl-64 191zl-63 118zl-66 155zl82 196zl70 158zl158 85zl-80 171zl94 180zl-68 163zl-49 183zl-106 86zl58 130zl-121 132zl10 172zl-90 129zl-61 186zl44 175zM352 284l119 127zl72 79zl-87 145zl153 100zl73 84zl-124 130zl121 63zl56 130zl162 123zl-8 138zl-33 158zl116 72zl176 62zl-71 105zl162 128zl113 76zM234 192l-100-147zl0 56zl-81 104zl-172-28zl-44 37zl14-2zl-100-129zl-19-135zl-117 55zl-43 17zl-84 114zl-168 82zl16-88zl-142 86zl-2-118zl-71 125zl-150-95zl-6 12zl-97 72zl-154-128zl-166 48zl-39-7zl-44-173zl-165 52zl-136 129zl-166 38zl-11-113zM384 185l93 25zl102-106zl109-145zl111-49zl98 50zl-5-121zl98-157zl4-122zl190 69zl105-154zl9 27zl147-65zl-13-171zl190-63zl44-141zl81-104zl56 46zl13 20zl180 96zl34-119zl31-23zl35-162z"/><path id="e144" stroke="#3d3d55" d="M322 275l-59 149zl-140 113zl45 137zl-100 118zl160 159zl50 164zl133 160zl-1 202zl123 177zl160 64zM352 284l9 156zl92 137zl156 80zl-171 100zl100 66zl45 157zl-31 144zl-32 175zl-65 154zl154 92zl66 141zl151 148zl150 146zl153 127zl57 182zM234 192l-184-27zl-10-159zl-135-117zl-69-149zl-13-86zl-155 68zl-193 8zl0-162zl-48-98zl-112-126zl-40 22zl-156-16zl18-106zl-18-144zl-1-20zl-6-108zl-5-102zl-185-18zl-90 62zl-140 84zl-163 74zl-91-58zM384 185l144 31zl74 34zl108-142zl-20-83zl149 79zl71-156zl11-151zl98 45zl105-122zl73-70zl217 11zl13-163zl28 16zl-7 22zl126 25zl-10 30zl200 21zl201-59zl63 10zl55-155zl206 24zl17-151zl87-28zl73-160zl185 32zl182 63zl187 88zl197-53zl193-17zl173-59z"/><path id="e145" stroke="#323246" d="M322 275l-40 188zl22 195zl161 151zl88 152zl63 198zl53 179zl-71 121zl-86 163zM352 284l114 163zl74 156zl45 176zl-147 133zl180 67zl141 152zl122 85zM234 192l-49-102zl-42-73zl-98 90zl-74 62zl-155-91zl-62-134zl-146-40zl-59-81zl-140 32zl-187-63zl-38 58zl-38-120zl-161-87zl-174-100zl-69-136zl-44-114zl-126-106zl-162 7zl-29-155zl-138-134zl-80-70zM384 185l158 46zl75-132zl189 79zl201-64zl120 80zl204 15zl8-166zl124-122zl162 6zl80 57zl57-152zl135-63zl3-109zl-8-163zl138 68zl33-125zl75-39zl47-138zl136-7zl159 80zl141 82zl-28-145zl204-21zl183-98z"/><path id="e146" stroke="#272736" d="M322 275l-88 142zl30 198zl70 173zl-46 166zl-120 98zl49 159zl159 155zM352 284l-96 170zl132 155zl114 127zl71 127zl-69 167zl-9 183zl61 163zl37 155zl93 116zM234 192l-121 93zl17-165zl-44-75zl-103-119zl-34-67zl-137-136zl-105-14zl-94-139zl-131-109zl-176-2zl-192 8zl-171 43zl-160 74zl10-129zl-146 96zl-24-159zl-44 65zl-105-156zl-177-39zl-71-45zl-26-98zl-171-12zl-108-23zl-88-109zl-104 54zl-28 16zl-109 87zl-56 37zl-127 14zl-69-99zM384 185l196 47zl72 26zl52-167zl170 9zl95 40zl94-131zl188 83zl165 51zl149-55zl174 62zl114-116zl180 34zl203-34zl15-90zl-5-100zl190 69zl1-130zl72 13zl107-102zl35-90zl190-67zl79-149zl79 40zl65 8zl145-20zl9 27zl202-62zl153 55z"/><path id="e147" stroke="#1c1c27" d="M322 275l121 139zl90 140zl-56 182zl146 176zl180 116zl125 169zM352 284l5 198zl-101 142zl49 168zl7 144zl55 155zl160 146zl50 169zl50 167zl24 155zl123 68zl58 140zl-73 174zl158 120zl112 149zl23 123zM234 192l-124-125zl-12-81zl-168-48zl-171-57zl-140-77zl-35-89zl-130 32zl-108-33zl-148-109zl-113-127zl-86-6zl-148 94zl-154 96zl-133-48zl-155-92zl-150-116zl-146 69zl-163-81zl-133-61zl-145-46zl-63 17zl-45-1zl-134 95zl-163-16zl-155 54zl-140 29zl-51-55zM384 185l163-61zl42-159zl165 25zl51-73zl193 48zl83 17zl61-39zl208 33zl168 83zl216 14zl177-41zl194 33zl101-147zl25-144zl173-76zl16-3zl99-137zl145-128zl207-17zl158-87zl186 37zl147-68zl205 57zl201-41zl48-135zl177-92zl170-101z"/><path id="e148" stroke="#111117" d="M322 275l158 145zl158 138zl18 197zM352 284l144 130zl133 145zl28 192zl60 147zl89 162zl82 154zl-1 170zl81 144zl-109 162zl141 132zl-47 181zM234 192l-110-76zl-187-52zl-153-71zl-142 10zl-137-127zl-132 68zl-153 60zl-165 12zl-179-56zl-153 75zl-16-68zl-103 84zl-84 40zl-83-157zl-5-104zl3-45zM384 185l91-164zl185-58zl43-143zl10-83zl22 21zl165-44zl67-142zl162 72zl35-69zl214-6zl68-26zl203-55zl118-43zl52-6zl97-28zl83-124zl130-96zl208 51zl132-65zl56-41zl123-31z"/><path id="e149" stroke="#060608" d="M322 275l89 179zl109 178zl-68 178zl166 122zl114 168zl128 126zl108 171zl150 157zl41 201zM352 284l21 193zl105 169zl132 147zl148 154zl128 126zl38 183zl96 139zl38 179zl11 192zM234 192l-135-85zl-63-40zl-142-54zl-113-60zl-190-31zl-140-4zl-153 21zl-136-19zl-133 27zl-134-62zl-149-133zl-169 45zl-157-97zl-127 54zl-100 43zl-180-17zl-200-17zl-143 17zl-165-69zl-192-48zl-71-2zl-173-58zl-53-4zl-114-131zl-170 71zl-183-70zl-135-39zl-159 47zl-156-109zl-26-26zl-153-100zl-193 52zM384 185l149 16zl5-28zl70 12zl112-19zl62-97zl193-67zl166-120zl185 84zl189-85zl173 14zl99-90zl78-143zl193 55zl206 11zl129 30zl65-154zl74-45zl181-77zl107-146zl99 5zl39-45zl173-86zl106-91zl95 22zl76-130zl85-80zl95-46zl191-2zl158 42zl123-77zl178-23zl149-112zl62-21zl66-158zl188 19zl141-86zl190 47zl213-59zl-15-54zl120-141zl175-3zl133 39zl138-89zl30-26zl153-96z"/><path id="e150" stroke="#d3e3e3" d="M352 284l-20 53zM234 192l67 58z"/><path id="e151" stroke="#c2d8d8" d="M322 275l-17 63zl-45 37zM352 284l-7 18zl-42 17zl-106 3zM384 185l25 86z"/><path id="e152" stroke="#b1cdcd" d="M322 275l-57 30zl-54 45zl100 46zl73-11zl-95 56zl-90 79zM352 284l14 26zl-101 19zl-20 67zM384 185l-47 54z"/><path id="e153" stroke="#a2c0c2" d="M322 275l-99 149zl-88 50zl-70 27zl16 102zl-22 133zl-84 17zM352 284l-168 117zl-32 108zl47 14zM234 192l-13 105zl-43 133zM384 185l61 56zl-50 47z"/><path id="e154" stroke="#97b1b6" d="M322 275l-144 112zl-84 131zl183 73zl90 88zl-64 100zl130 35zl-1 155zl-28 119zl111 19zl151 55zl39 84zl-56 37zl-117 97zl32 63zl-35 52zl135-5zl109 47zM352 284l-138 67zl3 112zl-42 63zl-63 160zl176 85zl-95 37zl-79 52zl-24 100zl-75 116zl-146 79zl-63 97zl68 84zl16 49zl-167 60zl1 124zM234 192l60 55zl17-163zl-94 134zM384 185l41 82zl-77-178zl103 118zl-44 45zl-59-2zl-61-148zl95 103z"/><path id="e155" stroke="#8ba1ab" d="M322 275l52 60zl-81 92zl110 113zl87 31zl72 35zl-21 63zl-89 68zl-78 68zl-36 130zl29 190zl-100 58zl19 71zl-97 158zl-138 114zl-119 54zM352 284l-110 143zl34 94zl-181 98zl56-3zl-122 80zl123 38zl137 42zl-98 119zl-54 60zl-80 138zl125 53zl57 78zl43 89zl107-4zl-165 88zl87 7zl-94 136zM234 192l-58 142zl39 47zl66-129zl-63 54zl73-34zl-61 147zl66-169zl-54 156zl60-17zl-54 144zl69-97zl54-104zl57-160zl61-143zl64-113zl29-163zM384 185l-69-151zl-58-86zl-33 52zl-58-142zl-6-151zl-78-111zl-70-108zl-61-164zl-76-131zl6 77zl12 72zl-66 4zl-81-121zl-27 61zl-5-145zl62 71zl-78-44z"/><path id="e156" stroke="#8092a0" d="M322 275l-65 180zl-122 88zl41 105zl48 183zl-119 119zl-3 124zl-89 74zl127 42zl155 106zl-141 70zl-148 81zl186 110zl-159 83zl-67 120zl-108 63zl-182 67zl-54 93zl-161 84zl-157 84zl-64 72zl-31 138zl-56 67zl146 140zl-137 123zM352 284l124 71zl154 146zl80 15zl157 64zl66 100zl41 107zl61 130zl108 53zl-43 96zl169 21zl150 14zl17 165zl-147 96zl-6 142zl-132 68zl168 83zl101 65zl-4 88zl-37 125zl-120 150zl104 159zl111 24zl169 85zl15 98zl-141 25zl-14 129zl-165 62zl-7 85zl49 132zl162 49zl-62 75zl145 51zl143 1zl-199 74zl89 5zM234 192l-103 131zl4 92zl-49 72zl-52 156zl57-130zl16-149zl39-175zl-77 101zl41-136zl-71 112zl63-57zl47-79zl-51 135zl49-153zl49-80zl-24-134zl23-144zl31-133zl-64 175zl50-148zl-69 141zM384 185l-59-113zl-49-55zl123 114zl-51 16zl-62-48zl-7-179zl-93-110zl-59-164zl131 91zl-43-177zl134 102zl-56-165zl-57-60zl-16-171zl-60-7zl160 178z"/><path id="e157" stroke="#758395" d="M322 275l-91 78zl98 164zl-48 162zl-86 68zl-86 74zl101 184zl-109 138zl102 78zl-95 87zl-11 151zl221 42zl64 151zl25 100zl-52 96zl154 150zl69 95zl12 171zl-118 99zl27 155zl-111 73zl42 95zl-69 153zl-129 94zl-54 91zl-67 113zl-94 65zl162 151zl180 51zl95 108zl-69 70zl122 42zl82 72zl-144 95zl63 147zl4 112zl138 165zM352 284l121 43zl-22 147zl69 93zl147 145zl163 58zl-136 128zl-45 114zl-155 86zl-15 95zl92 30zl146 31zl54 166zl146 50zl186 54zl-94 125zl-98 94zl-126 141zl-144 106zl86 50zl158 23zl77 30zl181 70zl-83 174zl-101 111zl59 32zl91 41zl-5 182zl4 98zl-118 63zl-123 49zl30 82zl104 42zl-44 139zl-155 104zl81 67zl-22 148zl-1 92zM234 192l42-92zl27-159zl-72 172zl-111 131zl-88-99zl-47 123zl28-83zl-34-178zl42-137zl-34 97zl-96 141zl-82 162zl-31 67zl50-61zl-59 115zl11-110zl-66 131zl-15 57zl-99 124zl39-183zl-4-153zl-97 161zl-125-140zl-96 160zl-82 137zl-99 119zl-99 154zl-51 63zl-96 154zl-34-166zM384 185l-54-126zl-51-159zl-46-107zl-2 53zl96 103zl-45-174zl128 115zl-55-97zl31-135zl8-93zl-12-44zl-20-155zl-28-148zl-30-81zl163 127zl103-69zl147 118zl-46-156zl106 89zl-33 37zl-23-165z"/><path id="e158" stroke="#6a738a" d="M322 275l-111 119zl55 119zl125 130zl-77 184zl-107 125zl-137 82zl169 103zl-60 144zl-127 125zl-23 173zl80 106zl-79 167zl47 172zl8 124zl-129 129zl-87 102zl166 123zl-160 87zl-46 146zl-106 112zl-8 143zM352 284l78 81zl47 175zl-44 121zl-39 181zl110 103zl176 49zl139 120zl-71 190zl122 147zl52 111zl-130 131zl163 139zl-68 137zl69 93zl62 96zl53 112zl-22 112zl7 134zM234 192l-133 73zl-73 134zl-47-132zl-9 49zl-66 87zl-79 83zl-9-75zl-137 102zl-3-171zl-148 109zl-115 137zl19-176zl-32-168zl25-102zl-61-140zM384 185l-40-123zl83-168zl57-170zl113 92zl84-157zl-25-105zl38-155zl-28-143zl-27-51zl-24-51zl-24-151zl138 106z"/><path id="e159" stroke="#5f647f" d="M322 275l-133 122zl-101 119zl157 97zl8 202zl43 153zl60 145zl185 157zl-122 110zl-13 137zl169 40zl128 129zl86 185zl-21 167zM352 284l172 83zl39 172zl-6 171zl-159 78zl-49 131zl-71 125zl128 66zl-167 94zl17 134zl-108 154zl-117 128zl194 65zl87 111zM234 192l-57-102zl16-66zl17-148zl18-93zl22-140zl24-45zl-94 151zl-76-46zl-116 68zl-102-125zl-89 42zl-145 100zl-132 57zl-125 125zl-5-29zl-14-168zl-93 107zl-45-103zl-88-134zl13-169zl23-85zM384 185l181-67zl196 82zl5-147zl172 99zl31-76zl-10-51zl-45-54zl8-126zl-28-172z"/><path id="e160" stroke="#545574" d="M322 275l-14 142zl30 182zl-116 122zl-9 152zl61 114zl-57 171zl92 186zl-33 201zl44 167zl-4 164zl-41 165zl89 174zl44 149zl-36 119zl-54 171zl159 95zl145 165zl-84 155zM352 284l50 175zl-100 173zl84 57zl-136 133zl-35 185zl-3 188zl-88 168zl-53 194zl-140 118zl135 96zl132 85zl172 82zl104 131zl102 99zl-122 147zM234 192l-6-140zl-13-176zl-38 67zl-145 112zl-57 111zl-101-106zl-33-144zl-39 45zl-51-168zl7-144zl-102 104zl-127 66zl-162 55zl-116 134zl6-107zl-61-136zl30-132zl-61-159zl-147 7zl-88 125zl-96-104zl36-24zl-105 129zl5-97zl-67 103zl-94 119zl-25 18zl-31-164zl0-95zl-58-166zl-136 97zl-77-67zl-103 141zl-121 123zM384 185l-24 10zl134 77zl-28-144zl-21-111zl214-43zl155 93zl-34-134zl198-63zl47-82zl-26-41zl-13-103zl-23-71zl-1-155zl111 45zl15-157zl69-49zl12-165zl-35-76z"/><path id="e161" stroke="#494965" d="M322 275l27 174zl120 34zl141 170zl145 120zl140 105zl141 84zl171 132zl-45 169zl38 118zl18 167zl-115 127zl120 63zl23 191zl-72 180zM352 284l71 156zl57 183zl-156 123zl24 145zl-58 183zl-39 181zl-24 175zl-38 175zl126 161zl26 182zl50 150zl-41 142zM234 192l-56-162zl-111-81zl-118 130zl-174 27zl-18-158zl-152-101zl-94-61zl-141-39zl-110-93zl-173 68zl-59-47zl38-57zl-69-156zl4-19zl-163-51zl-41-179zl-84 56zl-125-95zl-173 23zl-119 57zl-181 36zl-11 5zl-89-151zl-131-137zl-31-156zl-182 58zl18-175zl-147-136zl-25-81zl22-89zM384 185l180 44zl-9 37zl-11-120zl205-70zl183 82zl98-169zl111 53zl153-117zl117 60zl152 96zl79-3zl103-117zl55-122zl-28-144zl2-108zl-22-125zl59-169zl162-7zl47-131zl-3-122zl-31-96zl114-116zl-40-88zl0-43zl-16-181z"/><path id="e162" stroke="#3d3d55" d="M322 275l-75 175zl-112 136zl198 136zl-81 102zl-6 179zl118 188zl141 171zl136 171zl157 153zl100 149zl38 140zM352 284l153 142zl-16 162zl79 82zl-76 161zl178 78zl-26 167zl-12 185zl124 136zl103 104zl84 41zl174 74zl-88 174zl-135 139zl14 189zl131 92zl32 175zl41 150zl120 151zl128 63zl91 33zl-114 145zl-84 172zl-1 128zM234 192l-185 23zl-187 22zl-110 121zl-98-39zl-103-66zl-150 109zl-126 70zl-153-4zl-70 18zl-157 86zl-205-11zl-61 23zl-59 13zl-86 45zl-168-81zl28 15zl-103 78zl-48-157zl-156 79zl-135 11zl-67-153zl-186 51zl-29-154zl-52 17zl-94-13zl-102-118zl5-107zl-131-85zl-80 128zl-147 61zl-162 80zl-187 26zl2-182zl-149 104zl-127-99zl-55-149zl-130 112zM384 185l-8-111zl182-74zl173 73zl160 110zl182 55zl161 115zl48-137zl147 82zl58-64zl147-34zl37-121zl-7-94zl33-160zl155-84zl57-130zl101-142zl143-20zl78-168zl115-137zl-24-97zl113-128zl98 35z"/><path id="e163" stroke="#323246" d="M322 275l-79 159zl82 183zl37 196zl189 151zl99 189zl-76 177zl-69 173zl-58 143zl-72 182zM352 284l-63 146zl35 183zl-17 114zl-56 148zl155 47zl126 129zl-36 176zl-26 136zl76 165zl101 98zl-31 196zl-52 186zl-32 181zl130 159zM234 192l-166-73zl-135 114zl-182 2zl-94-149zl-65-9zl-177-7zl-29-68zl-188-30zl-93-50zl-190-21zl-175-51zl-32-92zl-16 19zl-72 3zl-83-119zl-60 32zl-104-52zl-162 69zl-155 96zl-104-147zl-36-78zl-62-98zM384 185l28-6zl51-146zl190-75zl211-10zl189 45zl163-121zl157 56zl39-116zl-1-52zl65-105zl83 31zl53 55zl43-158zl15-81zl199-5zl168 74zl213 24zl169 60zl145-81zl120-75zl52-136zl149 79zl101 2zl-34-170zl84-149zl109-49zl79-147zl108 71zl167 98zl100-147zl-8-61zl84-110zl46-138zl165 60zl87-8z"/><path id="e164" stroke="#272736" d="M322 275l94 138zl153 117zl-103 138zl26 194zl174 136zl94 195zl92 138zM352 284l-107 176zl83 171zl-8 169zl106 53zl4 176zl165 100zl72 145zl75 179zl39 169zl97 164zl24 157zl-61 169zl100 164zl116 95zl73 142zl-43 165zl92 167zl-95 157zl28 155zM234 192l-69-156zl-139-42zl-19-139zl9-86zl-56-157zl-49-65zl-20 4zl-56-39zl-167 32zl-101-131zl-171-31zl-151-77zl-90-92zl-114-136zl-67-41zl-152 70zl-122 100zl-167 53zl-182-30zl-144-74zl-149-127zl-166-73zl-128-116zM384 185l126 19zl33-161zl140 68zl147-134zl152-64zl24-160zl170-56zl-37-115zl181 54zl18 22zl129-46zl193 37zl199-37zl204 14zl100-87zl12-74zl-14-45zl98 43zl160 53zl91-82zl103 36zl42-160zl198-46zl87 10zl129-69zl165-16zl0-155zl152-34zl176-60zl130-89zl170 31zl160-94zl50-134zl97-139zl23-132z"/><path id="e165" stroke="#1c1c27" d="M322 275l167 155zl8 150zl-94 154zl-130 128zM352 284l12 170zl118 108zl28 162zl-3 166zl134 102zl127 125zl141 65zl119 143zl91 165zl180 80zl152 147zl42 168zl128 135zM234 192l-153-111zl-169 58zl-164-14zl-150-85zl-157-116zl-112-82zl-136-64zl-145 17zl-4-165zl-142-8zl-55-98zl-79-103zl-168-27zl-123-135zl-120-124zl-167-99zl-171 40zl-71 7zl-59-161zl-40-140zl-184 24zl-190 29zl-89-63zl-59 65zl-146-107zl-178-99zl-177-94zM384 185l119-99zl55 15zl92 66zl105-144zl98-84zl133-52zl122-73zl99-143zl54-80zl188-84zl205-28zl49-118zl34-33zl89-112zl68-3zl-24-17zl136-129zl95-163zl138-136zl92-16zl62-84zl185-83zl33-173zl96-62zl50 19zl23-22zl216 17zl173-68zl164 62zl149 67zl106 46z"/><path id="e166" stroke="#111117" d="M322 275l209 111zl-26 189zl68 159zM352 284l140 87zl127 115zl141 114zl40 179zl23 151zM234 192l-180-46zl-155-116zl-150-25zl-180-78zl-194 31zl-129-89zl-115-121zl-145-56zl-34-3zl-91-56zl-185 13zl-153 62zl-108-129zl-68 58zl-177-52zl-154 32zl-134-78zl0-179zl-156-79zM384 185l24-58zl214 2zl176 4zl173-4zl202 64zl60-92zl165-108zl193-41zl157-103zl144-113zl80-90zl100-157zl106 37zl110-75zl47-113zl177 17zl199-67zl142-36zl43-37zl174-30zl128-93zl151-114z"/><path id="e167" stroke="#060608" d="M322 275l121 186zM352 284l156 111zl111 143zl84 166zl59 185zl169 132zl61 174zl36 154zl128 164zl128 125zl66 188zl122 155zl150 129zM234 192l-172-64zl-104-19zl-194-32zl-153-88zl-96 63zl-152 9zl-61-121zl-126-99zl-51 34zl-169-44zl-40-102zl-49-45zl-142-98zl-149 7zl-149-36zl-202-7zl-150-56zl-85-124zl-164-21zl-137-49zl-101-97zl-154-82zl-137-13zl-76-4zl-144-16zl-63-13zl-55-77zl-36-174zl-190-52zl-158-69zl-115-40zl-160 78zl-111-35zl-26-96zl-148-69zl-123 31zM384 185l203-39zl194 45zl221-14zl202 0zl90 22zl63-132zl139 5zl187-45zl99-41zl150-124zl14 14zl28-50zl127-22zl150-65zl149-108zl208-37zl16 21zl143-117zl140-63zl170 39zl91-124zl177-73zl204-70zl87 27zl202 38zl100-53zl60-40zl171-80zl201 36zl27-14zl38-49zl127-98zl82-39zl125-140zl112-12zl200 26zl111 33zl33 19z"/><path id="e168" stroke="#6a738a" d="M322 275l-49 171zl24 205zM234 192l-151 93zl-112 90z"/><path id="e169" stroke="#5f647f" d="M322 275l-82 97zl-56 166zM352 284l15 143zM234 192l-165 90zl17-2zM384 185l149 101zl61 49zl125 79z"/><path id="e170" stroke="#545574" d="M322 275l83 106zl76 173zM352 284l116 159zl-19 175zl98 118zM234 192l-141 49zl-153 84zl-101 69zl-126 102zM384 185l138 88zl-41-158zl-26-124zl183 45zl51-147zl-19-153zl-6-51zl165 80z"/><path id="e171" stroke="#494965" d="M322 275l-18 147zl15 165zl-107 115zl133 181zM352 284l-131 141zl55 95zl102 87zl-44 150zM234 192l-58-164zl0-179zl-86-79zl-166 85zl-108 126zl-11-146zl-80 101zl-57 16zM384 185l107-157zl-28-121zl124-149zl203-10zl-20-102zl130-95zl88-141zl-6-45zl191-58z"/><path id="e172" stroke="#3d3d55" d="M322 275l-140 107zl-101 161zl109 116zl-91 87zl81 189zl-104 137zM352 284l-165 102zl49 175zl119 103zl166 80zl119 159zl8 186zM234 192l1-125zl-134-127zl-13-49zl11-9zl-9 47zl-39-145zl-46-20zl-110 125zl-61 42zl-4-149zl-8-142zl-180 21zl-132-97zl-132-132zl-119-135zM384 185l58-119zl153-108zl53 35zl54-144zl188 75zl55-108zl161 99zl114 10zl71-116zl56-164zl-16-159zl153 73z"/><path id="e173" stroke="#323246" d="M322 275l-35 178zl42 183zl166 172zl-85 171zl-68 184zl48 126zM352 284l87 59zl-72 159zl-107 157zl119 161zl78 129zl-27 165zl162 68zl119 147zl121 70zM234 192l-115-87zl-136 117zl-149-67zl-132 105zl-2-75zl-99-134zl-34-148zl-191-34zl-60-159zl4-44zl-162-80zl-150 71zl-48-105zl-13 41zl-95-144zl-152-29zl-136 98zM384 185l56 31zl172-117zl73-17zl32-162zl117-122zl172 49zl58-16zl58-158zl42-49zl120-79zl11-149zl167 74zl150 81zl201-62zl56-168zl90 38zl46-102zl151-51zl68-108z"/><path id="e174" stroke="#272736" d="M322 275l169 135zl177 106zl-50 195zM352 284l119 96zl30 161zl19 149zl76 171zl170 111zM234 192l-139-135zl14-155zl-162 68zl-117 114zl-159-85zl-149-67zl-177-89zl-105-89zl-121-133zl-156-23zM384 185l57-166zl16-37zl44-125zl118-42zl203 18zl221-6zl97 42zl150 42zl189-5zl38-87zl183-58zl104-93zl67-105zl11-175zl100-163zl121-144zl37 17zl57-144zl193-41zl-28-109zl140-120zl32-130zl84-125zl154-110z"/><path id="e175" stroke="#1c1c27" d="M322 275l111 158zl-33 164zl76 177zl54 192zM352 284l10 181zl119 152zl-84 172zl113 160zl157 146zl97 138zl76 142zl-72 167zl-2 154zl171 85zl107 134zl-107 154zM234 192l-187 27zl-177-68zl-9 32zl-95-58zl-186 60zl-141 20zl-45-113zl-110-130zl-154-59zl-146 98zl-112-131zl-208 5zl-143 32zl-145-21zl-21-26zl-151 68zl-154-122zl-121 59zM384 185l82-130zl106-138zl144-49zl156-96zl203 11zl169 83zl117-59zl55-143zl167-88zl90-104zl104 54zl49-165zl56-166zl196 73z"/><path id="e176" stroke="#111117" d="M322 275l-25 187zl46 196zl-45 193zM352 284l88 165zl140 117zl82 163zl-2 168zl-67 122zM234 192l-14-40zl-121 86zl-151-72zl-174 2zl-144-74zl-95-138zl-17 19zl-140-128zl-154 33zl-134-79zl-138-6zl-135 38zl-160-70zl-126-40zl-101-103zl-49-16zM384 185l162 30zl11-160zl204-18zl134-123zl151 82zl119-157zl159-88zl150-114zl93-87zl193 28zl202-8zl173-106zl52-40zl112-143zl69-72zl66-113zl70-9zl88-74zl214 26zl76-108zl128 47zl60 31zl45-45zl147-46zl119-137z"/><path id="e177" stroke="#060608" d="M322 275l-28 197zl131 153zl170 126zl87 184zM352 284l-158 126zl74 168zl109 141zl97 157zl28 183zl128 71zl153 135zl123 143zl30 182zM234 192l-88 49zl-153 35zl-143-15zl-103-30zl-68-89zl-189-27zl-63-113zl-43-51zl-89 20zl-117-127zl-177-58zl-41-18zl-177 53zl-169 21zl-150 8zl-58-79zl-79-28zl-128-58zl-84-111zl-143-113zl-108-137zl-111-74zl-134-61zl-120 51zl-188-19zl-160-63zl-152-72zl-181 35zl-82 17zl-30-94zl-52-72zl-111-17zM384 185l138-108zl194-24zl208-9zl122 28zl126-145zl80-73zl76-64zl202-50zl86-55zl175 76zl128-135zl44-23zl157 76zl140-104zl20-159zl165 81zl89-164zl105 34zl170 17zl160-109zl186-94zl43-90zl185 83zl189-1zl-15-88zl154-77zl99-86zl200-71zl44-110zl206 6zl208-22zl29-20zl158-81zl159-90zl113-45zl64 1zl212-36zl104-31zl42-144zl167-68zl57-114zl198-6zl223 8zl195 80zl165 38zl197-71zl207 2zl191-45zl190 13zl78-50zl164 7zl186-53zl131 44zl59 26zl65-108zl202-13zl57-82zl149-2zl59-81zl192 37zl204-51zl46 4z"/><filter id="umb" x="-10%" y="-10%" width="120%" height="120%"><feGaussianBlur stdDeviation="7"/></filter><mask id="ucl" maskUnits="userSpaceOnUse" x="0" y="0" width="685" height="520"><polygon points="49,187 48,176 50,168 60,156 69,137 76,116 83,91 99,78 116,67 143,53 170,40 197,32 222,28 252,26 283,25 306,23 334,24 361,25 388,25 415,26 441,30 469,36 492,46 513,64 534,79 545,91 561,111 575,132 581,144 581,156 582,178 583,202 582,216 578,224 574,237 568,254 562,264 553,270 547,281 541,292 537,303 530,328 528,347 520,366 516,380 513,393 501,405 492,422 475,427 460,434 438,442 411,451 400,455 371,458 342,463 333,462 306,458 276,453 257,442 236,431 222,413 201,391 176,362 155,347 142,332 109,306 94,287 81,267 66,246 60,222 52,205" fill="#fff" filter="url(#umb)"/></mask><filter id="ubl" x="-5%" y="-5%" width="110%" height="110%"><feGaussianBlur stdDeviation="1.2"/></filter></defs>
<g mask="url(#ucl)"><g fill="none" stroke-width="2.4" opacity="0.8" filter="url(#ubl)"><use href="#e0"/><use href="#e1"/><use href="#e2"/><use href="#e3"/><use href="#e4"/><use href="#e5"/><use href="#e6"/><use href="#e7"/><use href="#e8"/><use href="#e9"/><use href="#e10"/><use href="#e11"/><use href="#e12"/><use href="#e13"/><use href="#e14"/><use href="#e15"/><use href="#e16"/><use href="#e17"/><use href="#e18"/><use href="#e19"/><use href="#e20"/><use href="#e21"/><use href="#e22"/><use href="#e23"/><use href="#e24"/><use href="#e25"/><use href="#e26"/><use href="#e27"/><use href="#e28"/><use href="#e29"/><use href="#e30"/><use href="#e31"/><use href="#e32"/><use href="#e33"/><use href="#e34"/><use href="#e35"/><use href="#e36"/><use href="#e37"/><use href="#e38"/><use href="#e39"/><use href="#e40"/><use href="#e41"/><use href="#e42"/><use href="#e43"/><use href="#e44"/><use href="#e45"/><use href="#e46"/><use href="#e47"/><use href="#e48"/><use href="#e49"/><use href="#e50"/><use href="#e51"/><use href="#e52"/><use href="#e53"/><use href="#e54"/><use href="#e55"/><use href="#e56"/><use href="#e57"/><use href="#e58"/><use href="#e59"/><use href="#e60"/><use href="#e61"/><use href="#e62"/><use href="#e63"/><use href="#e64"/><use href="#e65"/><use href="#e66"/><use href="#e67"/><use href="#e68"/><use href="#e69"/><use href="#e70"/><use href="#e71"/><use href="#e72"/><use href="#e73"/><use href="#e74"/><use href="#e75"/><use href="#e76"/><use href="#e77"/><use href="#e78"/><use href="#e79"/><use href="#e80"/><use href="#e81"/><use href="#e82"/><use href="#e83"/><use href="#e84"/><use href="#e85"/><use href="#e86"/><use href="#e87"/><use href="#e88"/><use href="#e89"/><use href="#e90"/><use href="#e91"/><use href="#e92"/><use href="#e93"/><use href="#e94"/><use href="#e95"/><use href="#e96"/><use href="#e97"/><use href="#e98"/><use href="#e99"/><use href="#e100"/><use href="#e101"/><use href="#e102"/><use href="#e103"/><use href="#e104"/><use href="#e105"/><use href="#e106"/><use href="#e107"/><use href="#e108"/><use href="#e109"/><use href="#e110"/><use href="#e111"/><use href="#e112"/><use href="#e113"/><use href="#e114"/><use href="#e115"/><use href="#e116"/><use href="#e117"/><use href="#e118"/><use href="#e119"/><use href="#e120"/><use href="#e121"/><use href="#e122"/><use href="#e123"/><use href="#e124"/><use href="#e125"/><use href="#e126"/><use href="#e127"/><use href="#e128"/><use href="#e129"/><use href="#e130"/><use href="#e131"/><use href="#e132"/><use href="#e133"/><use href="#e134"/><use href="#e135"/><use href="#e136"/><use href="#e137"/><use href="#e138"/><use href="#e139"/><use href="#e140"/><use href="#e141"/><use href="#e142"/><use href="#e143"/><use href="#e144"/><use href="#e145"/><use href="#e146"/><use href="#e147"/><use href="#e148"/><use href="#e149"/><use href="#e150"/><use href="#e151"/><use href="#e152"/><use href="#e153"/><use href="#e154"/><use href="#e155"/><use href="#e156"/><use href="#e157"/><use href="#e158"/><use href="#e159"/><use href="#e160"/><use href="#e161"/><use href="#e162"/><use href="#e163"/><use href="#e164"/><use href="#e165"/><use href="#e166"/><use href="#e167"/><use href="#e168"/><use href="#e169"/><use href="#e170"/><use href="#e171"/><use href="#e172"/><use href="#e173"/><use href="#e174"/><use href="#e175"/><use href="#e176"/><use href="#e177"/></g></g>
<g fill="none" stroke-width="0.6"><use href="#e0"/><use href="#e1"/><use href="#e2"/><use href="#e3"/><use href="#e4"/><use href="#e5"/><use href="#e6"/><use href="#e7"/><use href="#e8"/><use href="#e9"/><use href="#e10"/><use href="#e11"/><use href="#e12"/><use href="#e13"/><use href="#e14"/><use href="#e15"/><use href="#e16"/><use href="#e17"/><use href="#e18"/><use href="#e19"/><use href="#e20"/><use href="#e21"/><use href="#e22"/><use href="#e23"/><use href="#e24"/><use href="#e25"/><use href="#e26"/><use href="#e27"/><use href="#e28"/><use href="#e29"/><use href="#e30"/><use href="#e31"/><use href="#e32"/><use href="#e33"/><use href="#e34"/><use href="#e35"/><use href="#e36"/><use href="#e37"/><use href="#e38"/><use href="#e39"/><use href="#e40"/><use href="#e41"/><use href="#e42"/><use href="#e43"/><use href="#e44"/><use href="#e45"/><use href="#e46"/><use href="#e47"/><use href="#e48"/><use href="#e49"/><use href="#e50"/><use href="#e51"/><use href="#e52"/><use href="#e53"/><use href="#e54"/><use href="#e55"/><use href="#e56"/><use href="#e57"/><use href="#e58"/><use href="#e59"/><use href="#e60"/><use href="#e61"/><use href="#e62"/><use href="#e63"/><use href="#e64"/><use href="#e65"/><use href="#e66"/><use href="#e67"/><use href="#e68"/><use href="#e69"/><use href="#e70"/><use href="#e71"/><use href="#e72"/><use href="#e73"/><use href="#e74"/><use href="#e75"/><use href="#e76"/><use href="#e77"/><use href="#e78"/><use href="#e79"/><use href="#e80"/><use href="#e81"/><use href="#e82"/><use href="#e83"/><use href="#e84"/><use href="#e85"/><use href="#e86"/><use href="#e87"/><use href="#e88"/><use href="#e89"/><use href="#e90"/><use href="#e91"/><use href="#e92"/><use href="#e93"/><use href="#e94"/><use href="#e95"/><use href="#e96"/><use href="#e97"/><use href="#e98"/><use href="#e99"/><use href="#e100"/><use href="#e101"/><use href="#e102"/><use href="#e103"/><use href="#e104"/><use href="#e105"/><use href="#e106"/><use href="#e107"/><use href="#e108"/><use href="#e109"/><use href="#e110"/><use href="#e111"/><use href="#e112"/><use href="#e113"/><use href="#e114"/><use href="#e115"/><use href="#e116"/><use href="#e117"/><use href="#e118"/><use href="#e119"/><use href="#e120"/><use href="#e121"/><use href="#e122"/><use href="#e123"/><use href="#e124"/><use href="#e125"/><use href="#e126"/><use href="#e127"/><use href="#e128"/><use href="#e129"/><use href="#e130"/><use href="#e131"/><use href="#e132"/><use href="#e133"/><use href="#e134"/><use href="#e135"/><use href="#e136"/><use href="#e137"/><use href="#e138"/><use href="#e139"/><use href="#e140"/><use href="#e141"/><use href="#e142"/><use href="#e143"/><use href="#e144"/><use href="#e145"/><use href="#e146"/><use href="#e147"/><use href="#e148"/><use href="#e149"/><use href="#e150"/><use href="#e151"/><use href="#e152"/><use href="#e153"/><use href="#e154"/><use href="#e155"/><use href="#e156"/><use href="#e157"/><use href="#e158"/><use href="#e159"/><use href="#e160"/><use href="#e161"/><use href="#e162"/><use href="#e163"/><use href="#e164"/><use href="#e165"/><use href="#e166"/><use href="#e167"/><use href="#e168"/><use href="#e169"/><use href="#e170"/><use href="#e171"/><use href="#e172"/><use href="#e173"/><use href="#e174"/><use href="#e175"/><use href="#e176"/><use href="#e177"/></g>
<g fill="none" stroke-width="3.7" stroke-linecap="round"><path stroke="#72d1ab" d="M547.0 290.0h0M402.7 19.9h0M349.6 444.2h0M370.5 122.9h0M515.0 380.5h0M506.5 265.6h0M527.3 329.1h0M397.3 140.3h0M558.8 151.0h0M480.1 229.0h0M500.0 281.4h0M202.1 348.0h0M549.5 306.7h0M86.0 105.0h0M304.5 362.2h0M326.9 474.3h0M584.0 107.0h0M578.4 254.8h0M170.9 63.3h0M483.4 203.4h0M484.3 174.7h0M211.2 390.3h0M241.4 253.0h0M525.8 291.2h0M233.3 319.7h0M470.9 438.4h0M567.0 267.0h0M582.0 179.0h0M167.7 28.1h0M577.5 170.3h0M492.2 334.9h0M349.0 375.8h0M174.4 142.2h0M235.8 284.6h0M134.0 348.0h0M162.8 270.3h0M129.6 147.9h0M393.2 237.3h0M525.6 129.3h0M485.4 426.7h0M233.0 281.7h0M324.0 221.6h0M267.1 276.8h0M65.2 268.5h0M219.1 387.5h0M90.1 96.3h0M397.6 25.0h0M470.1 354.9h0M270.0 378.5h0M273.6 429.4h0M232.3 338.5h0M218.6 320.2h0M457.2 394.8h0M264.1 448.0h0M54.1 165.4h0M493.9 425.4h0M565.7 226.2h0M427.2 350.9h0M416.5 444.8h0M485.7 168.3h0M239.3 352.9h0M489.0 429.0h0M588.2 130.8h0M392.0 43.9h0M533.0 73.0h0M470.9 416.7h0M377.2 411.3h0M419.5 446.0h0M474.6 183.6h0M91.0 298.0h0M487.9 264.4h0M430.3 282.2h0M290.1 247.1h0M86.0 290.0h0M393.9 359.8h0M359.1 457.7h0M177.0 330.3h0M178.5 174.6h0M517.1 359.4h0M480.4 397.7h0M501.8 292.2h0M447.5 313.5h0M367.1 21.4h0M62.0 164.0h0M151.4 94.6h0M116.0 74.0h0M195.1 313.3h0M467.9 91.2h0M490.3 147.3h0M337.0 469.4h0M353.4 388.1h0M448.8 295.8h0M428.8 280.0h0M538.6 310.9h0M446.3 227.7h0M452.1 350.2h0M507.5 267.3h0M194.1 263.9h0M40.6 162.3h0M352.5 344.5h0M535.0 209.6h0M197.3 259.6h0M151.2 316.8h0M556.0 284.0h0M547.0 298.0h0M411.3 426.8h0M149.5 337.9h0M205.2 73.6h0M407.7 133.6h0M444.3 356.7h0M209.2 410.5h0M338.3 404.7h0M218.0 403.0h0M506.0 54.0h0M167.0 361.0h0M530.1 286.6h0M180.3 165.4h0M451.9 296.5h0M263.5 366.7h0M84.0 97.0h0M74.6 179.1h0M330.4 454.9h0M606.0 199.0h0M384.8 12.6h0M308.7 281.4h0M480.5 229.8h0M341.4 335.5h0M327.9 377.3h0M430.8 357.6h0M451.3 34.0h0M424.4 380.3h0M363.4 166.5h0M336.0 373.4h0M432.1 273.8h0M343.1 476.6h0M440.5 304.8h0M273.0 22.0h0M518.3 52.7h0M356.0 26.0h0M363.1 282.2h0M243.1 322.6h0M251.8 54.6h0M493.7 416.2h0M284.2 326.3h0M291.0 326.2h0M338.2 225.4h0M322.9 383.0h0M225.0 416.0h0M189.5 76.5h0M311.5 351.5h0M474.8 430.6h0M327.4 336.0h0M427.9 201.2h0M152.5 80.1h0M97.2 268.3h0M394.0 467.0h0M132.6 342.9h0M404.9 110.6h0M271.1 370.3h0M459.9 135.8h0M421.1 317.0h0M182.0 329.8h0M88.0 268.0h0M495.2 244.3h0M312.0 458.3h0M390.3 50.3h0M496.9 271.3h0M214.7 404.5h0M127.5 190.2h0M383.0 25.3h0M457.9 158.9h0M531.0 62.0h0M423.0 379.5h0M323.9 270.9h0M284.1 273.1h0M36.0 217.0h0M219.5 302.5h0M461.4 280.5h0M412.8 305.0h0M459.2 297.8h0M175.8 330.6h0M552.4 236.9h0M403.2 472.2h0M445.8 27.0h0M328.6 415.8h0M290.0 453.0h0M489.9 38.7h0M278.0 25.0h0M284.3 336.8h0M418.9 38.9h0M471.7 289.3h0M246.6 153.3h0M516.1 97.3h0M326.9 465.1h0M135.8 236.3h0M112.0 301.0h0M421.1 369.5h0M439.1 232.8h0M342.8 320.3h0M428.8 269.6h0M233.8 31.9h0M564.1 255.8h0M494.0 199.6h0M420.2 436.8h0M355.5 440.6h0M440.1 249.4h0M133.6 291.8h0M557.2 179.6h0M527.5 120.7h0M477.6 364.3h0M438.0 138.1h0M543.4 298.9h0M515.0 349.3h0M219.8 43.4h0M446.3 407.9h0M182.5 103.4h0M470.8 81.7h0M317.5 371.5h0M516.7 166.9h0"/><path stroke="#f4875f" d="M317.7 426.3h0M311.0 10.0h0M507.0 381.7h0M323.9 122.9h0M428.0 449.0h0M441.5 320.5h0M180.5 349.7h0M218.3 407.0h0M343.2 14.4h0M456.0 443.0h0M249.1 51.3h0M428.5 256.9h0M246.0 399.9h0M242.0 316.7h0M177.8 359.8h0M339.7 368.3h0M377.5 394.4h0M224.3 383.4h0M437.1 223.2h0M240.0 433.0h0M283.2 366.4h0M420.2 104.4h0M98.1 309.3h0M326.1 351.6h0M501.0 426.0h0M448.5 392.5h0M152.0 292.9h0M531.0 402.0h0M392.1 329.4h0M448.2 249.2h0M512.0 315.3h0M225.7 324.4h0M411.1 388.1h0M379.9 314.0h0M308.0 322.5h0M370.3 10.7h0M362.0 465.0h0M179.8 37.6h0M31.5 205.7h0M354.8 453.5h0M354.2 386.7h0M283.3 428.7h0M136.2 303.1h0M82.0 262.0h0M457.9 440.4h0M455.4 342.6h0M229.0 436.0h0M217.9 258.4h0M446.6 233.0h0M219.4 404.7h0M511.6 74.1h0M372.6 461.5h0M260.2 402.4h0M322.9 387.0h0M380.7 420.8h0M476.9 436.1h0M316.6 439.6h0M240.4 303.8h0M95.0 303.0h0M389.2 346.6h0M503.8 383.2h0M541.7 308.8h0M499.0 398.0h0M442.3 293.8h0M153.0 358.0h0M100.5 105.2h0M283.7 352.4h0M73.8 158.6h0M281.6 367.9h0M394.7 25.3h0M379.0 473.1h0M513.4 355.7h0M451.9 311.4h0M394.0 24.0h0M602.0 168.0h0M587.8 191.7h0M83.1 254.2h0M426.4 348.8h0M527.0 364.0h0M413.0 459.0h0M195.0 407.0h0M34.6 174.9h0M535.0 279.6h0M312.4 365.6h0M281.1 316.2h0M338.5 441.4h0M457.4 388.2h0M450.7 443.2h0M53.0 228.0h0M446.6 306.4h0M197.5 373.7h0M298.6 349.5h0M456.2 104.0h0M289.4 344.1h0M205.8 339.2h0M207.7 366.2h0M565.0 122.0h0M385.5 442.0h0M295.0 400.9h0M73.0 115.0h0M224.0 233.7h0M560.4 190.1h0M459.1 408.6h0M252.5 427.2h0M384.2 313.2h0M460.0 23.0h0M489.3 427.7h0M240.5 12.2h0M353.0 423.0h0M264.3 417.9h0M337.7 438.7h0M329.0 469.0h0M184.5 366.4h0M252.2 139.5h0M380.6 354.5h0M347.6 460.3h0M526.0 365.6h0M416.6 305.2h0M236.6 422.0h0M424.3 329.2h0M257.3 358.1h0M55.7 146.7h0M512.7 305.7h0M297.9 269.1h0M387.3 316.9h0M309.0 329.3h0M466.4 415.0h0M245.0 459.0h0M414.0 460.0h0M426.9 446.3h0M374.5 331.1h0M458.9 432.5h0M465.1 419.8h0M433.6 332.3h0M159.0 330.5h0M159.1 265.3h0M147.3 313.8h0M434.9 262.9h0M472.1 382.6h0M462.9 430.7h0M473.9 390.1h0M370.0 19.0h0M217.9 395.2h0M345.5 437.9h0M375.5 387.3h0M378.0 6.0h0M174.9 374.9h0M357.1 448.6h0M412.3 460.9h0M457.9 431.4h0M305.0 451.0h0M263.2 124.9h0M298.2 384.7h0M432.9 314.6h0M372.3 418.8h0M271.8 175.9h0M232.5 399.1h0M397.0 473.0h0M536.0 352.0h0M342.2 399.2h0M390.0 446.7h0M153.7 343.2h0M290.5 383.9h0M502.0 430.0h0M277.2 414.1h0M351.0 406.8h0M440.6 450.1h0M401.4 416.2h0M482.0 443.0h0M503.4 331.8h0M129.0 321.0h0M291.4 362.2h0M216.2 302.4h0M355.0 133.6h0M558.5 286.4h0M120.6 327.8h0M319.3 369.3h0M443.8 385.3h0M497.4 348.2h0M432.7 20.2h0M373.9 394.2h0M344.6 409.9h0M305.8 386.9h0M292.9 371.3h0M274.9 448.2h0M545.0 300.0h0M314.7 320.0h0M303.0 470.0h0M453.8 385.5h0M564.1 161.9h0M380.0 327.1h0M264.6 336.8h0M305.5 120.5h0M513.8 151.0h0M547.0 328.0h0M428.0 455.0h0M197.7 240.2h0M303.3 272.0h0M450.2 435.6h0M412.8 360.5h0M232.6 377.6h0M91.9 152.6h0M244.4 334.8h0M378.2 445.6h0M294.4 418.1h0M330.5 112.7h0M478.5 308.2h0M295.4 472.3h0M408.9 463.3h0M410.9 374.4h0M484.0 432.0h0M308.3 360.1h0M234.7 375.2h0M237.3 408.7h0M470.6 440.9h0M272.8 450.2h0M539.5 322.7h0M517.0 371.0h0M330.5 442.6h0M271.0 468.0h0M283.3 432.0h0M474.0 441.0h0M185.3 224.0h0M313.1 477.2h0M271.2 330.0h0M471.8 306.7h0M362.7 363.7h0M328.3 392.0h0M262.3 385.5h0M254.7 268.7h0M54.8 224.9h0M332.5 371.0h0M321.0 461.0h0M429.9 420.0h0M429.9 355.7h0M362.3 353.6h0M210.0 367.7h0M546.6 230.7h0M407.5 453.5h0M179.0 351.9h0M456.8 423.7h0M476.2 102.1h0M381.9 386.7h0M472.0 422.0h0M181.0 359.0h0M320.1 367.8h0M284.4 404.2h0M273.0 387.9h0M403.2 465.1h0M238.6 70.2h0M378.5 305.2h0M276.9 355.9h0M213.8 387.6h0M530.0 346.0h0M245.1 392.6h0M289.3 460.8h0M216.2 21.6h0M507.8 252.0h0M194.4 402.5h0M328.5 164.6h0M229.5 413.0h0M278.2 418.9h0M268.2 450.5h0M271.5 283.6h0M217.2 146.3h0M195.0 332.9h0M480.0 424.7h0M300.0 463.0h0M348.5 388.1h0M281.0 14.0h0M233.7 405.9h0M218.4 408.8h0M513.9 343.0h0M427.8 359.2h0"/><path stroke="#8da0cb" d="M482.1 245.0h0M365.1 471.2h0M316.7 349.5h0M395.5 41.7h0M190.0 387.0h0M531.3 383.2h0M485.5 372.7h0M446.8 424.2h0M246.0 18.1h0M393.8 346.9h0M267.3 443.8h0M107.2 182.0h0M75.7 220.2h0M467.0 26.0h0M387.0 130.0h0"/><path stroke="#e78ac3" d="M191.4 323.9h0M441.7 457.8h0M570.0 239.4h0M435.6 108.3h0M255.2 449.9h0M422.9 34.5h0M511.5 353.4h0M484.0 317.5h0"/><path stroke="#a6dc54" d="M176.6 340.5h0M364.7 412.7h0M191.0 381.0h0M375.5 350.5h0M468.3 374.8h0M204.0 88.7h0M572.6 226.0h0M326.2 107.4h0M284.5 443.4h0M201.6 220.5h0M250.8 35.9h0M153.1 325.5h0M43.0 195.0h0M468.0 28.0h0M262.0 458.0h0M390.0 361.4h0M470.9 447.5h0M100.0 301.1h0M75.7 226.2h0M500.0 402.0h0M456.1 442.3h0M277.5 457.9h0M282.5 357.0h0M281.1 402.3h0M219.8 327.9h0M379.2 251.1h0M88.0 73.3h0M220.3 42.2h0M400.6 155.1h0M305.1 53.4h0M100.0 288.0h0M479.2 444.8h0M296.0 16.0h0M512.5 213.1h0M374.5 367.0h0M333.9 74.4h0M363.7 268.2h0M579.0 240.0h0M484.1 342.5h0M504.5 87.4h0M406.8 12.2h0M519.1 393.0h0M281.3 401.7h0M322.4 326.5h0M139.0 324.7h0M291.6 154.5h0M230.5 441.6h0M480.0 42.8h0M396.6 443.3h0M198.6 343.8h0M156.0 348.2h0M382.0 451.0h0"/><path stroke="#f2d93a" d="M437.0 451.0h0M76.0 96.0h0M318.3 448.9h0M547.4 329.6h0M472.5 271.9h0M512.6 144.7h0M380.6 360.3h0M238.9 305.7h0M235.8 391.4h0M147.0 44.0h0M307.7 378.6h0M514.6 400.8h0M434.0 242.3h0M499.8 263.1h0M463.7 452.5h0M382.4 333.5h0M440.0 326.4h0M227.1 421.3h0M443.0 214.7h0M406.8 34.4h0M484.8 426.6h0M74.0 266.0h0M250.6 360.2h0M446.1 417.5h0M250.9 360.0h0M557.2 238.7h0M368.5 368.2h0M580.0 257.0h0M165.0 43.0h0M463.5 287.0h0M254.3 200.6h0M504.0 414.0h0M511.3 250.2h0M515.9 392.4h0M450.6 410.2h0M223.4 195.2h0M340.9 403.4h0M459.7 438.4h0M285.0 343.4h0M505.0 247.6h0M394.4 426.5h0M482.0 417.0h0M282.8 417.8h0M482.7 400.3h0M293.3 425.2h0M231.3 392.5h0"/></g>
<defs><radialGradient id="vg0"><stop offset="0" stop-color="#8d9aa5" stop-opacity="0.72"/><stop offset="0.55" stop-color="#8d9aa5" stop-opacity="0.44639999999999996"/><stop offset="1" stop-color="#8d9aa5" stop-opacity="0"/></radialGradient><radialGradient id="vg1"><stop offset="0" stop-color="#8d9aa5" stop-opacity="0.66"/><stop offset="0.55" stop-color="#8d9aa5" stop-opacity="0.4092"/><stop offset="1" stop-color="#8d9aa5" stop-opacity="0"/></radialGradient><radialGradient id="vg2"><stop offset="0" stop-color="#a3b1b5" stop-opacity="0.92"/><stop offset="0.62" stop-color="#a3b1b5" stop-opacity="0.5704"/><stop offset="1" stop-color="#a3b1b5" stop-opacity="0"/></radialGradient><radialGradient id="vg3"><stop offset="0" stop-color="#cbd8d6" stop-opacity="0.5"/><stop offset="0.5" stop-color="#cbd8d6" stop-opacity="0.31"/><stop offset="1" stop-color="#cbd8d6" stop-opacity="0"/></radialGradient></defs>
<ellipse cx="210" cy="295" rx="95" ry="85" fill="url(#vg0)"/>
<ellipse cx="462" cy="285" rx="98" ry="82" fill="url(#vg1)"/>
<ellipse cx="337" cy="305" rx="172" ry="158" fill="url(#vg2)"/>
<ellipse cx="310" cy="190" rx="95" ry="68" fill="url(#vg3)"/>
<g fill="none" stroke-width="0.54" opacity="0.3"><use href="#e131"/><use href="#e132"/><use href="#e133"/><use href="#e134"/><use href="#e135"/><use href="#e136"/><use href="#e137"/><use href="#e138"/><use href="#e139"/><use href="#e140"/><use href="#e141"/><use href="#e142"/><use href="#e143"/><use href="#e144"/><use href="#e145"/><use href="#e146"/><use href="#e147"/><use href="#e148"/><use href="#e149"/><use href="#e150"/><use href="#e151"/><use href="#e152"/><use href="#e153"/><use href="#e154"/><use href="#e155"/><use href="#e156"/><use href="#e157"/><use href="#e158"/><use href="#e159"/><use href="#e160"/><use href="#e161"/><use href="#e162"/><use href="#e163"/><use href="#e164"/><use href="#e165"/><use href="#e166"/><use href="#e167"/><use href="#e168"/><use href="#e169"/><use href="#e170"/><use href="#e171"/><use href="#e172"/><use href="#e173"/><use href="#e174"/><use href="#e175"/><use href="#e176"/><use href="#e177"/></g>
<g fill="none" stroke-width="3.7" stroke-linecap="round"><path stroke="#72d1ab" d="M157.0 51.1h0M475.1 432.3h0M527.0 64.0h0M419.8 15.9h0M482.0 271.7h0M510.3 290.5h0M213.3 409.2h0M65.2 201.4h0M213.6 372.2h0M403.5 429.4h0M382.1 127.4h0M492.5 417.4h0M69.0 138.2h0M216.0 385.8h0M327.3 466.7h0M471.4 377.4h0M492.0 42.0h0M442.3 328.4h0M442.9 435.7h0M388.0 20.0h0M542.2 148.2h0M319.9 388.3h0M459.7 107.3h0M158.4 353.8h0M493.4 312.8h0M504.5 141.3h0M514.0 274.8h0M295.3 366.0h0M91.8 181.8h0M531.8 249.5h0M410.3 471.5h0M334.7 412.7h0M492.1 302.6h0M534.1 290.8h0M166.0 355.0h0M276.1 425.3h0M287.2 424.0h0M234.1 287.9h0M89.6 201.1h0M342.5 407.0h0M311.1 35.7h0M63.0 186.5h0M217.2 317.6h0M582.0 122.0h0M406.1 264.8h0M193.2 384.5h0M529.0 325.0h0M360.5 57.1h0M183.1 126.7h0M572.4 125.3h0M350.3 292.3h0M354.8 244.0h0M240.6 157.9h0M281.4 435.8h0M359.5 390.4h0M203.5 127.1h0M152.1 333.0h0M265.2 422.2h0M306.3 462.6h0M544.0 295.0h0M434.8 451.2h0M102.0 297.0h0M182.3 337.5h0M301.7 352.7h0M388.4 389.0h0M487.2 436.2h0M439.9 101.6h0M507.8 77.5h0M344.8 400.2h0M309.2 337.5h0M485.6 278.6h0M281.0 15.0h0M48.9 144.1h0M40.0 165.0h0M418.6 35.6h0M187.7 273.9h0M173.3 88.6h0M439.4 252.4h0M418.9 274.9h0M362.4 151.2h0M291.6 395.7h0M222.0 11.7h0M496.2 277.3h0M392.2 341.6h0M508.8 219.3h0M516.8 173.0h0M137.6 104.0h0M37.9 154.5h0M187.9 314.6h0M250.0 30.0h0M598.2 226.6h0M175.7 96.8h0M243.7 122.2h0M346.0 480.0h0M265.4 402.9h0M310.0 157.3h0M443.7 261.0h0M407.1 406.1h0M280.7 373.5h0M249.6 374.2h0M128.0 317.0h0M420.0 423.8h0M194.2 338.6h0M562.4 180.8h0M406.4 333.8h0M514.0 412.0h0M165.0 36.0h0M482.3 236.0h0M360.5 461.4h0M378.4 41.8h0M201.2 79.0h0M71.0 100.0h0M378.1 451.3h0M184.5 36.7h0M125.7 282.8h0M378.5 127.9h0M465.0 444.0h0M522.1 375.5h0M223.0 338.6h0M522.9 72.2h0M70.9 79.3h0M348.6 360.9h0M133.5 122.2h0M199.2 364.0h0M387.0 11.3h0M105.3 145.3h0M127.8 327.8h0M251.8 49.7h0M495.4 281.7h0M513.9 259.6h0M513.0 302.1h0M323.4 405.9h0M390.6 84.1h0M70.0 149.0h0M486.1 433.7h0M303.4 335.7h0M283.2 198.5h0M246.9 308.6h0M200.1 231.0h0M237.9 375.7h0M184.2 88.2h0M586.6 173.7h0M162.7 345.4h0M229.2 441.8h0M594.0 211.0h0M444.5 215.4h0M158.1 218.1h0M42.0 139.0h0M189.4 313.5h0M272.9 302.1h0M465.0 330.6h0M214.8 69.5h0M495.2 420.3h0M198.0 18.0h0M323.6 196.6h0M475.6 304.3h0M421.4 125.9h0M158.6 326.9h0M507.1 110.1h0M537.4 259.9h0M487.4 373.0h0M426.5 357.4h0M361.1 373.9h0M130.9 335.3h0M143.0 336.0h0M324.0 352.3h0M555.0 279.0h0M386.2 357.8h0M375.3 383.1h0M338.6 141.1h0M61.0 270.0h0M234.9 173.4h0M159.7 313.1h0M244.6 329.5h0M210.9 422.7h0M267.9 38.4h0M593.0 142.6h0M145.0 35.0h0M172.7 249.0h0M367.7 441.6h0M363.9 88.4h0M213.0 110.9h0M287.5 266.7h0M468.4 287.7h0M111.0 57.0h0M234.0 13.0h0M218.2 133.3h0M253.9 336.6h0M459.2 348.2h0M51.0 189.0h0M416.8 462.8h0M251.3 338.2h0M459.6 410.8h0M310.0 414.3h0M353.0 309.6h0M368.2 48.5h0M206.8 278.6h0M57.0 140.0h0M488.2 355.9h0M393.5 169.1h0M219.0 440.0h0M264.5 147.2h0M490.5 181.5h0M529.1 293.4h0M532.6 227.2h0M519.2 405.6h0M329.4 374.4h0M590.7 155.4h0M496.8 305.0h0M597.8 207.6h0M575.1 212.9h0M427.1 359.9h0M454.9 410.3h0M87.2 171.8h0M607.0 193.0h0M459.6 36.2h0M444.2 38.9h0M410.6 276.7h0M585.0 123.0h0M55.7 187.8h0M125.0 334.0h0M280.5 313.8h0M586.0 223.0h0M441.4 248.1h0M217.7 61.1h0M83.3 255.3h0M203.9 338.4h0M276.5 319.7h0M394.7 466.5h0M339.8 474.4h0M596.6 183.6h0M148.0 354.0h0M299.4 272.0h0M363.3 382.7h0M477.0 33.0h0M530.1 268.6h0M544.4 311.8h0M156.1 357.6h0M221.8 358.9h0M242.5 299.4h0M463.7 149.5h0M542.7 297.0h0M372.7 83.8h0M174.7 89.4h0M165.0 36.0h0M94.0 64.0h0M270.8 58.6h0M77.8 258.9h0M541.9 301.9h0M462.0 17.0h0M235.0 12.0h0M337.2 380.4h0M59.6 193.3h0M540.6 173.8h0M540.0 307.0h0M225.2 29.6h0M83.4 94.6h0M190.0 400.0h0M285.0 343.8h0M243.7 349.3h0M258.9 327.4h0M214.5 200.2h0M46.0 236.7h0M238.3 44.7h0M429.7 244.3h0M462.2 177.6h0M403.0 14.0h0M582.8 120.7h0M541.0 285.0h0M66.9 241.6h0M188.8 265.3h0M388.3 354.1h0M322.3 444.8h0M54.6 146.1h0M395.7 364.7h0M205.3 326.8h0M160.4 221.1h0M185.0 398.0h0M462.1 366.0h0M308.0 184.5h0M380.9 462.3h0M371.0 406.9h0M174.4 53.4h0M192.0 285.7h0M167.7 306.8h0M247.1 142.2h0M456.7 136.5h0M294.4 355.9h0M404.3 470.0h0M286.8 312.1h0M199.6 43.6h0M72.0 272.0h0M554.8 227.6h0M153.9 319.9h0M276.8 417.0h0M422.4 361.0h0M534.0 372.0h0M419.4 254.8h0M238.5 399.5h0M539.0 344.0h0M223.4 260.7h0M504.4 383.1h0M510.4 292.2h0M97.9 310.3h0M440.0 441.0h0M445.0 443.0h0M250.9 427.8h0M425.2 400.6h0M418.1 403.4h0M373.4 452.4h0M224.6 246.5h0M311.3 428.4h0M466.4 289.9h0M328.3 344.8h0M275.0 217.2h0M384.0 468.8h0M455.3 333.9h0M457.9 377.9h0M537.0 70.0h0M230.0 31.0h0M410.0 429.1h0M392.6 468.1h0M514.4 290.1h0M554.7 148.2h0M468.8 348.7h0M243.0 144.6h0M490.0 421.3h0M163.7 315.3h0M479.9 405.4h0M502.1 339.1h0M352.6 344.6h0M185.3 156.2h0M424.6 86.9h0M155.6 262.6h0M469.6 218.5h0M243.2 337.2h0M223.0 21.0h0M510.9 66.7h0M436.2 363.3h0M184.2 307.8h0M541.0 82.0h0M370.5 474.2h0M136.1 342.6h0M52.7 219.3h0M152.2 208.5h0M408.3 440.8h0M203.0 396.0h0M254.0 188.8h0M359.7 57.8h0M539.0 178.6h0M72.0 82.0h0M390.2 278.1h0M285.9 375.2h0M412.7 394.9h0M234.9 26.1h0M392.8 461.9h0M206.3 291.3h0M588.0 115.0h0M527.0 363.1h0M502.4 383.2h0M254.1 57.2h0M440.0 448.0h0M415.2 404.0h0M522.1 322.0h0M291.1 348.1h0M268.8 460.8h0M230.7 281.2h0M231.1 392.7h0M470.0 435.1h0M239.2 371.4h0M422.0 460.0h0M89.2 111.4h0M160.1 357.7h0M490.4 377.6h0M344.8 6.7h0M564.0 281.0h0M116.5 155.6h0M538.9 279.0h0M334.0 460.9h0M212.2 317.6h0M361.2 351.0h0M35.0 186.4h0M132.7 134.4h0M159.6 337.9h0M365.0 26.0h0M566.2 233.7h0M117.4 128.1h0M345.2 367.3h0M438.0 458.5h0M439.6 267.5h0M545.3 227.2h0M473.2 422.8h0M379.8 462.1h0M39.0 185.0h0M445.3 48.6h0M242.6 322.5h0M139.0 54.0h0M314.6 43.0h0M197.9 326.0h0M55.0 127.0h0M474.3 151.5h0M359.4 381.0h0M354.8 192.0h0M365.0 16.0h0M321.1 192.2h0M264.1 313.1h0M471.0 443.0h0M373.0 477.0h0M169.8 345.8h0M272.0 470.0h0M501.2 289.4h0M151.6 154.2h0M346.8 445.4h0M252.0 23.0h0M271.7 449.1h0M140.1 106.7h0M383.8 129.9h0M377.3 75.4h0M261.0 20.0h0M426.6 410.6h0M498.3 246.9h0M499.1 409.5h0M200.0 388.0h0M456.3 421.1h0M181.6 283.6h0M450.1 431.5h0M468.9 260.1h0M469.8 443.7h0M576.3 184.9h0M313.9 15.2h0M67.0 138.0h0M162.6 120.4h0M373.7 457.1h0M276.5 353.9h0M258.9 266.6h0M397.0 472.0h0M177.9 276.8h0M332.0 23.0h0M232.9 123.4h0M420.4 48.6h0M372.1 466.9h0M589.0 207.0h0M123.2 323.3h0M165.1 96.5h0M520.7 406.4h0M153.0 353.0h0M526.7 192.3h0M418.5 421.2h0M539.1 320.2h0M97.1 244.3h0M87.1 88.7h0M513.0 395.0h0M485.9 439.5h0M352.8 40.9h0M429.0 336.6h0M447.1 264.9h0M37.0 231.0h0M443.7 424.5h0M539.5 325.3h0M468.0 434.0h0M299.4 415.2h0M316.8 434.6h0M380.9 431.3h0M227.6 425.0h0M130.6 329.3h0M168.0 191.1h0M504.5 162.8h0M328.4 101.7h0M213.2 406.6h0M371.0 470.0h0M90.7 198.6h0M394.3 444.5h0M369.6 119.3h0M296.9 327.4h0M230.3 365.2h0M390.6 26.5h0M473.6 302.5h0M180.6 326.2h0M235.9 338.2h0M314.3 460.5h0M265.4 96.1h0M329.3 258.4h0M391.1 85.4h0M426.0 466.0h0M529.7 54.4h0M439.3 255.8h0M247.5 18.8h0M256.1 322.5h0M409.7 247.5h0M424.0 456.0h0M265.4 412.1h0M386.1 451.9h0M119.0 68.0h0M204.8 400.3h0M553.9 108.3h0M410.4 280.3h0M332.2 404.1h0M285.4 43.1h0M244.2 307.8h0M364.7 347.9h0M453.0 434.0h0M415.9 404.8h0M445.7 252.7h0M359.2 414.7h0M429.7 375.6h0M242.2 396.1h0M168.5 340.3h0M163.7 355.5h0M184.1 237.8h0M471.5 28.4h0M255.7 23.2h0M380.2 338.6h0M492.0 43.0h0M424.6 372.6h0M136.2 169.8h0M338.2 332.0h0M401.5 341.2h0M387.0 413.7h0M265.4 353.7h0M301.3 465.9h0M291.1 445.8h0M355.3 452.6h0M231.4 402.8h0M281.8 43.2h0M286.0 439.2h0M323.4 479.1h0M354.3 362.1h0M243.4 413.3h0M186.5 367.3h0M421.7 26.4h0M528.8 177.8h0M68.5 238.4h0M484.0 22.0h0M424.0 96.0h0M202.8 288.4h0M470.0 130.9h0M592.0 236.0h0M376.0 313.8h0M203.0 36.0h0M131.0 327.0h0M197.0 72.0h0M207.6 265.7h0M404.6 388.3h0M118.1 304.7h0M213.6 386.2h0M98.6 101.4h0M121.1 307.3h0M176.4 379.7h0M222.4 432.9h0M67.5 126.8h0M215.4 372.8h0M546.1 279.1h0M263.0 458.0h0M371.4 126.0h0M257.1 103.5h0M465.1 372.7h0M188.8 21.5h0M279.9 352.3h0M310.0 324.2h0M450.0 205.6h0M336.0 452.3h0M438.9 407.3h0M510.9 396.9h0M228.0 416.0h0M304.5 84.0h0M574.9 209.2h0M110.0 326.0h0M196.8 175.8h0M197.2 247.6h0M502.3 428.1h0M296.3 334.2h0M253.0 25.0h0M312.0 3.0h0M259.9 101.9h0M227.0 13.0h0M488.9 367.7h0M533.0 328.0h0M236.0 313.1h0M109.0 314.0h0M395.3 193.5h0M512.0 421.0h0M330.6 336.6h0M426.0 447.0h0M258.1 368.6h0M191.1 381.9h0M470.0 418.5h0M456.4 428.9h0M103.2 232.0h0M588.0 154.0h0M238.0 19.0h0M237.0 446.0h0M140.5 59.3h0M438.0 446.4h0M471.1 60.3h0M438.9 20.3h0M463.0 32.0h0M454.2 122.2h0M502.2 141.0h0M585.0 126.0h0M305.8 383.8h0M65.0 250.0h0M457.9 285.9h0M48.3 148.1h0M385.5 173.9h0M388.2 192.8h0M454.0 324.8h0M189.9 390.2h0M486.0 49.0h0M306.3 172.9h0M481.0 430.0h0M538.6 292.5h0M346.4 471.6h0M361.2 251.3h0M551.0 265.0h0M127.6 214.9h0M292.0 16.0h0M178.3 312.2h0M27.0 193.0h0M51.8 178.4h0M376.4 202.0h0M207.3 362.7h0M293.3 376.0h0M261.4 420.3h0M397.5 307.6h0M556.0 246.7h0M213.4 422.4h0M176.0 356.0h0M202.2 121.0h0M502.5 312.6h0M315.4 350.6h0M502.3 264.6h0M423.4 256.3h0M104.8 78.9h0M291.8 451.7h0M479.3 286.4h0M341.6 372.1h0M458.9 375.8h0M277.8 466.9h0M244.0 394.0h0M547.5 236.2h0M466.5 322.7h0M224.1 126.6h0M273.3 71.2h0M470.7 350.7h0M572.2 136.0h0M236.7 438.2h0M474.7 288.1h0M392.1 333.3h0M381.1 273.8h0M492.2 379.6h0M539.0 323.0h0M253.5 432.7h0M407.2 24.1h0M473.5 76.9h0M363.2 301.0h0M219.0 415.3h0M210.3 262.7h0M580.0 168.0h0M453.4 20.4h0M255.4 377.7h0M313.3 182.0h0M223.7 387.9h0M93.0 296.0h0M331.8 50.3h0M531.9 272.6h0M312.0 443.5h0M392.8 96.8h0M104.5 199.7h0M35.2 172.9h0M445.7 409.6h0M204.1 284.8h0M535.0 71.0h0M517.7 357.9h0M524.0 81.0h0M233.5 156.5h0M34.0 192.0h0M209.0 321.3h0M255.5 449.4h0M240.8 290.1h0M179.7 348.0h0M240.6 357.3h0M413.9 88.6h0M233.6 14.8h0M583.7 186.9h0M356.3 66.4h0M216.8 66.4h0M361.2 226.7h0M582.0 139.0h0M92.7 236.1h0M247.6 432.8h0M146.1 288.3h0M376.0 22.0h0M325.3 101.4h0M466.8 321.1h0M107.5 248.4h0M226.9 366.4h0M135.8 320.9h0M208.1 389.3h0M500.0 370.6h0M156.0 362.0h0M254.0 321.2h0M247.3 129.4h0M396.7 95.6h0M302.5 383.0h0M553.0 268.3h0M396.6 279.3h0M577.0 213.0h0M160.7 37.6h0M443.0 437.0h0M88.1 223.7h0M280.5 398.9h0M515.4 398.7h0M81.0 289.0h0M181.0 179.5h0M171.2 206.7h0M323.5 453.3h0M358.2 93.8h0M420.4 170.2h0M228.1 437.9h0M251.0 445.0h0M554.1 299.6h0M527.0 44.0h0M251.1 426.7h0M357.9 326.5h0M257.3 122.2h0M336.0 355.2h0M155.8 161.7h0M297.8 408.5h0M485.5 55.9h0M237.5 393.4h0M466.3 390.2h0M148.4 357.0h0M248.2 132.1h0M296.8 163.1h0M238.7 400.9h0M392.6 436.8h0M164.9 96.5h0M157.2 235.4h0M278.2 379.5h0M315.6 89.1h0M378.7 461.7h0M181.5 372.7h0M260.7 27.0h0M484.3 210.2h0M368.4 391.6h0M181.4 159.0h0M512.2 327.6h0M142.0 331.0h0M370.7 470.2h0M150.2 136.6h0M468.2 395.2h0M182.6 282.8h0M157.0 341.0h0M180.4 337.0h0M59.0 142.0h0M518.1 80.0h0M315.7 472.8h0M364.4 455.7h0M486.7 297.6h0M447.4 335.0h0M488.0 19.0h0M250.6 444.1h0M266.6 321.9h0M145.7 252.9h0M164.7 84.7h0M79.0 229.7h0M297.7 272.3h0M148.9 315.3h0M295.4 439.5h0M63.7 257.5h0M122.0 229.5h0M222.6 365.1h0M208.5 317.9h0M338.0 29.0h0M244.6 314.1h0M204.4 415.7h0M456.5 250.0h0M539.0 321.0h0M292.8 116.2h0M352.1 342.5h0M218.7 29.0h0M78.1 123.1h0M190.1 289.6h0M205.2 410.3h0M338.0 385.8h0M322.0 250.3h0M242.8 88.9h0M101.0 303.0h0M259.2 311.5h0M341.0 411.9h0M579.8 256.6h0M201.4 152.2h0M202.8 415.4h0M284.9 451.6h0M223.1 142.7h0M499.0 401.0h0M490.5 264.9h0M157.0 359.0h0M129.7 60.4h0M469.3 227.5h0M510.0 311.5h0M436.0 329.7h0M533.0 188.0h0M231.5 262.5h0M99.0 62.8h0M319.7 459.9h0M432.9 235.1h0M102.8 89.3h0M204.5 285.6h0M269.2 315.6h0M451.0 60.6h0M519.6 322.7h0M581.0 241.0h0M377.4 452.6h0M476.9 313.2h0M377.7 397.5h0M401.1 396.2h0M267.0 307.9h0M415.5 62.9h0M300.6 354.9h0M529.4 161.5h0M586.8 210.9h0M126.0 331.0h0M494.6 331.3h0M419.2 450.1h0M258.7 131.8h0M218.9 260.0h0M503.9 246.6h0M486.7 417.7h0M380.2 52.7h0M540.0 339.0h0M463.3 349.4h0M311.5 342.6h0M315.0 461.0h0M197.5 188.6h0M44.0 198.0h0M332.6 427.4h0M339.6 453.7h0M330.2 450.0h0M135.0 58.0h0M198.8 352.4h0M421.9 37.5h0M383.0 30.0h0M405.9 52.5h0M143.7 226.8h0M404.8 43.3h0M410.9 423.6h0M210.8 418.8h0M529.0 347.0h0M194.8 375.5h0M29.8 199.2h0M296.0 337.4h0M386.7 378.6h0M153.4 285.8h0M244.7 62.4h0M309.3 342.5h0M357.6 12.1h0M491.2 249.4h0M363.9 423.8h0M75.0 107.0h0M472.0 44.0h0M58.0 162.1h0M427.5 413.5h0M117.5 320.2h0M87.0 96.0h0M513.6 164.9h0M376.1 374.1h0M363.9 365.2h0M475.1 220.6h0M537.8 347.5h0M424.5 335.6h0M504.8 410.9h0M526.4 344.7h0M448.0 21.0h0M458.1 226.7h0M67.0 245.0h0M257.1 13.5h0M567.8 109.2h0M198.0 305.0h0"/><path stroke="#f4875f" d="M359.6 24.0h0M182.3 135.2h0M341.5 440.0h0M291.0 96.0h0M323.4 347.1h0M250.2 351.1h0M392.4 379.7h0M245.6 407.1h0M451.7 311.5h0M384.9 285.8h0M469.5 440.9h0M253.6 385.6h0M212.4 359.7h0M200.3 349.2h0M228.9 436.0h0M169.0 373.1h0M442.6 343.3h0M246.2 368.8h0M117.0 306.0h0M448.7 372.5h0M378.8 326.2h0M213.5 383.6h0M234.9 384.6h0M315.8 412.2h0M532.8 305.6h0M506.0 353.9h0M454.4 294.2h0M347.9 457.6h0M440.1 332.9h0M347.9 452.5h0M96.1 124.1h0M51.0 202.0h0M358.4 323.3h0M213.7 257.0h0M452.7 345.7h0M212.8 285.7h0M528.0 333.0h0M442.3 377.7h0M321.0 460.0h0M457.1 242.0h0M427.4 359.5h0M287.0 451.7h0M465.3 349.4h0M297.1 301.1h0M279.3 461.8h0M363.3 321.8h0M215.4 408.4h0M415.2 124.9h0M365.7 317.2h0M409.6 393.1h0M510.3 390.3h0M254.6 409.5h0M428.0 271.6h0M139.5 344.2h0M344.8 420.2h0M257.2 364.3h0M383.0 464.0h0M373.5 404.3h0M217.0 417.0h0M197.1 333.8h0M210.0 395.0h0M514.0 368.6h0M392.0 463.0h0M248.2 445.8h0M509.2 410.7h0M252.0 17.0h0M287.5 296.6h0M162.0 346.4h0M367.8 62.8h0M215.5 318.4h0M308.3 201.6h0M368.6 317.4h0M526.8 309.8h0M166.9 307.5h0M352.7 399.3h0M440.4 113.5h0M288.3 324.8h0M186.6 367.2h0M335.1 406.2h0M475.6 431.2h0M334.7 402.1h0M277.1 468.3h0M351.2 437.5h0M535.1 330.8h0M207.9 52.3h0M565.0 239.0h0M338.4 349.7h0M238.4 39.6h0M182.4 313.6h0M271.4 370.4h0M317.1 333.0h0M207.0 402.0h0M57.0 124.0h0M438.4 305.6h0M340.0 327.9h0M342.9 360.9h0M295.5 446.4h0M335.0 412.1h0M316.4 437.5h0M457.1 390.7h0M318.6 256.2h0M392.0 406.2h0M584.7 115.8h0M329.4 464.6h0M391.6 336.0h0M405.9 383.5h0M311.0 14.0h0M401.9 447.4h0M310.9 455.6h0M224.4 397.1h0M250.6 354.1h0M309.5 313.0h0M197.3 357.7h0M258.0 440.0h0M160.0 371.0h0M267.9 285.3h0M378.0 466.0h0M381.5 286.9h0M147.0 283.3h0M238.0 33.0h0M289.2 169.9h0M189.4 251.5h0M140.6 84.1h0M99.3 244.6h0M405.5 331.5h0M312.0 474.0h0M176.7 45.6h0M369.4 468.8h0M574.0 232.0h0M50.0 216.0h0M492.8 182.3h0M544.6 331.3h0M316.5 450.6h0M299.8 338.8h0M201.1 350.5h0M338.7 57.6h0M377.8 370.1h0M542.5 334.7h0M414.4 153.9h0M329.9 468.1h0M217.4 426.4h0M127.4 295.5h0M175.4 378.3h0M244.8 23.4h0M420.8 436.2h0M423.8 309.1h0M334.4 342.5h0M214.4 324.1h0M240.2 447.2h0M524.8 335.6h0M362.0 17.0h0M276.8 418.1h0M489.2 350.0h0M483.5 298.3h0M439.2 127.8h0M329.5 389.7h0M274.8 418.5h0M355.0 468.0h0M400.2 408.5h0M216.1 347.0h0M324.0 451.1h0M493.0 357.1h0M378.3 436.3h0M173.0 33.0h0M163.0 32.0h0M261.8 309.2h0M285.0 466.6h0M251.0 425.4h0M247.9 364.6h0M427.4 445.2h0M232.8 402.9h0M465.9 387.5h0M439.2 462.1h0M264.5 433.0h0M410.8 422.4h0M527.0 362.0h0M559.0 106.0h0M300.7 348.4h0M162.3 325.7h0M74.4 127.4h0M230.0 27.0h0M317.7 340.4h0M329.2 405.3h0M339.3 387.1h0M446.3 450.5h0M87.5 273.6h0M411.8 36.2h0M424.2 399.2h0M479.0 25.8h0M108.7 162.6h0M389.7 461.5h0M462.3 279.4h0M471.4 433.5h0M342.4 470.8h0M278.5 290.2h0M361.1 432.2h0M527.1 73.6h0M189.5 357.7h0M468.5 381.9h0M63.0 235.0h0M226.2 20.5h0M103.0 320.0h0M194.6 378.8h0M290.5 470.3h0M358.9 457.8h0M199.0 383.0h0M424.2 27.8h0M144.0 339.0h0M489.2 302.7h0M320.0 459.0h0M321.6 266.5h0M168.3 242.7h0M371.0 467.0h0M461.7 273.4h0M70.5 243.1h0M499.0 57.0h0M360.0 69.6h0M291.9 351.6h0M162.1 357.4h0M303.2 324.6h0M537.5 278.8h0M582.3 247.8h0M411.0 389.9h0M63.3 224.3h0M349.1 439.5h0M344.6 339.1h0M116.0 336.0h0M283.1 120.7h0M218.0 416.0h0M364.6 443.1h0M213.0 341.0h0M516.9 308.2h0M487.5 258.5h0M235.3 413.0h0M583.0 167.0h0M365.4 319.4h0M542.6 353.6h0M347.9 430.4h0M471.0 421.0h0M285.8 330.1h0M410.0 403.7h0M504.0 409.0h0M350.8 473.9h0M198.9 354.8h0M174.0 374.0h0M219.6 392.7h0M253.0 60.9h0M462.7 328.9h0M285.8 289.5h0M527.6 59.6h0M499.5 335.2h0M515.9 337.5h0M440.2 434.5h0M559.0 261.0h0M248.0 341.0h0M347.5 336.3h0M448.5 445.5h0M380.0 28.0h0M545.0 271.0h0M302.0 95.1h0M143.8 36.7h0M316.8 209.8h0M455.1 62.8h0M140.0 81.8h0M299.7 300.6h0M519.8 182.3h0M475.0 372.2h0M163.2 264.1h0M450.9 356.5h0M475.9 305.0h0M448.9 55.8h0M330.0 477.0h0M531.5 334.3h0M537.0 322.0h0M322.5 394.1h0M53.0 265.0h0M468.8 167.4h0M220.3 225.8h0M371.6 460.5h0M516.1 369.6h0M331.0 463.0h0M411.3 312.1h0M538.5 299.1h0M500.6 297.9h0M223.1 430.2h0M416.6 411.9h0M253.6 453.7h0M202.4 388.3h0M526.0 388.0h0M481.9 359.9h0M577.0 233.0h0M555.5 274.6h0M277.7 429.3h0M232.9 346.8h0M228.9 348.7h0M460.2 289.8h0M215.0 180.5h0M457.0 14.0h0M357.1 323.3h0M505.5 341.5h0M336.4 455.4h0M194.7 359.9h0M100.9 206.4h0M356.0 90.1h0M433.4 343.7h0M355.0 467.0h0M105.6 303.8h0M424.6 455.3h0M461.0 326.4h0M474.0 428.0h0M314.2 458.0h0M471.0 374.2h0M73.7 102.6h0M367.6 350.2h0M138.3 87.3h0M274.5 401.2h0M508.6 308.8h0M536.5 360.0h0M484.9 251.2h0M248.6 291.9h0M324.7 465.2h0M406.0 124.2h0M298.1 407.8h0M370.7 309.3h0M403.2 306.7h0M421.2 445.4h0M395.9 299.4h0M240.9 49.6h0M368.9 320.0h0M436.9 408.2h0M343.6 196.5h0M337.1 348.5h0M48.0 233.0h0M603.0 215.3h0M128.0 336.0h0M325.8 443.4h0M342.3 478.9h0M269.3 352.2h0M486.7 353.2h0M209.6 306.4h0M218.8 267.0h0M299.2 458.8h0M250.9 424.9h0M514.3 335.9h0M592.0 218.0h0M146.0 345.1h0M328.0 459.0h0M463.9 441.4h0M465.7 391.0h0M387.9 271.0h0M218.5 356.2h0M344.2 419.4h0M446.4 285.7h0M340.2 423.5h0M298.4 320.2h0M525.2 138.3h0M580.9 229.4h0M523.2 341.3h0M370.5 113.8h0M545.0 95.0h0M412.7 32.0h0M506.0 423.0h0M196.4 360.2h0M227.8 325.3h0M507.1 301.3h0M56.0 157.0h0M244.0 353.7h0M268.6 430.1h0M427.8 341.0h0M201.8 396.7h0M508.0 420.0h0M129.0 49.0h0M325.5 384.2h0M476.0 36.0h0M265.3 371.8h0M479.4 363.5h0M141.4 68.0h0M536.2 250.1h0M285.2 314.5h0M227.6 426.7h0M52.0 237.0h0M400.8 469.6h0M362.7 438.9h0M428.8 162.4h0M311.0 472.0h0M170.0 233.5h0M329.9 361.9h0M217.6 387.0h0M546.2 65.0h0M558.6 246.5h0M386.1 401.7h0M357.8 349.8h0M426.5 357.2h0M592.5 198.0h0M442.1 267.8h0M319.0 478.0h0M178.1 105.7h0M434.1 54.4h0M474.0 324.6h0M111.8 254.9h0M450.8 235.9h0M412.2 351.3h0M262.4 78.3h0M228.0 74.9h0M258.9 361.8h0M415.4 426.3h0M369.7 390.5h0M92.5 228.7h0M433.1 354.2h0M312.7 456.1h0M447.0 394.1h0M408.8 336.6h0M488.5 411.7h0M464.7 375.2h0M351.5 362.7h0M397.8 36.5h0M515.8 356.6h0M537.3 360.1h0M295.2 367.4h0M155.4 348.7h0M524.3 293.3h0M530.0 340.5h0M268.1 361.3h0M204.0 415.0h0M509.8 358.4h0M477.4 346.7h0M470.9 264.2h0M527.1 388.2h0M419.7 341.4h0M570.0 122.0h0M225.8 390.3h0M313.4 317.5h0M340.4 463.5h0M385.6 300.4h0M514.7 377.5h0M214.6 34.9h0M126.9 165.1h0M264.4 323.2h0M353.0 462.0h0M582.0 170.0h0M105.7 65.4h0M108.2 290.6h0M341.6 139.6h0M267.9 322.0h0M212.0 422.0h0M474.2 330.0h0M92.9 224.7h0M538.0 384.0h0M138.9 285.7h0M333.5 332.3h0M428.0 449.0h0M307.1 336.4h0M232.7 329.9h0M69.3 238.4h0M229.0 322.0h0M593.0 162.0h0M337.0 387.5h0M378.9 395.0h0M164.9 197.8h0M252.0 381.7h0M299.5 326.9h0M138.8 302.3h0M262.1 399.5h0M197.3 300.8h0M362.6 425.1h0M322.6 459.9h0M163.7 366.3h0M461.7 211.5h0M339.2 452.0h0M225.8 83.0h0M266.3 113.3h0M332.1 422.5h0M219.2 32.3h0M422.2 432.8h0M320.7 300.0h0M494.4 403.8h0M357.9 418.8h0M418.2 466.9h0M235.8 392.3h0M331.4 345.1h0M518.6 88.3h0M242.1 377.7h0M202.0 393.0h0M361.8 266.9h0M191.1 343.7h0M512.0 340.9h0M446.2 362.4h0M40.9 214.9h0M215.8 361.6h0M504.0 237.0h0M509.5 349.5h0M449.0 14.0h0M425.2 409.9h0M417.9 453.9h0M484.0 38.0h0M62.1 203.0h0M433.2 382.1h0M392.7 394.3h0M333.2 324.0h0M520.8 211.7h0M290.6 410.4h0M440.6 435.5h0M115.5 324.0h0M280.1 268.9h0M322.7 370.6h0M504.1 429.6h0M136.2 313.4h0M134.0 63.0h0M544.2 142.3h0M520.9 336.2h0M202.5 415.7h0M304.9 298.7h0M372.0 454.0h0M98.0 284.7h0M407.0 466.0h0M510.1 347.5h0M275.6 451.0h0M245.0 437.0h0M470.4 320.2h0M400.4 332.0h0M420.9 463.3h0M155.8 232.5h0M437.1 246.4h0M489.8 244.1h0M227.6 333.4h0M513.5 287.7h0M311.1 335.3h0M408.2 25.9h0M150.0 366.0h0M282.9 346.3h0M436.0 450.0h0M394.0 423.0h0M189.3 363.2h0M320.1 437.1h0M207.9 275.7h0M502.3 336.3h0M596.1 127.2h0M438.4 339.8h0M243.3 416.4h0M181.9 128.9h0M379.0 461.0h0M541.3 351.1h0M414.6 374.0h0M248.5 395.3h0M285.7 358.6h0M268.4 383.5h0M544.1 89.4h0M463.3 211.8h0M331.7 445.0h0M393.0 458.6h0M202.0 358.3h0M59.2 106.2h0M143.6 144.9h0M269.0 466.0h0M466.4 315.0h0M465.4 423.8h0M443.0 195.4h0M207.4 209.3h0M175.0 377.0h0M320.8 404.4h0M425.9 286.9h0M326.9 265.6h0M477.1 400.9h0M377.1 365.0h0M341.3 302.8h0M412.3 322.2h0M73.2 146.5h0M384.3 458.2h0M578.1 182.9h0M379.7 469.3h0M510.7 36.6h0M423.2 300.7h0M336.0 25.0h0M261.0 18.0h0M176.0 28.0h0M388.6 13.9h0M436.0 357.9h0M411.5 464.5h0M351.2 430.5h0M497.6 240.9h0M89.7 257.0h0M245.1 423.2h0M539.0 290.0h0M406.2 346.9h0M330.3 448.5h0M483.7 382.5h0M381.2 465.7h0M447.0 463.0h0M162.8 68.5h0M372.2 306.0h0M436.8 387.9h0M402.5 278.1h0M463.6 358.2h0M423.5 328.4h0M359.0 439.1h0M334.3 417.7h0M441.7 398.9h0M236.2 415.5h0M498.5 415.4h0M101.7 141.9h0M89.0 296.0h0M421.4 126.7h0M212.5 401.7h0M421.3 260.1h0M211.9 320.8h0M427.2 367.0h0M212.9 425.8h0M498.3 287.8h0M333.3 320.3h0M129.4 153.3h0M221.9 415.2h0M505.0 419.0h0M397.9 382.6h0M197.6 390.9h0M357.5 420.8h0M435.5 459.6h0M369.0 16.0h0M231.6 410.5h0M361.5 387.8h0M184.0 31.4h0M531.2 59.7h0M232.0 434.1h0M178.9 194.1h0M457.7 341.5h0M374.9 303.3h0M432.8 287.2h0M458.8 417.1h0M325.5 456.3h0M302.8 409.5h0M312.0 426.5h0M350.9 377.7h0M210.5 378.0h0M374.8 398.2h0M177.0 372.8h0M425.5 365.5h0M554.9 101.0h0M592.0 173.0h0M438.3 340.6h0M300.0 461.0h0M233.6 155.4h0M525.3 324.6h0M539.7 318.8h0M450.8 455.7h0M230.4 358.9h0M224.0 426.4h0M501.9 346.6h0M459.9 440.0h0M307.8 444.0h0M319.8 350.5h0M241.0 430.0h0M456.4 250.3h0M223.3 433.9h0M260.5 454.4h0M488.1 40.0h0M501.4 392.5h0M492.8 285.3h0M379.1 103.7h0M60.0 92.0h0M501.7 292.9h0M178.7 207.5h0M247.6 389.9h0M521.9 338.0h0M223.4 417.5h0M437.4 441.3h0M511.8 327.6h0M314.6 418.7h0M138.7 343.6h0M590.3 119.4h0M407.4 411.0h0M376.8 335.7h0M235.7 360.0h0M575.9 253.6h0M462.7 209.5h0M277.0 323.2h0M174.3 342.8h0M216.5 200.3h0M377.1 43.1h0M426.2 451.3h0M526.6 310.6h0M499.1 280.7h0M503.0 370.9h0M463.3 371.3h0M231.1 24.9h0M510.4 357.1h0M582.0 120.0h0M360.7 66.2h0M419.7 385.6h0M469.1 322.7h0M316.5 385.6h0M258.7 422.8h0M89.1 75.1h0M399.4 167.7h0M406.3 453.2h0M362.3 447.7h0M301.9 473.8h0M347.9 400.1h0M395.3 315.9h0M497.2 34.1h0M177.3 359.4h0M208.1 305.5h0M204.2 269.2h0M462.6 451.3h0M274.0 9.0h0M83.9 209.7h0M290.9 423.7h0M488.0 383.8h0M512.1 307.1h0M204.0 400.0h0M355.0 480.2h0M365.5 462.8h0M282.7 370.9h0M211.7 397.7h0M514.2 417.3h0M502.1 398.3h0M388.6 322.6h0M172.4 358.4h0M453.8 341.1h0M251.8 414.9h0M124.8 89.7h0M446.5 413.6h0M396.1 436.2h0M457.5 329.3h0M393.2 430.0h0M525.0 326.0h0M380.9 424.4h0M511.6 92.4h0M268.4 389.0h0M379.3 362.2h0M329.2 374.7h0M536.0 327.0h0M360.2 464.1h0M433.4 69.4h0M342.9 435.2h0M448.2 314.3h0M214.9 380.9h0M470.7 44.4h0M574.0 118.0h0M236.9 390.7h0M535.8 350.5h0M260.0 440.0h0M254.1 114.1h0M527.7 404.7h0M356.7 360.5h0M184.0 382.0h0M256.7 438.2h0M287.4 457.4h0M391.1 357.6h0M110.0 298.0h0M280.9 304.6h0M250.7 352.3h0M363.4 165.7h0M371.1 474.8h0M338.2 89.1h0M397.4 375.2h0M517.0 338.1h0M372.8 470.9h0M297.3 270.0h0M247.7 390.8h0M374.9 441.5h0M254.7 355.9h0M61.0 215.0h0M499.3 148.8h0M542.1 184.7h0M174.0 378.0h0M208.9 334.6h0M325.9 472.6h0M198.5 381.3h0M113.6 132.3h0M273.7 349.4h0M220.7 359.2h0M323.3 369.2h0M294.2 249.0h0M317.5 426.8h0M382.6 431.1h0M297.2 410.1h0M202.8 390.4h0M130.8 298.4h0M540.4 140.5h0M334.9 441.4h0M490.0 412.0h0M188.0 380.0h0M516.7 400.7h0M322.8 455.8h0M291.7 319.5h0M320.1 454.8h0M307.9 320.5h0M337.8 451.4h0M311.8 460.2h0M104.2 301.9h0M347.3 417.2h0M424.9 192.8h0M323.3 333.4h0M398.4 338.2h0M423.9 62.6h0M554.7 126.2h0M246.0 32.0h0M205.8 369.1h0M277.4 327.4h0M397.5 427.3h0M352.4 52.5h0M181.1 364.4h0M286.9 412.1h0M78.8 230.6h0M121.0 271.1h0M353.8 448.2h0M260.8 399.7h0M568.5 96.1h0M399.6 300.1h0M242.0 17.0h0M315.4 447.1h0M436.0 450.0h0M279.0 429.5h0M482.5 306.9h0M546.0 290.0h0M385.7 60.6h0M579.0 182.0h0M369.2 214.4h0M220.7 360.7h0M160.1 207.2h0M443.0 463.0h0M498.9 409.6h0M229.5 376.0h0M342.8 436.5h0M509.0 428.0h0M424.5 365.2h0M358.0 327.5h0M356.9 343.2h0M129.8 334.7h0M507.6 141.1h0M40.1 191.0h0M455.0 29.0h0M311.2 369.1h0M195.8 400.5h0M210.3 35.9h0M549.0 272.0h0M407.6 412.1h0M451.2 337.3h0M214.4 372.9h0M326.1 370.6h0M220.9 106.2h0M347.5 471.8h0M303.6 301.4h0M418.9 337.5h0M494.4 83.6h0M568.1 266.3h0M335.7 462.8h0M535.2 283.9h0M324.9 321.1h0M34.0 149.0h0M200.7 170.2h0M196.0 407.0h0M421.2 358.4h0M351.0 465.0h0M511.0 42.0h0M395.6 304.2h0M208.8 152.5h0M421.9 352.6h0M271.0 361.2h0M461.3 353.5h0M257.9 379.0h0M400.9 390.0h0M34.0 175.0h0M524.4 363.8h0M213.4 134.3h0M369.8 438.1h0M414.3 460.5h0M463.7 54.7h0M465.2 288.9h0M158.0 342.0h0M412.3 448.9h0M479.6 254.4h0M450.1 233.9h0M206.7 177.8h0M205.0 418.0h0M336.7 369.3h0M163.0 362.0h0M356.0 460.0h0M354.1 438.6h0M308.3 29.8h0M543.5 358.6h0M425.0 326.2h0M425.1 444.6h0M416.0 455.0h0M249.0 409.1h0M267.1 364.5h0M221.2 417.9h0M190.0 33.0h0M426.4 413.1h0M365.5 336.7h0M393.8 405.0h0M295.1 378.8h0M206.4 141.7h0M410.0 19.0h0M325.6 340.6h0M215.5 363.8h0M572.0 223.2h0M304.3 30.7h0M268.0 28.0h0M417.4 306.5h0M204.4 326.2h0M274.5 436.3h0M211.0 417.8h0M398.6 389.8h0M46.9 131.7h0M52.9 232.6h0M261.0 440.0h0M249.2 426.7h0M464.1 309.0h0M273.0 464.0h0M313.9 117.6h0M324.1 404.6h0M601.0 135.0h0M395.7 450.5h0M497.4 342.8h0M237.3 333.2h0M379.2 453.2h0M230.7 426.5h0M464.5 421.9h0M252.8 318.7h0M460.8 347.8h0M321.2 420.2h0M446.0 275.0h0M505.2 256.1h0M402.8 328.9h0M302.8 381.2h0M232.0 440.0h0M445.3 397.4h0M249.6 304.8h0M30.0 201.0h0M263.1 377.4h0M213.7 252.5h0M344.1 459.3h0M470.1 358.0h0M461.7 224.3h0M357.7 451.1h0M367.1 440.5h0M129.0 332.0h0M328.7 378.1h0M394.1 329.3h0M292.8 400.9h0M507.6 261.9h0M307.0 456.0h0M150.0 348.0h0M342.2 345.3h0M236.4 404.0h0M279.3 109.0h0M265.2 395.3h0M304.2 321.1h0M536.0 345.0h0M407.0 26.0h0M515.3 310.6h0M118.5 250.2h0M411.8 432.8h0M285.5 437.3h0M379.2 326.3h0M374.7 334.1h0M571.0 140.0h0M504.0 414.0h0M100.7 294.8h0M321.0 450.8h0M292.1 313.8h0M537.0 377.0h0M234.0 157.5h0M270.8 253.7h0M343.8 353.5h0M111.8 123.1h0M430.5 371.0h0M523.7 337.5h0M115.8 236.9h0M227.8 413.5h0M214.1 402.7h0M85.0 265.0h0M579.0 236.0h0M391.0 433.3h0M442.5 304.5h0M509.4 407.2h0M414.0 457.0h0M432.5 441.7h0M368.0 4.0h0M504.0 151.7h0M450.3 17.4h0M164.5 206.4h0M270.1 363.0h0M565.2 211.3h0M180.2 321.0h0M237.3 439.2h0M422.0 8.0h0M471.5 289.5h0M235.0 296.9h0M407.5 404.5h0M200.4 402.9h0M311.0 328.4h0M545.2 286.3h0M520.7 223.9h0M440.6 414.4h0M259.3 291.9h0M199.1 76.9h0M419.8 458.4h0M305.9 463.3h0M79.0 288.0h0M348.6 377.7h0M245.8 367.8h0M521.0 369.0h0M378.9 411.7h0M427.0 394.3h0M177.8 154.8h0M128.8 52.0h0M236.0 436.0h0M471.4 33.4h0M507.0 404.0h0M446.5 25.2h0M345.0 410.6h0M36.0 182.0h0M505.5 49.2h0M498.4 267.3h0M259.9 300.4h0M390.8 281.4h0M383.4 327.8h0M489.4 269.0h0M458.5 196.5h0M334.2 423.5h0M388.2 464.8h0M487.5 254.0h0M429.0 427.1h0M467.3 88.1h0M121.9 74.5h0M466.4 334.5h0M233.6 345.9h0M408.1 323.0h0M306.6 425.4h0M362.1 448.5h0M237.6 338.1h0M301.0 374.4h0M280.9 339.0h0M514.2 378.3h0M549.0 85.0h0M61.1 248.6h0M448.0 362.6h0M453.8 300.9h0M521.2 167.5h0M304.9 364.0h0M175.8 321.0h0M496.2 300.1h0M330.3 381.9h0M424.1 398.7h0M365.8 330.7h0M425.6 318.5h0M187.6 353.2h0M376.2 459.3h0M520.0 391.0h0M222.0 426.0h0M288.5 438.1h0M342.5 288.4h0M335.4 323.9h0M117.3 285.3h0M342.6 344.9h0M351.4 367.9h0M437.1 193.6h0M196.5 405.4h0M387.0 373.2h0M413.0 366.2h0M184.9 345.2h0M196.2 351.3h0M444.2 422.7h0M568.0 233.5h0M311.1 266.4h0M328.0 471.0h0M521.0 416.0h0M217.0 409.0h0M239.3 322.0h0M303.2 354.9h0M247.0 438.0h0M304.7 464.3h0M200.3 21.9h0M506.0 278.9h0M338.0 474.0h0M280.0 294.6h0M191.1 54.2h0M192.6 347.5h0M247.7 439.8h0M515.4 253.2h0M172.7 371.3h0M295.0 459.0h0M421.0 24.0h0M453.1 423.0h0M364.3 433.2h0M217.3 372.8h0M178.2 361.6h0M353.8 385.2h0M331.9 374.6h0M317.8 394.8h0M528.0 375.0h0M205.5 302.5h0M534.2 321.1h0M353.8 318.8h0M482.3 324.2h0M350.0 468.0h0M322.6 346.3h0M444.2 376.8h0"/><path stroke="#8da0cb" d="M65.0 123.0h0M209.9 338.5h0M230.8 262.3h0M363.0 476.0h0M445.8 183.7h0M329.8 372.4h0M414.8 437.3h0M242.8 382.6h0M445.7 349.1h0M261.5 308.1h0M528.6 329.9h0M361.2 322.2h0M448.6 201.6h0M297.7 329.1h0M437.2 220.4h0M182.1 46.9h0M236.9 381.6h0M540.6 255.7h0M255.9 457.2h0M434.2 344.5h0M495.2 428.2h0M509.2 383.9h0M452.7 380.2h0M510.7 330.0h0M380.1 305.0h0M358.4 17.5h0M315.9 383.1h0M490.8 425.9h0M220.6 325.5h0M176.0 353.7h0M258.5 450.6h0M208.0 412.0h0M519.8 315.0h0M338.0 471.0h0M492.1 372.9h0M203.4 373.3h0M205.0 400.0h0M314.6 454.0h0M372.5 433.0h0M206.6 94.1h0M520.1 347.9h0M392.1 419.6h0M331.0 474.0h0M539.8 351.7h0M396.0 454.0h0M214.0 29.0h0M229.3 304.5h0M251.7 386.9h0M371.1 400.1h0M222.0 424.6h0M506.0 50.4h0M223.0 411.1h0M247.3 445.3h0M367.0 388.0h0M294.9 389.1h0M153.0 128.1h0M250.4 344.3h0M260.0 441.0h0M387.7 304.9h0M323.0 473.0h0M443.4 312.1h0M266.3 332.4h0"/><path stroke="#e78ac3" d="M228.0 414.0h0M268.0 356.1h0M525.8 301.2h0M188.4 22.5h0M197.4 321.3h0M210.1 28.2h0M431.0 377.4h0M579.0 235.0h0M483.0 444.0h0M145.5 215.8h0M61.4 149.8h0M365.4 372.5h0M498.0 182.1h0M323.8 378.0h0M334.2 475.3h0M342.1 372.8h0M191.6 396.4h0M277.1 456.5h0M80.9 213.9h0M136.0 326.0h0M471.2 432.0h0M248.3 368.1h0M509.0 418.0h0M466.1 342.5h0M392.5 297.2h0M567.0 234.8h0M525.7 163.2h0M591.0 249.0h0M226.8 337.3h0M388.7 430.4h0M224.5 337.0h0M320.0 462.0h0M462.4 264.1h0"/><path stroke="#a6dc54" d="M562.0 264.0h0M431.4 429.5h0M223.9 235.5h0M52.3 224.3h0M214.8 336.7h0M494.8 333.3h0M211.7 46.0h0M407.5 324.8h0M540.0 295.5h0M222.2 391.0h0M185.6 29.2h0M186.5 265.5h0M324.5 475.9h0M276.7 67.7h0M205.1 335.1h0M190.0 24.0h0M475.1 277.0h0M243.8 12.2h0M382.2 436.0h0M170.3 372.9h0M352.6 303.9h0M438.7 335.4h0M371.4 457.2h0M377.9 402.2h0M456.4 405.0h0M500.6 294.7h0M565.3 168.5h0M223.5 295.1h0M40.0 199.0h0M541.0 216.1h0M396.0 371.0h0M213.0 292.0h0M550.0 199.9h0M282.3 350.0h0M485.0 429.0h0M421.0 460.2h0M441.6 436.2h0M484.4 305.0h0M347.1 390.1h0M92.0 298.0h0M392.5 349.0h0M155.8 344.7h0M373.9 119.7h0M240.1 383.0h0M353.6 394.3h0M441.2 324.0h0M578.3 138.7h0M438.1 310.5h0M217.2 419.5h0M443.8 63.2h0M348.0 458.0h0M188.0 379.0h0M406.4 361.7h0M505.0 299.4h0M362.1 8.8h0M170.6 71.7h0M200.6 364.2h0M500.3 93.6h0M548.0 66.0h0M416.6 424.6h0M344.6 329.0h0M130.1 301.9h0M380.7 299.2h0M269.2 453.5h0M408.6 309.5h0M203.0 323.2h0M405.0 403.6h0M361.0 475.0h0M410.9 289.9h0M519.3 320.6h0M548.5 311.4h0M79.0 100.0h0M233.4 82.5h0M476.0 176.5h0M364.7 463.0h0M477.1 321.7h0M300.2 315.1h0M253.0 347.5h0M503.8 250.9h0M377.5 404.1h0M416.0 419.7h0M498.5 341.3h0M61.9 138.3h0M172.0 364.0h0M346.4 375.9h0M74.0 270.0h0M282.0 363.3h0M376.2 253.1h0M210.9 398.1h0M526.2 364.6h0M460.3 437.6h0M433.3 252.3h0M419.2 356.7h0M320.7 313.8h0M460.0 440.0h0M161.7 278.1h0M283.3 342.3h0M486.7 135.6h0M221.0 436.0h0M481.4 343.6h0M325.0 324.0h0M289.4 312.3h0M538.6 307.5h0M406.8 420.4h0M122.7 321.9h0M497.6 407.4h0M241.3 329.9h0M526.5 273.0h0M390.0 21.0h0M275.6 395.3h0M519.0 54.0h0M216.2 49.4h0M399.4 285.8h0M339.0 412.0h0M429.7 258.1h0M248.0 32.8h0M354.1 401.0h0M236.5 430.1h0M246.5 371.3h0M526.5 383.7h0M152.1 210.0h0M546.9 188.2h0M421.2 332.1h0M569.3 263.8h0M198.7 67.6h0M209.9 308.0h0M250.3 416.4h0M181.5 287.1h0M331.6 250.4h0M452.8 100.0h0M239.2 148.6h0M338.1 344.8h0M359.4 323.1h0M109.3 110.9h0M333.5 437.4h0M588.0 161.0h0M412.3 19.4h0M259.9 384.4h0M365.9 381.6h0M347.2 327.5h0M41.0 138.0h0M236.3 344.7h0M411.0 270.9h0M239.0 309.1h0M536.4 273.3h0M216.6 305.4h0M118.2 293.6h0M461.6 401.4h0M328.2 353.8h0M287.5 345.7h0M351.2 415.3h0M151.4 151.6h0M472.4 124.2h0M239.6 398.8h0M246.2 115.6h0M523.6 409.2h0M91.5 243.2h0M572.8 242.3h0M178.0 338.5h0M242.0 121.8h0M507.5 194.7h0M386.2 217.7h0M387.2 458.9h0M223.0 424.0h0M308.2 458.3h0M346.7 162.7h0M350.0 26.0h0M302.4 375.5h0M417.2 302.7h0M510.6 173.9h0M254.9 84.1h0M449.5 450.7h0M254.0 434.0h0M271.8 314.9h0M272.1 361.3h0M528.1 368.7h0M311.1 331.0h0M419.4 363.9h0M146.0 58.0h0M442.0 270.2h0M258.7 423.7h0M505.8 331.2h0M498.5 415.5h0M517.9 385.3h0M332.3 308.0h0M369.7 132.8h0M341.7 196.5h0M101.0 301.7h0M414.0 90.8h0M489.1 424.3h0M237.4 431.6h0M377.1 78.6h0M140.0 53.0h0M364.8 420.1h0M71.0 243.0h0M238.0 17.2h0M274.2 389.9h0M567.1 215.3h0M474.7 355.1h0M416.6 370.5h0M97.7 103.3h0M433.8 75.3h0M405.3 394.6h0M285.6 465.8h0M177.2 264.7h0M527.4 374.2h0M306.8 328.2h0M137.2 323.1h0"/><path stroke="#f2d93a" d="M384.7 340.6h0M324.6 275.7h0M278.1 404.6h0M204.2 159.4h0M221.7 433.9h0M178.9 300.5h0M462.4 103.3h0M300.7 471.4h0M499.0 231.6h0M208.4 234.3h0M437.5 377.7h0M311.1 408.0h0M520.4 346.6h0M273.9 308.3h0M471.8 275.3h0M198.1 298.7h0M288.9 386.9h0M269.1 433.4h0M138.0 330.0h0M415.1 387.9h0M426.4 395.8h0M548.0 328.9h0M382.5 82.3h0M439.0 30.0h0M254.0 417.6h0M274.2 365.4h0M422.7 315.0h0M413.1 368.1h0M439.9 228.7h0M194.0 376.0h0M255.0 435.0h0M489.3 315.3h0M433.7 435.7h0M433.7 394.4h0M437.5 407.2h0M451.7 328.8h0M49.0 205.0h0M198.0 29.0h0M395.2 438.1h0M419.4 80.9h0M345.4 319.1h0M427.6 422.6h0M277.4 343.3h0M310.9 442.4h0M261.0 338.8h0M308.5 461.8h0M61.0 271.0h0M520.0 351.0h0M582.0 97.0h0M333.4 342.0h0M405.5 114.9h0M421.6 434.2h0M557.2 140.0h0M84.0 107.0h0M369.2 461.4h0M238.7 376.4h0M247.0 23.0h0M185.0 384.0h0M362.0 282.0h0M417.4 37.4h0M235.0 427.0h0M109.4 54.0h0M583.0 249.0h0M48.0 243.0h0M50.0 205.0h0M190.9 231.9h0M63.7 257.7h0M202.0 401.0h0M430.9 275.4h0M171.3 62.7h0M143.6 236.3h0M274.7 335.4h0M73.8 180.2h0M466.8 278.3h0M516.7 56.5h0M255.9 349.2h0M234.6 164.3h0M303.7 42.3h0M67.7 235.9h0M79.0 298.0h0M140.2 215.3h0M366.7 452.3h0M350.7 341.4h0M573.0 264.0h0M550.9 232.8h0M362.2 329.1h0M532.8 118.2h0M436.1 267.7h0M326.8 464.3h0M241.0 17.0h0M313.1 421.1h0M452.7 33.3h0M253.7 452.8h0M166.4 77.3h0M427.0 398.8h0M511.0 426.0h0M474.8 25.2h0M244.8 422.6h0M344.8 392.8h0M167.8 44.5h0M260.6 437.0h0M278.7 21.1h0M354.0 238.5h0M160.6 112.1h0M315.7 87.8h0M126.4 87.6h0M77.8 200.7h0M241.8 416.8h0M256.6 377.1h0M532.7 364.2h0M222.0 412.0h0M368.4 37.1h0M175.5 174.5h0M462.4 296.8h0M321.6 407.4h0M557.0 286.0h0M438.5 452.6h0M287.0 6.0h0M363.6 475.3h0M223.0 427.0h0M458.6 434.6h0M366.0 21.0h0M405.1 373.3h0M274.6 355.8h0M394.2 443.9h0M397.0 470.0h0M424.2 373.9h0M243.8 434.8h0M235.6 379.6h0M159.6 119.2h0M457.8 403.0h0M257.7 79.1h0M380.5 406.7h0M155.7 207.9h0M375.5 323.4h0M360.0 322.5h0M433.0 164.6h0M457.6 257.1h0M246.3 345.2h0M389.8 384.7h0M435.5 334.8h0M205.2 406.1h0M320.0 137.7h0M197.0 389.0h0M436.8 419.8h0M404.9 456.1h0M386.4 332.2h0M97.6 69.5h0M532.7 83.1h0M236.3 322.6h0M139.5 301.8h0M368.5 68.3h0M205.0 394.0h0M443.6 397.5h0M152.9 346.1h0M214.4 370.8h0M537.8 165.5h0M41.0 244.0h0M399.5 142.8h0M190.1 274.1h0M485.0 312.6h0M529.8 381.3h0M360.2 404.2h0M591.0 187.0h0M225.3 322.1h0M328.0 376.5h0M406.3 275.4h0M388.4 73.9h0M518.1 362.6h0M302.8 425.9h0M188.0 23.0h0M506.3 426.0h0M346.9 392.3h0M455.1 434.9h0M425.0 31.0h0M338.8 175.9h0M179.9 260.2h0M266.9 138.2h0M276.2 363.0h0M529.9 261.8h0M166.7 360.9h0M208.0 394.0h0M495.6 312.4h0M485.3 361.1h0M247.9 441.8h0"/></g>
<circle cx="322" cy="275" r="15.5" fill="#fff" stroke="#000" stroke-width="2.3"/>
<text transform="translate(322 280.9) scale(.9 1)" class="hub" stroke="#000" stroke-width=".5">C1</text>
<circle cx="352" cy="284" r="15.5" fill="#fff" stroke="#000" stroke-width="2.3"/>
<text transform="translate(352 289.9) scale(.9 1)" class="hub" stroke="#000" stroke-width=".5">C2</text>
<circle cx="234" cy="192" r="15.5" fill="#fff" stroke="#000" stroke-width="2.3"/>
<text transform="translate(234 197.9) scale(.9 1)" class="hub" stroke="#000" stroke-width=".5">C3</text>
<circle cx="384" cy="185" r="15.5" fill="#fff" stroke="#000" stroke-width="2.3"/>
<text transform="translate(384 190.9) scale(.9 1)" class="hub" stroke="#000" stroke-width=".5">C4</text>
<defs><linearGradient id="cbg" x1="0" y1="0" x2="0" y2="1"><stop offset="0.0000" stop-color="#000000"/><stop offset="0.0625" stop-color="#0e0e13"/><stop offset="0.1250" stop-color="#1c1c27"/><stop offset="0.1875" stop-color="#2a2a3a"/><stop offset="0.2500" stop-color="#38384e"/><stop offset="0.3125" stop-color="#464661"/><stop offset="0.3750" stop-color="#545574"/><stop offset="0.4375" stop-color="#626881"/><stop offset="0.5000" stop-color="#707b8f"/><stop offset="0.5625" stop-color="#7e8e9d"/><stop offset="0.6250" stop-color="#8ba1ab"/><stop offset="0.6875" stop-color="#99b4b9"/><stop offset="0.7500" stop-color="#a8c7c7"/><stop offset="0.8125" stop-color="#bed5d5"/><stop offset="0.8750" stop-color="#d3e3e3"/><stop offset="0.9375" stop-color="#e9f1f1"/><stop offset="1.0000" stop-color="#ffffff"/></linearGradient></defs><rect x="643" y="195" width="16.2" height="120.8" fill="url(#cbg)" stroke="#333" stroke-width="0.8"/><text x="666.3" y="201.6" class="cb">1</text><text x="665.2" y="322.4" class="cb">0</text>
<circle cx="78.8" cy="496.2" r="5.1" fill="#74d3a9"/><text transform="translate(97 503.8) scale(.925 1)" class="leg">AD</text><circle cx="154.2" cy="496.2" r="5.1" fill="#f08860"/><text transform="translate(173 503.8) scale(.925 1)" class="leg">ADHD</text><circle cx="265" cy="496.2" r="5.1" fill="#8fa3d0"/><text transform="translate(284 503.8) scale(.925 1)" class="leg">CD</text><circle cx="344" cy="496.2" r="5.1" fill="#e58fd0"/><text transform="translate(363 503.8) scale(.925 1)" class="leg">DD</text><circle cx="430" cy="496.2" r="5.1" fill="#a4e35a"/><text transform="translate(447.3 503.8) scale(.925 1)" class="leg">OCD</text><circle cx="528.3" cy="496.2" r="5.1" fill="#f2dd40"/><text transform="translate(547.5 503.8) scale(.925 1)" class="leg">ODD</text>
<text transform="translate(13.6 17.6) scale(.9 1)" class="pan" style="font-size:31px" stroke="#000" stroke-width=".7">a</text>
</g>
<g id="panel-b">
<path d="M244.4 1031.7A193 193 0 0 0 280.3 1046.9M229.2 1059.6A224.7 224.7 0 0 0 270.9 1077.2M213.7 1087.9A257 257 0 0 0 261.4 1108M491.4 978.1A193 193 0 0 0 511.5 944.9M516.8 997.1A224.7 224.7 0 0 0 540.1 958.4M542.7 1016.5A257 257 0 0 0 569.3 972.2M529.9 858A193 193 0 0 0 525.1 819.3M561.6 857.2A224.7 224.7 0 0 0 556 812.2M593.9 856.5A257 257 0 0 0 587.5 805M429.6 693.1A193 193 0 0 0 393.7 677.9M444.8 665.2A224.7 224.7 0 0 0 403.1 647.6M460.3 636.9A257 257 0 0 0 412.6 616.8M236.6 697.6A193 193 0 0 0 205.6 721M220.1 670.5A224.7 224.7 0 0 0 184 697.8M203.3 642.9A257 257 0 0 0 162.1 674.1M144.1 866.9A193 193 0 0 0 148.9 905.5M112.4 867.6A224.7 224.7 0 0 0 118 912.6M80.1 868.4A257 257 0 0 0 86.5 919.8" fill="none" stroke="#adadad" stroke-width="0.8"/>
<path d="M181.7 904.9L122.9 921L129.4 941.1L186.4 919.5Z" fill="#7dd0aa" stroke="#111" stroke-width="1.3" stroke-linejoin="miter"/>
<path d="M186.4 919.5L153.8 931.8L161.2 948.9L192.6 933.5Z" fill="#7dd0aa" stroke="#111" stroke-width="1.3" stroke-linejoin="miter"/>
<path d="M192.6 933.5L167.2 946L175.9 961.8L200 946.9Z" fill="#7dd0aa" stroke="#111" stroke-width="1.3" stroke-linejoin="miter"/>
<path d="M200 946.9L169.9 965.4L180.5 980.9L208.6 959.6Z" fill="#7dd0aa" stroke="#111" stroke-width="1.3" stroke-linejoin="miter"/>
<path d="M208.6 959.6L163.7 993.5L177 1009.4L218.4 971.3Z" fill="#ef8762" stroke="#111" stroke-width="1.3" stroke-linejoin="miter"/>
<path d="M218.4 971.3L194.6 993.2L207.7 1006.2L229.3 982.1Z" fill="#ef8762" stroke="#111" stroke-width="1.3" stroke-linejoin="miter"/>
<path d="M229.3 982.1L207.6 1006.3L221.9 1017.9L241.2 991.8Z" fill="#ef8762" stroke="#111" stroke-width="1.3" stroke-linejoin="miter"/>
<path d="M241.2 991.8L218.8 1022L234.5 1032.5L253.9 1000.3Z" fill="#ef8762" stroke="#111" stroke-width="1.3" stroke-linejoin="miter"/>
<path d="M296.1 1018.1L285.1 1060.2L304.1 1064.2L311.1 1021.3Z" fill="#7dd0aa" stroke="#111" stroke-width="1.3" stroke-linejoin="miter"/>
<path d="M311.1 1021.3L300.9 1084.3L322.1 1086.7L326.4 1023Z" fill="#7dd0aa" stroke="#111" stroke-width="1.3" stroke-linejoin="miter"/>
<path d="M326.4 1023L325 1043.7L342.3 1044L341.7 1023.3Z" fill="#7dd0aa" stroke="#111" stroke-width="1.3" stroke-linejoin="miter"/>
<path d="M341.7 1023.3L342.6 1053.8L360.7 1052.4L357 1022.2Z" fill="#7dd0aa" stroke="#111" stroke-width="1.3" stroke-linejoin="miter"/>
<path d="M357 1022.2L363.8 1077.2L384.1 1073.7L372 1019.5Z" fill="#ef8762" stroke="#111" stroke-width="1.3" stroke-linejoin="miter"/>
<path d="M372 1019.5L385.5 1079.7L405.9 1074.1L386.8 1015.5Z" fill="#ef8762" stroke="#111" stroke-width="1.3" stroke-linejoin="miter"/>
<path d="M386.8 1015.5L394.4 1038.8L410.9 1032.5L401.2 1010.1Z" fill="#ef8762" stroke="#111" stroke-width="1.3" stroke-linejoin="miter"/>
<path d="M401.2 1010.1L407.9 1025.6L423.1 1018.1L414.9 1003.3Z" fill="#ef8762" stroke="#111" stroke-width="1.3" stroke-linejoin="miter"/>
<path d="M414.9 1003.3L429.8 1030.3L445.3 1020.7L427.9 995.3Z" fill="#93a3cf" stroke="#111" stroke-width="1.3" stroke-linejoin="miter"/>
<path d="M427.9 995.3L455.9 1036.1L471.9 1024L440.2 986Z" fill="#93a3cf" stroke="#111" stroke-width="1.3" stroke-linejoin="miter"/>
<path d="M440.2 986L453.4 1001.8L466.1 990.1L451.4 975.6Z" fill="#93a3cf" stroke="#111" stroke-width="1.3" stroke-linejoin="miter"/>
<path d="M451.4 975.6L491.7 1015.5L505.5 1000.1L461.7 964.3Z" fill="#93a3cf" stroke="#111" stroke-width="1.3" stroke-linejoin="miter"/>
<path d="M485.3 925L504.7 933.2L510.6 917L490.6 910.7Z" fill="#7dd0aa" stroke="#111" stroke-width="1.3" stroke-linejoin="miter"/>
<path d="M490.6 910.7L605.1 946.6L611.9 920.8L494.5 895.8Z" fill="#7dd0aa" stroke="#111" stroke-width="1.3" stroke-linejoin="miter"/>
<path d="M494.5 895.8L499.8 897L502.3 881.3L497 880.7Z" fill="#7dd0aa" stroke="#111" stroke-width="1.3" stroke-linejoin="miter"/>
<path d="M497 880.7L512.2 882.5L513.3 865.7L498 865.4Z" fill="#7dd0aa" stroke="#111" stroke-width="1.3" stroke-linejoin="miter"/>
<path d="M492.3 819.9L567 799.5L560 777.9L487.6 805.3Z" fill="#7dd0aa" stroke="#111" stroke-width="1.3" stroke-linejoin="miter"/>
<path d="M487.6 805.3L556.6 779.2L547.7 758.7L481.4 791.3Z" fill="#7dd0aa" stroke="#111" stroke-width="1.3" stroke-linejoin="miter"/>
<path d="M481.4 791.3L484.4 789.8L476.8 776.2L474 777.9Z" fill="#7dd0aa" stroke="#111" stroke-width="1.3" stroke-linejoin="miter"/>
<path d="M474 777.9L476.2 776.5L467.5 763.7L465.4 765.2Z" fill="#7dd0aa" stroke="#111" stroke-width="1.3" stroke-linejoin="miter"/>
<path d="M465.4 765.2L514.2 728.3L500.6 712.1L455.6 753.5Z" fill="#ef8762" stroke="#111" stroke-width="1.3" stroke-linejoin="miter"/>
<path d="M455.6 753.5L490.2 721.7L476.1 707.8L444.7 742.7Z" fill="#ef8762" stroke="#111" stroke-width="1.3" stroke-linejoin="miter"/>
<path d="M444.7 742.7L460.2 725.5L446.6 714.4L432.8 733Z" fill="#ef8762" stroke="#111" stroke-width="1.3" stroke-linejoin="miter"/>
<path d="M432.8 733L448 712.5L433.2 702.6L420.1 724.5Z" fill="#ef8762" stroke="#111" stroke-width="1.3" stroke-linejoin="miter"/>
<path d="M377.9 706.7L395 641.2L373.7 636.7L362.9 703.5Z" fill="#7dd0aa" stroke="#111" stroke-width="1.3" stroke-linejoin="miter"/>
<path d="M362.9 703.5L369.8 660.8L350.5 658.5L347.6 701.8Z" fill="#7dd0aa" stroke="#111" stroke-width="1.3" stroke-linejoin="miter"/>
<path d="M347.6 701.8L348.9 683.2L331.8 682.9L332.3 701.5Z" fill="#7dd0aa" stroke="#111" stroke-width="1.3" stroke-linejoin="miter"/>
<path d="M332.3 701.5L331.6 675.8L313.9 677.1L317 702.6Z" fill="#7dd0aa" stroke="#111" stroke-width="1.3" stroke-linejoin="miter"/>
<path d="M317 702.6L308.5 633.9L286.9 637.6L302 705.3Z" fill="#ef8762" stroke="#111" stroke-width="1.3" stroke-linejoin="miter"/>
<path d="M302 705.3L298 687.4L281.5 691.9L287.2 709.3Z" fill="#ef8762" stroke="#111" stroke-width="1.3" stroke-linejoin="miter"/>
<path d="M287.2 709.3L268.9 653.3L249.4 660.7L272.8 714.7Z" fill="#ef8762" stroke="#111" stroke-width="1.3" stroke-linejoin="miter"/>
<path d="M272.8 714.7L269.3 706.5L254.7 713.6L259.1 721.5Z" fill="#ef8762" stroke="#111" stroke-width="1.3" stroke-linejoin="miter"/>
<path d="M222.6 749.2L202.9 729.7L190.9 743.1L212.3 760.5Z" fill="#7dd0aa" stroke="#111" stroke-width="1.3" stroke-linejoin="miter"/>
<path d="M212.3 760.5L128.7 692.2L113.4 712.8L203.2 772.9Z" fill="#7dd0aa" stroke="#111" stroke-width="1.3" stroke-linejoin="miter"/>
<path d="M203.2 772.9L193.4 766.3L184.9 780.4L195.3 786Z" fill="#7dd0aa" stroke="#111" stroke-width="1.3" stroke-linejoin="miter"/>
<path d="M195.3 786L186 781L179 795.7L188.7 799.8Z" fill="#7dd0aa" stroke="#111" stroke-width="1.3" stroke-linejoin="miter"/>
<path d="M188.7 799.8L176.8 794.8L171.1 810.3L183.4 814.2Z" fill="#ef8762" stroke="#111" stroke-width="1.3" stroke-linejoin="miter"/>
<path d="M183.4 814.2L81.3 782.1L74.8 806.8L179.5 829Z" fill="#ef8762" stroke="#111" stroke-width="1.3" stroke-linejoin="miter"/>
<path d="M179.5 829L140.4 820.7L137.3 839.6L177 844.1Z" fill="#ef8762" stroke="#111" stroke-width="1.3" stroke-linejoin="miter"/>
<path d="M177 844.1L176.8 844.1L175.8 859.4L176 859.4Z" fill="#ef8762" stroke="#111" stroke-width="1.3" stroke-linejoin="miter"/>
<path d="M191.1 908.4A153 153 0 0 0 252.2 989.7M303.9 1011.8A153 153 0 0 0 451 964.5M480.1 916.5A153 153 0 0 0 489.7 872.2M482.9 816.4A153 153 0 0 0 421.8 735.1M370.1 713A153 153 0 0 0 269.1 725.3M224.2 759A153 153 0 0 0 184.3 852.6" fill="none" stroke="#333" stroke-width="1.7"/>
<text x="234.5" y="944.5" class="gl">AD</text>
<text x="376.8" y="989.2" class="gl">ADHD</text>
<text x="462.7" y="893.7" class="gl">CD</text>
<text x="439.5" y="789.5" class="gl">DD</text>
<text x="321.1" y="739.5" class="gl">OCD</text>
<text x="218.6" y="817" class="gl">ODD</text>
<text class="bl" text-anchor="end" transform="translate(120.7 932.8) rotate(-18) scale(.93 1)" y="4.9">MC/HSI (c1)</text>
<text class="bl" text-anchor="end" transform="translate(152.3 942.6) rotate(-23.5) scale(.93 1)" y="4.9">MC/HE (c2)</text>
<text class="bl" text-anchor="end" transform="translate(166.5 956.7) rotate(-28.9) scale(.93 1)" y="4.9">HC/LB (c3)</text>
<text class="bl" text-anchor="end" transform="translate(170.5 976.4) rotate(-34.4) scale(.93 1)" y="4.9">LC/LB (c4)</text>
<text class="bl" text-anchor="end" transform="translate(165.9 1005.2) rotate(-39.8) scale(.93 1)" y="4.9">MC/HSI (c1)</text>
<text class="bl" text-anchor="end" transform="translate(197.1 1003.8) rotate(-45.3) scale(.93 1)" y="4.9">MC/HE (c2)</text>
<text class="bl" text-anchor="end" transform="translate(211.1 1016.5) rotate(-50.8) scale(.93 1)" y="4.9">HC/LB (c3)</text>
<text class="bl" text-anchor="end" transform="translate(223.5 1032) rotate(-56.2) scale(.93 1)" y="4.9">LC/LB (c4)</text>
<text class="bl" text-anchor="end" transform="translate(293.4 1067.8) rotate(-78) scale(.93 1)" y="4.9">MC/HSI (c1)</text>
<text class="bl" text-anchor="end" transform="translate(310.9 1091.2) rotate(-83.5) scale(.93 1)" y="4.9">MC/HE (c2)</text>
<text class="bl" text-anchor="start" transform="translate(333.5 1049.6) rotate(91.1) scale(.93 1)" y="4.9">HC/LB (c3)</text>
<text class="bl" text-anchor="start" transform="translate(352.1 1058.8) rotate(85.6) scale(.93 1)" y="4.9">LC/LB (c4)</text>
<text class="bl" text-anchor="start" transform="translate(375 1081.1) rotate(80.2) scale(.93 1)" y="4.9">MC/HSI (c1)</text>
<text class="bl" text-anchor="start" transform="translate(397.2 1082.4) rotate(74.7) scale(.93 1)" y="4.9">MC/HE (c2)</text>
<text class="bl" text-anchor="start" transform="translate(404.7 1041) rotate(69.2) scale(.93 1)" y="4.9">HC/LB (c3)</text>
<text class="bl" text-anchor="start" transform="translate(418 1026.9) rotate(63.8) scale(.93 1)" y="4.9">LC/LB (c4)</text>
<text class="bl" text-anchor="start" transform="translate(440.6 1030.3) rotate(58.3) scale(.93 1)" y="4.9">MC/HSI (c1)</text>
<text class="bl" text-anchor="start" transform="translate(467.3 1034.6) rotate(52.9) scale(.93 1)" y="4.9">MC/HE (c2)</text>
<text class="bl" text-anchor="start" transform="translate(463.6 1000.2) rotate(47.4) scale(.93 1)" y="4.9">HC/LB (c3)</text>
<text class="bl" text-anchor="start" transform="translate(502.9 1011.6) rotate(42) scale(.93 1)" y="4.9">LC/LB (c4)</text>
<text class="bl" text-anchor="start" transform="translate(513 927.1) rotate(20.2) scale(.93 1)" y="4.9">MC/HSI (c1)</text>
<text class="bl" text-anchor="start" transform="translate(614.1 935.2) rotate(14.7) scale(.93 1)" y="4.9">MC/HE (c2)</text>
<text class="bl" text-anchor="start" transform="translate(506.7 890.1) rotate(9.3) scale(.93 1)" y="4.9">HC/LB (c3)</text>
<text class="bl" text-anchor="start" transform="translate(518.4 874.5) rotate(3.8) scale(.93 1)" y="4.9">LC/LB (c4)</text>
<text class="bl" text-anchor="start" transform="translate(569 786.9) rotate(-18) scale(.93 1)" y="4.9">MC/HSI (c1)</text>
<text class="bl" text-anchor="start" transform="translate(557.4 766.7) rotate(-23.5) scale(.93 1)" y="4.9">MC/HE (c2)</text>
<text class="bl" text-anchor="start" transform="translate(485.6 780.2) rotate(-28.9) scale(.93 1)" y="4.9">HC/LB (c3)</text>
<text class="bl" text-anchor="start" transform="translate(476.5 766.9) rotate(-34.4) scale(.93 1)" y="4.9">LC/LB (c4)</text>
<text class="bl" text-anchor="start" transform="translate(511.8 716.5) rotate(-39.8) scale(.93 1)" y="4.9">MC/HSI (c1)</text>
<text class="bl" text-anchor="start" transform="translate(487.2 710.6) rotate(-45.3) scale(.93 1)" y="4.9">MC/HE (c2)</text>
<text class="bl" text-anchor="start" transform="translate(457 715.5) rotate(-50.8) scale(.93 1)" y="4.9">HC/LB (c3)</text>
<text class="bl" text-anchor="start" transform="translate(443.8 702.8) rotate(-56.2) scale(.93 1)" y="4.9">LC/LB (c4)</text>
<text class="bl" text-anchor="end" transform="translate(385.6 633.3) rotate(102) scale(.93 1)" y="4.9">MC/HSI (c1)</text>
<text class="bl" text-anchor="end" transform="translate(360.8 654) rotate(96.5) scale(.93 1)" y="4.9">MC/HE (c2)</text>
<text class="bl" text-anchor="end" transform="translate(340.4 677.3) rotate(91.1) scale(.93 1)" y="4.9">HC/LB (c3)</text>
<text class="bl" text-anchor="end" transform="translate(322.3 670.8) rotate(85.6) scale(.93 1)" y="4.9">LC/LB (c4)</text>
<text class="bl" text-anchor="end" transform="translate(296.7 630.1) rotate(80.2) scale(.93 1)" y="4.9">MC/HSI (c1)</text>
<text class="bl" text-anchor="end" transform="translate(288.2 684.1) rotate(74.7) scale(.93 1)" y="4.9">MC/HE (c2)</text>
<text class="bl" text-anchor="end" transform="translate(257.1 651.6) rotate(69.2) scale(.93 1)" y="4.9">HC/LB (c3)</text>
<text class="bl" text-anchor="end" transform="translate(259.5 704.9) rotate(63.8) scale(.93 1)" y="4.9">LC/LB (c4)</text>
<text class="bl" text-anchor="end" transform="translate(192.7 732.6) rotate(42) scale(.93 1)" y="4.9">MC/HSI (c1)</text>
<text class="bl" text-anchor="end" transform="translate(116.4 699.1) rotate(36.5) scale(.93 1)" y="4.9">MC/HE (c2)</text>
<text class="bl" text-anchor="end" transform="translate(184.3 770.4) rotate(31.1) scale(.93 1)" y="4.9">HC/LB (c3)</text>
<text class="bl" text-anchor="end" transform="translate(177.4 785.9) rotate(25.6) scale(.93 1)" y="4.9">LC/LB (c4)</text>
<text class="bl" text-anchor="end" transform="translate(168.6 800.6) rotate(20.2) scale(.93 1)" y="4.9">MC/HSI (c1)</text>
<text class="bl" text-anchor="end" transform="translate(72.5 793) rotate(14.7) scale(.93 1)" y="4.9">MC/HE (c2)</text>
<text class="bl" text-anchor="end" transform="translate(133.2 829.2) rotate(9.2) scale(.93 1)" y="4.9">HC/LB (c3)</text>
<text class="bl" text-anchor="end" transform="translate(170.7 851.4) rotate(3.8) scale(.93 1)" y="4.9">LC/LB (c4)</text>
<text x="175.3" y="650.7" class="pl">60%</text>
<text x="194.3" y="675.7" class="pl">40%</text>
<text x="213.8" y="701.8" class="pl">20%</text>
<text x="336.5" y="835.5" class="lt">Cohorts</text>
<rect x="292.8" y="846" width="29.2" height="10.6" fill="#7dd0aa"/>
<text transform="translate(332.8 856.3) scale(.85 1)" class="li">ABCD</text>
<rect x="292.8" y="866.6" width="29.2" height="10.6" fill="#ef8762"/>
<text transform="translate(332.8 876.9) scale(.85 1)" class="li">BANDA</text>
<rect x="292.8" y="887.2" width="29.2" height="10.6" fill="#93a3cf"/>
<text transform="translate(332.8 897.5) scale(.85 1)" class="li">GESTE</text>
</g>
<text transform="translate(13.2 544) scale(1.08 1)" class="pan" style="font-size:26.5px" stroke="#000" stroke-width=".7">b</text>
</svg></body></html>
